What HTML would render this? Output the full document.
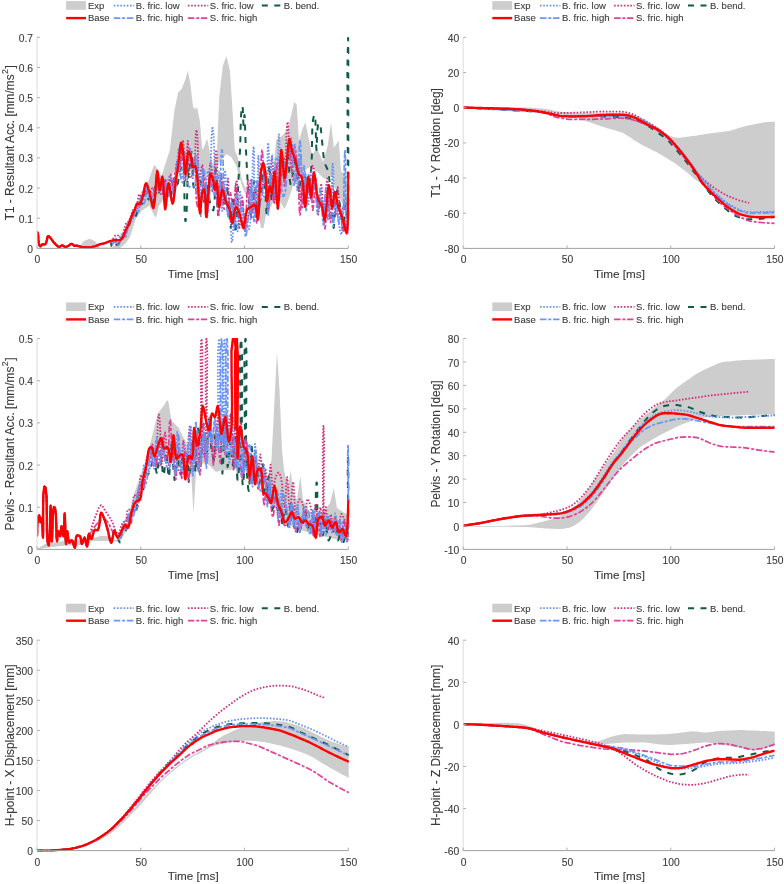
<!DOCTYPE html>
<html><head><meta charset="utf-8"><title>Figure</title>
<style>html,body{margin:0;padding:0;background:#fff;}svg{display:block;font-family:"Liberation Sans",sans-serif;filter:blur(0.35px);}text{stroke:#3a3a3a;stroke-width:0.1px;}</style>
</head><body>
<svg width="784" height="884" viewBox="0 0 784 884">
<defs><clipPath id="clipA"><rect x="37.0" y="36.8" width="312.3" height="211.9"/></clipPath>
<clipPath id="clipB"><rect x="463.2" y="36.8" width="312.3" height="211.9"/></clipPath>
<clipPath id="clipC"><rect x="37.0" y="338.1" width="312.3" height="211.9"/></clipPath>
<clipPath id="clipD"><rect x="463.2" y="338.1" width="312.3" height="211.9"/></clipPath>
<clipPath id="clipE"><rect x="37.0" y="639.7" width="312.3" height="211.9"/></clipPath>
<clipPath id="clipF"><rect x="463.2" y="639.7" width="312.3" height="211.9"/></clipPath></defs>
<rect width="784" height="884" fill="#fff"/>
<path d="M37.0,248.0 L78.0,248.0 L84.0,241.0 L89.6,238.7 L95.0,241.0 L100.0,247.5 L112.0,247.5 L120.0,242.0 L125.0,236.0 L130.0,222.0 L136.0,205.0 L142.0,192.0 L148.0,182.0 L154.1,164.7 L157.0,168.0 L161.3,176.8 L165.0,165.0 L169.8,150.3 L174.6,109.3 L178.2,92.4 L181.8,88.8 L185.4,79.2 L187.8,70.7 L190.2,82.8 L193.1,106.9 L195.1,109.3 L197.0,106.9 L199.9,121.3 L202.3,150.0 L204.7,145.4 L207.1,138.2 L209.5,150.3 L213.1,165.0 L216.7,157.5 L219.2,97.2 L222.8,65.9 L226.4,56.3 L230.0,70.7 L232.4,109.3 L234.8,150.3 L238.0,158.0 L242.0,180.0 L250.0,198.0 L258.0,204.0 L261.0,198.0 L263.5,198.0 L267.0,205.0 L272.0,185.0 L276.1,140.0 L282.0,136.0 L288.1,128.5 L294.2,102.0 L296.6,104.4 L299.0,140.5 L302.6,128.5 L305.5,122.4 L308.6,138.1 L312.2,155.0 L317.0,147.7 L323.0,162.1 L327.8,145.3 L331.0,122.4 L333.9,147.7 L338.7,140.5 L341.1,171.8 L345.9,174.2 L348.6,181.4 L348.6,205.5 L343.5,205.5 L336.3,191.0 L331.5,176.6 L324.2,179.0 L317.0,171.8 L309.8,167.0 L302.6,171.8 L297.8,176.6 L292.9,186.2 L288.1,200.7 L284.5,209.1 L280.9,203.0 L276.1,192.0 L272.0,205.0 L266.0,215.0 L263.5,228.0 L261.0,228.0 L258.0,212.0 L250.0,205.0 L242.0,186.0 L236.0,165.0 L231.2,157.0 L226.4,154.0 L219.2,162.3 L214.3,176.8 L210.0,195.0 L207.1,174.3 L199.9,172.0 L192.7,162.3 L185.4,157.5 L178.2,164.7 L173.4,172.0 L168.6,186.4 L166.1,196.0 L158.9,205.7 L156.0,218.0 L154.1,215.3 L149.3,205.7 L142.0,210.5 L136.0,218.3 L130.0,237.0 L125.3,243.8 L120.0,248.0 L37.0,248.0 Z" fill="#cdcdcd" stroke="none"/>
<g clip-path="url(#clipA)">
<path d="M37.0,231.7 L37.2,232.1 L37.5,232.5 L37.7,233.0 L37.9,233.6 L38.2,236.0 L38.4,239.4 L38.7,242.7 L39.2,245.0 L39.5,245.5 L39.8,245.9 L40.1,246.2 L40.5,246.3 L40.9,246.0 L41.4,245.5 L41.9,244.8 L42.4,244.4 L43.0,244.3 L43.7,244.4 L44.3,244.5 L44.9,244.4 L45.3,244.1 L45.6,243.7 L45.9,243.1 L46.2,242.5 L46.7,240.9 L47.1,238.9 L47.5,237.0 L48.1,236.1 L48.5,236.1 L49.0,236.5 L49.5,236.9 L50.0,237.4 L50.5,238.0 L51.0,238.6 L51.5,239.3 L52.0,240.0 L52.5,240.6 L52.9,241.3 L53.4,241.9 L53.9,242.5 L54.5,243.1 L55.1,243.8 L55.7,244.4 L56.4,245.0 L57.0,245.6 L57.7,246.2 L58.3,246.8 L59.0,247.0 L59.7,246.8 L60.5,246.2 L61.3,245.6 L62.1,245.3 L62.9,245.6 L63.7,246.1 L64.5,246.7 L65.3,247.0 L66.1,246.9 L66.9,246.6 L67.7,246.1 L68.5,245.7 L69.3,245.2 L70.1,244.5 L70.9,244.0 L71.7,243.8 L72.4,244.1 L73.0,244.7 L73.6,245.3 L74.3,245.7 L74.9,245.8 L75.5,245.8 L76.2,245.7 L76.8,245.7 L77.5,245.8 L78.1,246.0 L78.8,246.1 L79.4,246.3 L80.0,246.5 L80.6,246.7 L81.2,246.8 L81.9,247.0 L83.6,247.2 L85.6,247.3 L87.7,247.4 L89.6,247.3 L91.0,247.1 L92.2,246.9 L93.5,246.6 L94.7,246.3 L96.0,245.9 L97.3,245.4 L98.5,244.9 L99.8,244.4 L101.1,244.0 L102.3,243.8 L103.6,243.5 L104.9,243.1 L106.3,242.5 L107.7,241.7 L108.9,241.2 L110.0,241.2 L110.7,242.3 L111.2,244.1 L111.5,245.9 L112.0,246.7 L112.5,246.2 L113.1,244.9 L113.6,243.7 L114.3,243.0 L115.0,243.3 L115.7,244.0 L116.5,244.8 L117.2,245.1 L117.9,244.7 L118.5,243.9 L119.0,242.9 L119.6,241.9 L120.2,240.8 L120.8,239.7 L121.4,238.5 L122.1,237.4 L122.9,236.1 L123.8,234.9 L124.7,233.6 L125.5,232.6 L126.1,232.1 L126.6,231.7 L127.2,231.2 L127.7,230.6 L128.6,228.1 L129.4,224.6 L130.2,221.3 L131.3,219.2 L132.0,218.9 L132.8,218.9 L133.5,218.9 L134.2,218.7 L134.9,217.9 L135.5,216.8 L136.1,215.4 L136.6,214.0 L137.3,211.2 L137.9,207.7 L138.5,204.6 L139.5,202.9 L140.2,202.9 L141.0,203.3 L141.9,203.7 L142.6,203.7 L143.7,201.3 L144.4,197.1 L145.0,193.1 L145.7,191.3 L146.4,192.5 L147.1,195.3 L147.8,198.1 L148.5,199.4 L149.1,198.8 L149.7,197.4 L150.3,196.1 L150.8,195.5 L151.4,196.7 L152.0,199.4 L152.5,201.9 L153.0,203.1 L153.5,200.6 L153.9,195.0 L154.4,189.4 L155.2,186.7 L156.0,187.5 L156.9,189.6 L157.9,191.6 L158.8,192.5 L159.7,191.1 L160.5,188.2 L161.3,185.3 L162.0,184.0 L162.9,186.4 L163.8,191.5 L164.6,196.6 L165.3,198.9 L165.9,196.8 L166.4,192.2 L166.9,187.5 L167.5,185.4 L168.2,187.2 L169.1,191.0 L169.9,194.9 L170.7,196.7 L171.5,193.9 L172.2,187.9 L172.9,181.8 L173.9,178.9 L174.7,179.7 L175.6,181.7 L176.4,183.7 L177.2,184.6 L178.0,183.0 L178.5,179.4 L179.1,175.1 L179.8,171.6 L180.6,169.3 L181.4,166.9 L182.3,165.1 L183.0,164.5 L184.1,173.3 L184.4,192.4 L184.6,211.6 L185.3,221.0 L185.4,221.1 L185.5,221.1 L185.6,221.1 L185.7,221.0 L186.6,212.0 L187.2,193.7 L187.6,175.6 L188.0,167.4 L188.1,169.0 L188.3,172.4 L188.4,175.8 L188.6,177.4 L189.2,173.3 L190.0,164.2 L190.8,155.1 L191.6,151.0 L192.2,157.1 L192.6,170.5 L193.2,184.2 L194.6,190.9 L195.2,190.9 L195.8,190.4 L196.5,189.7 L197.1,188.9 L198.0,186.3 L198.7,182.7 L199.3,179.4 L199.9,178.0 L200.8,182.0 L201.6,190.7 L202.4,199.4 L203.3,203.4 L204.2,200.0 L205.0,192.4 L205.9,184.8 L206.8,181.4 L207.6,184.2 L208.4,190.9 L209.2,198.5 L210.3,204.2 L211.0,206.4 L211.9,208.4 L212.7,209.9 L213.4,210.4 L214.5,203.7 L215.1,189.5 L215.4,175.3 L215.8,168.9 L216.3,176.1 L216.9,191.8 L217.4,207.6 L218.0,214.8 L218.6,208.8 L219.3,195.6 L220.1,182.4 L220.9,176.4 L221.7,181.0 L222.6,191.2 L223.5,201.4 L224.4,206.0 L225.1,203.3 L225.8,197.3 L226.4,191.4 L227.1,188.7 L228.1,194.8 L229.0,208.3 L229.9,221.8 L230.7,227.9 L231.4,222.9 L232.0,211.9 L232.5,201.0 L233.1,196.0 L233.7,201.8 L234.4,214.7 L235.0,227.5 L235.6,233.3 L236.2,228.5 L236.8,217.0 L237.4,202.7 L238.0,190.0 L238.5,179.9 L239.0,169.9 L239.5,160.0 L240.0,150.0 L240.4,139.0 L240.6,127.4 L241.0,117.1 L241.5,110.0 L241.7,108.5 L242.0,107.2 L242.3,106.3 L242.5,106.0 L242.8,109.0 L243.1,115.5 L243.3,122.0 L243.5,125.0 L243.7,123.4 L244.0,120.0 L244.3,116.6 L244.5,115.0 L244.8,117.7 L245.0,124.2 L245.2,132.4 L245.5,140.0 L245.8,147.3 L246.2,154.8 L246.6,162.4 L247.0,170.0 L247.4,177.7 L247.9,185.5 L248.4,193.1 L249.0,200.0 L249.6,205.5 L250.2,211.1 L250.9,215.4 L251.5,217.2 L252.2,211.5 L252.9,199.0 L253.6,186.6 L254.3,180.9 L255.0,185.3 L255.8,195.1 L256.6,204.8 L257.6,209.3 L258.4,207.8 L259.3,204.0 L260.2,199.1 L261.0,194.2 L261.8,185.8 L262.3,175.5 L262.8,166.8 L263.3,163.1 L264.2,171.2 L265.1,189.0 L266.0,206.8 L266.8,214.9 L267.5,207.0 L268.1,189.6 L268.7,172.2 L269.3,164.3 L269.9,170.2 L270.4,183.0 L271.0,195.9 L271.7,201.8 L272.3,197.9 L272.9,189.4 L273.5,180.9 L274.2,177.0 L275.1,182.0 L276.0,192.9 L276.9,203.8 L277.8,208.8 L278.6,202.5 L279.2,188.7 L279.9,174.8 L281.1,168.4 L281.9,169.8 L282.9,173.1 L283.9,176.4 L284.7,177.9 L285.7,174.3 L286.5,166.4 L287.2,158.6 L287.9,155.1 L288.6,159.6 L289.1,169.6 L289.7,179.5 L290.5,184.1 L291.1,183.0 L291.8,180.4 L292.5,177.0 L293.1,173.7 L293.8,169.0 L294.5,163.4 L295.2,158.7 L295.8,156.8 L296.6,162.4 L297.4,174.6 L298.1,186.9 L299.0,192.5 L299.6,190.0 L300.2,184.3 L300.9,178.4 L302.1,175.3 L302.9,175.2 L303.7,175.6 L304.6,176.2 L305.4,177.0 L306.5,178.9 L307.4,181.6 L308.3,184.0 L309.0,185.0 L309.9,183.0 L310.5,178.2 L311.0,171.9 L311.4,165.6 L311.9,154.5 L312.0,141.2 L312.3,128.7 L313.0,120.0 L313.4,118.1 L313.8,116.4 L314.3,115.2 L314.7,114.8 L315.4,120.4 L315.8,132.5 L316.1,144.5 L316.5,150.0 L316.8,146.6 L316.9,138.9 L317.3,130.4 L318.0,125.0 L318.4,124.2 L318.8,123.5 L319.2,123.1 L319.6,123.0 L320.4,125.1 L321.0,129.8 L321.5,135.6 L322.0,141.0 L322.6,146.4 L323.1,152.2 L323.7,157.7 L324.5,162.3 L325.3,164.6 L326.2,166.5 L327.0,168.4 L327.8,170.5 L328.5,173.7 L329.1,177.3 L329.5,181.1 L330.0,185.0 L330.6,190.1 L331.1,195.5 L331.5,201.1 L332.0,206.6 L332.4,213.0 L332.8,220.0 L333.2,225.7 L333.7,228.0 L334.4,222.2 L335.1,209.5 L335.9,196.8 L336.9,191.0 L337.6,192.4 L338.4,195.9 L339.2,200.4 L339.9,204.8 L340.8,211.9 L341.7,220.4 L342.5,227.6 L343.2,230.6 L343.9,226.4 L344.5,217.3 L345.1,208.2 L345.7,204.0 L346.2,206.4 L346.6,211.6 L347.0,216.8 L347.4,219.1 L347.9,191.0 L347.6,129.2 L347.4,67.1 L348.1,38.0 L348.1,38.0 L348.2,38.0 L348.3,38.0 L348.3,38.0 L349.2,58.5 L349.3,106.3 L349.1,165.0 L349.0,218.3" fill="none" stroke="#0f5a48" stroke-width="2.0" stroke-dasharray="6 6.5" stroke-linejoin="round"/>
<path d="M37.0,231.7 L37.2,232.1 L37.5,232.5 L37.7,233.0 L37.9,233.6 L38.2,236.0 L38.4,239.4 L38.7,242.7 L39.2,245.0 L39.5,245.5 L39.8,245.9 L40.1,246.2 L40.5,246.3 L40.9,246.0 L41.4,245.5 L41.9,244.8 L42.4,244.4 L43.0,244.3 L43.7,244.4 L44.3,244.5 L44.9,244.4 L45.3,244.1 L45.6,243.7 L45.9,243.1 L46.2,242.5 L46.7,240.9 L47.1,238.9 L47.5,237.0 L48.1,236.1 L48.5,236.1 L49.0,236.5 L49.5,236.9 L50.0,237.4 L50.5,238.0 L51.0,238.6 L51.5,239.3 L52.0,240.0 L52.5,240.6 L52.9,241.3 L53.4,241.9 L53.9,242.5 L54.5,243.1 L55.1,243.8 L55.7,244.4 L56.4,245.0 L57.0,245.6 L57.7,246.2 L58.3,246.8 L59.0,247.0 L59.7,246.8 L60.5,246.2 L61.3,245.6 L62.1,245.3 L62.9,245.6 L63.7,246.1 L64.5,246.7 L65.3,247.0 L66.1,246.9 L66.9,246.6 L67.7,246.1 L68.5,245.7 L69.3,245.2 L70.1,244.5 L70.9,244.0 L71.7,243.8 L72.4,244.1 L73.0,244.7 L73.6,245.3 L74.3,245.7 L74.9,245.8 L75.5,245.8 L76.2,245.7 L76.8,245.7 L77.5,245.8 L78.1,246.0 L78.8,246.1 L79.4,246.3 L80.0,246.5 L80.6,246.7 L81.2,246.8 L81.9,247.0 L83.6,247.2 L85.6,247.3 L87.7,247.4 L89.6,247.3 L91.0,247.1 L92.2,246.9 L93.5,246.6 L94.7,246.3 L96.0,245.9 L97.3,245.4 L98.5,244.9 L99.8,244.4 L101.1,244.0 L102.3,243.8 L103.6,243.5 L104.9,243.1 L106.2,242.5 L107.6,241.8 L108.9,241.3 L110.0,241.2 L110.6,241.8 L111.1,242.7 L111.5,243.6 L112.0,244.1 L112.8,243.8 L113.6,242.9 L114.5,242.0 L115.4,241.5 L116.3,241.8 L117.3,242.5 L118.2,243.2 L119.0,243.4 L119.8,242.4 L120.5,240.5 L121.1,238.6 L121.9,237.2 L122.5,236.9 L123.3,236.8 L124.0,236.7 L124.6,236.3 L125.6,234.5 L126.3,231.7 L127.0,228.7 L127.7,225.9 L128.3,223.7 L128.9,221.4 L129.6,219.4 L130.5,217.8 L131.3,217.1 L132.2,216.7 L133.1,216.3 L133.9,215.6 L134.8,212.9 L135.4,209.1 L135.9,205.6 L136.7,204.0 L137.5,204.5 L138.3,205.8 L139.2,207.1 L139.9,207.6 L140.7,205.1 L141.2,200.0 L141.7,194.9 L142.6,192.3 L143.3,192.6 L144.2,193.6 L145.0,194.6 L145.8,195.0 L146.7,194.1 L147.5,192.3 L148.3,190.5 L149.1,189.7 L149.8,190.1 L150.5,191.1 L151.2,192.4 L151.9,193.4 L152.7,194.3 L153.5,195.2 L154.4,195.9 L155.1,196.0 L156.2,192.7 L156.7,186.1 L157.2,179.7 L157.7,176.8 L158.3,179.4 L158.9,185.3 L159.6,191.2 L160.6,194.2 L161.2,194.2 L161.8,193.8 L162.4,193.1 L163.0,192.3 L163.9,189.4 L164.5,185.1 L165.0,181.3 L165.5,179.7 L166.1,182.2 L166.7,187.7 L167.3,193.1 L167.9,195.6 L168.7,193.0 L169.5,187.2 L170.3,181.4 L171.1,178.8 L171.8,181.3 L172.4,186.7 L172.9,192.1 L173.5,194.6 L173.9,190.8 L174.2,182.4 L174.7,173.8 L175.9,169.3 L176.7,169.4 L177.6,170.0 L178.4,170.7 L179.2,170.8 L180.3,167.0 L180.9,159.8 L181.1,152.8 L181.6,149.7 L182.3,153.3 L183.1,161.2 L183.9,169.1 L184.7,172.7 L185.4,170.7 L186.2,166.2 L187.0,161.6 L187.5,159.6 L187.7,160.5 L187.8,162.5 L187.9,164.5 L188.0,165.4 L188.3,163.1 L188.7,158.0 L189.2,152.7 L189.8,150.0 L189.9,149.9 L190.0,149.9 L190.1,149.9 L190.2,150.0 L190.7,153.2 L191.1,159.6 L191.4,165.8 L192.0,168.6 L192.6,167.1 L193.3,163.6 L194.1,160.2 L194.7,158.7 L195.5,166.3 L195.7,183.1 L196.3,200.0 L197.7,208.1 L198.4,208.0 L199.3,207.3 L200.1,206.2 L200.8,204.9 L202.1,198.0 L202.9,187.5 L203.5,178.0 L204.1,173.8 L204.9,180.6 L205.7,195.6 L206.5,210.5 L207.2,217.3 L207.8,211.1 L208.4,197.5 L209.1,183.8 L209.9,177.6 L210.5,179.7 L211.1,184.5 L211.8,189.2 L212.5,191.4 L213.1,189.6 L213.8,185.7 L214.5,181.8 L215.1,180.0 L216.1,185.8 L216.9,198.5 L217.7,211.2 L218.5,216.9 L219.3,210.0 L220.0,194.8 L220.7,179.7 L221.4,172.8 L221.8,178.2 L222.0,190.2 L222.5,202.6 L224.0,209.0 L224.7,209.2 L225.6,209.0 L226.4,208.5 L227.2,207.8 L228.4,204.5 L229.3,199.5 L229.9,194.8 L230.6,192.8 L231.5,197.6 L232.1,208.0 L232.7,218.4 L233.3,223.1 L233.9,216.9 L234.5,203.2 L235.1,189.5 L235.7,183.3 L236.3,188.5 L237.0,199.9 L237.7,211.4 L238.6,216.6 L239.4,213.5 L240.3,206.8 L241.3,200.0 L242.1,197.0 L243.0,202.4 L243.8,214.2 L244.4,226.0 L245.1,231.4 L245.9,223.4 L246.5,205.8 L247.2,188.3 L247.9,180.3 L248.6,186.2 L249.3,199.1 L250.0,212.0 L250.8,217.9 L251.5,214.3 L252.3,206.3 L253.1,198.3 L253.8,194.7 L254.6,199.1 L255.3,208.9 L256.0,218.6 L256.7,223.0 L257.4,216.7 L258.1,202.9 L258.6,189.0 L259.2,182.7 L259.4,183.7 L259.6,185.9 L259.8,188.0 L260.0,189.0 L260.4,183.0 L260.9,169.8 L261.3,156.5 L261.9,150.0 L261.9,150.0 L262.0,150.0 L262.1,150.0 L262.1,150.0 L262.7,155.0 L263.2,165.3 L263.6,175.4 L264.0,180.0 L264.2,177.9 L264.4,173.4 L264.6,168.9 L264.8,166.8 L265.5,173.7 L266.5,188.7 L267.5,203.8 L268.4,210.7 L269.1,205.0 L269.8,192.5 L270.5,179.9 L271.2,174.2 L271.8,178.4 L272.3,187.5 L272.9,196.6 L273.5,200.8 L274.2,195.3 L275.0,183.2 L275.7,171.1 L276.5,165.6 L277.2,170.7 L278.0,181.9 L278.7,193.0 L279.4,198.1 L280.1,192.0 L280.7,178.6 L281.3,165.1 L282.0,159.0 L282.6,163.4 L283.3,173.2 L284.0,183.0 L284.7,187.4 L285.5,180.6 L286.4,165.7 L287.2,150.7 L288.2,143.9 L289.1,148.2 L290.0,157.5 L290.9,166.9 L291.8,171.2 L292.5,167.3 L293.2,158.6 L293.9,150.0 L294.6,146.1 L295.5,149.2 L296.4,156.8 L297.3,166.3 L298.0,175.3 L298.6,186.5 L299.0,199.4 L299.4,210.1 L299.9,215.0 L299.9,215.0 L300.0,215.0 L300.1,215.0 L300.1,215.0 L300.7,209.9 L301.2,199.6 L301.6,189.3 L302.0,184.7 L302.2,188.3 L302.2,196.1 L302.3,204.0 L302.5,207.6 L302.9,203.6 L303.5,194.6 L304.1,185.7 L304.8,181.6 L305.4,183.7 L306.0,188.4 L306.6,193.1 L307.3,195.2 L308.1,193.2 L308.9,188.7 L309.8,184.2 L310.5,182.2 L311.3,186.7 L311.8,196.4 L312.3,206.1 L312.8,210.5 L313.5,205.4 L314.3,194.2 L315.1,183.0 L315.8,177.9 L316.4,182.7 L316.9,193.2 L317.6,203.7 L318.5,208.6 L319.3,207.0 L320.1,203.4 L321.0,199.8 L321.8,198.2 L322.8,203.1 L323.6,213.6 L324.3,224.1 L325.0,228.9 L325.7,223.8 L326.3,212.6 L326.9,201.4 L327.6,196.3 L328.3,200.4 L329.1,209.3 L329.8,218.2 L330.6,222.3 L331.4,217.9 L332.2,208.2 L333.1,198.4 L333.9,194.0 L334.5,197.4 L335.0,204.8 L335.7,212.4 L336.7,215.9 L337.5,214.9 L338.5,212.5 L339.5,210.1 L340.3,209.1 L341.2,212.8 L341.7,220.5 L342.1,228.3 L342.7,231.8 L343.3,230.1 L343.9,226.4 L344.5,222.7 L345.0,221.0 L345.5,223.1 L346.0,227.8 L346.5,232.6 L346.9,235.0 L347.0,235.0 L347.0,235.0 L347.1,235.0 L347.1,235.0 L347.6,232.7 L348.1,227.8 L348.5,221.8 L349.0,216.3" fill="none" stroke="#e0409a" stroke-width="1.7" stroke-dasharray="6.5 1.8 3 1.7" stroke-linejoin="round"/>
<path d="M37.0,231.7 L37.2,232.1 L37.5,232.5 L37.7,233.0 L37.9,233.6 L38.2,236.0 L38.4,239.4 L38.7,242.7 L39.2,245.0 L39.5,245.5 L39.8,245.9 L40.1,246.2 L40.5,246.3 L40.9,246.0 L41.4,245.5 L41.9,244.8 L42.4,244.4 L43.0,244.3 L43.7,244.4 L44.3,244.5 L44.9,244.4 L45.3,244.1 L45.6,243.7 L45.9,243.1 L46.2,242.5 L46.7,240.9 L47.1,238.9 L47.5,237.0 L48.1,236.1 L48.5,236.1 L49.0,236.5 L49.5,236.9 L50.0,237.4 L50.5,238.0 L51.0,238.6 L51.5,239.3 L52.0,240.0 L52.5,240.6 L52.9,241.3 L53.4,241.9 L53.9,242.5 L54.5,243.1 L55.1,243.8 L55.7,244.4 L56.4,245.0 L57.0,245.6 L57.7,246.2 L58.3,246.8 L59.0,247.0 L59.7,246.8 L60.5,246.2 L61.3,245.6 L62.1,245.3 L62.9,245.6 L63.7,246.1 L64.5,246.7 L65.3,247.0 L66.1,246.9 L66.9,246.6 L67.7,246.1 L68.5,245.7 L69.3,245.2 L70.1,244.5 L70.9,244.0 L71.7,243.8 L72.4,244.1 L73.0,244.7 L73.6,245.3 L74.3,245.7 L74.9,245.8 L75.5,245.8 L76.2,245.7 L76.8,245.7 L77.5,245.8 L78.1,246.0 L78.8,246.1 L79.4,246.3 L80.0,246.5 L80.6,246.7 L81.2,246.8 L81.9,247.0 L83.6,247.2 L85.6,247.3 L87.7,247.4 L89.6,247.3 L91.0,247.1 L92.2,246.9 L93.5,246.6 L94.7,246.3 L96.0,245.9 L97.3,245.4 L98.5,244.9 L99.8,244.4 L101.1,244.0 L102.3,243.8 L103.6,243.5 L104.9,243.1 L106.2,242.6 L107.6,242.1 L108.9,241.6 L110.0,241.2 L110.6,241.1 L111.1,241.0 L111.5,240.9 L112.0,240.6 L112.8,239.5 L113.6,237.9 L114.5,236.4 L115.4,235.4 L116.1,235.2 L116.8,235.1 L117.5,235.3 L118.2,235.5 L119.0,236.1 L119.8,237.1 L120.6,237.9 L121.3,238.2 L122.1,237.2 L122.7,235.1 L123.3,232.5 L123.9,230.2 L124.5,228.1 L125.1,226.0 L125.8,224.0 L126.6,222.6 L127.2,222.1 L127.9,221.9 L128.6,221.7 L129.3,221.2 L130.3,219.1 L131.1,216.1 L131.8,212.9 L132.8,210.4 L133.6,209.3 L134.6,208.4 L135.5,207.6 L136.3,206.4 L137.2,203.3 L137.9,199.3 L138.6,195.8 L139.4,194.2 L140.2,195.1 L141.1,197.2 L141.9,199.2 L142.7,200.1 L143.6,197.6 L144.3,192.4 L144.9,187.2 L145.8,184.8 L146.6,185.8 L147.4,188.1 L148.3,190.4 L149.3,191.6 L150.1,191.1 L150.9,190.0 L151.7,188.8 L152.5,188.3 L153.4,189.4 L154.2,191.5 L155.0,193.6 L155.7,194.5 L156.6,191.9 L157.2,186.2 L157.8,180.6 L158.5,178.1 L159.2,180.1 L160.0,184.6 L160.8,189.1 L161.6,191.2 L162.4,189.4 L163.2,185.3 L164.0,181.3 L164.7,179.5 L165.3,181.2 L165.9,184.9 L166.5,188.5 L167.1,190.2 L167.9,187.7 L168.8,182.3 L169.7,176.9 L170.6,174.4 L171.4,177.0 L172.2,182.6 L172.9,188.3 L173.6,190.8 L174.5,186.2 L175.2,176.2 L176.0,166.2 L176.9,161.6 L177.5,163.2 L178.1,166.9 L178.8,170.6 L179.4,172.2 L180.4,167.1 L181.3,156.0 L182.2,144.9 L183.0,139.9 L183.7,146.5 L184.3,160.9 L184.8,175.3 L185.3,181.8 L185.9,175.4 L186.5,161.4 L187.2,147.4 L187.8,141.0 L188.3,146.7 L188.7,159.4 L189.4,172.1 L190.4,178.0 L191.2,177.2 L192.2,174.9 L193.2,171.8 L194.0,168.4 L194.9,159.0 L195.4,146.5 L195.7,135.3 L196.3,130.0 L196.4,129.9 L196.5,129.9 L196.6,129.9 L196.7,130.0 L197.6,139.2 L198.1,158.1 L198.5,176.8 L199.0,185.2 L199.2,184.1 L199.4,181.6 L199.7,178.4 L200.0,175.5 L200.5,172.4 L201.2,169.1 L201.8,166.3 L202.4,165.2 L202.9,169.8 L203.2,180.0 L203.6,190.4 L204.8,195.7 L205.4,195.8 L206.0,195.7 L206.6,195.2 L207.2,194.6 L208.5,188.3 L209.1,177.6 L209.6,167.6 L210.3,163.1 L211.2,165.7 L212.2,171.6 L213.2,177.4 L214.0,180.0 L214.6,175.4 L214.9,165.4 L215.2,155.1 L215.8,150.0 L215.9,149.9 L216.0,149.9 L216.1,149.9 L216.2,150.0 L216.9,155.0 L217.2,165.6 L217.5,177.6 L218.0,187.0 L218.4,191.0 L218.8,194.9 L219.2,197.8 L219.7,199.0 L220.4,196.2 L221.3,190.1 L222.1,184.0 L222.9,181.2 L223.6,184.9 L224.2,193.1 L224.8,201.3 L225.4,205.0 L226.1,200.9 L226.7,191.7 L227.4,182.6 L228.0,178.5 L228.4,185.1 L228.7,199.7 L229.2,214.5 L230.5,221.6 L231.2,221.5 L232.0,220.7 L232.8,219.6 L233.5,218.2 L234.9,209.8 L235.7,196.9 L236.2,185.1 L236.8,179.9 L237.5,187.6 L238.1,204.4 L238.6,221.3 L239.3,229.0 L239.9,224.5 L240.6,214.6 L241.3,204.7 L242.0,200.2 L242.7,204.8 L243.4,214.9 L244.1,225.0 L245.0,229.6 L245.8,228.3 L246.6,225.0 L247.5,220.7 L248.2,216.2 L249.0,206.8 L249.6,194.9 L250.0,184.7 L250.5,180.4 L251.1,185.4 L251.6,196.5 L252.2,207.6 L252.8,212.6 L253.4,208.7 L254.0,200.0 L254.7,191.3 L255.3,187.3 L255.9,191.8 L256.5,201.6 L257.1,211.4 L257.7,215.8 L258.4,208.9 L259.1,193.9 L259.9,178.8 L260.7,171.9 L261.3,174.6 L262.0,180.7 L262.7,186.7 L263.3,189.5 L263.9,186.6 L264.5,180.2 L265.1,173.9 L265.7,171.0 L266.4,174.4 L267.1,181.9 L267.8,189.3 L268.5,192.7 L269.4,187.1 L270.3,174.7 L271.1,162.4 L271.9,156.8 L272.6,164.2 L273.1,180.4 L273.7,196.6 L274.3,204.0 L275.0,197.4 L275.7,183.0 L276.6,168.5 L277.7,161.9 L278.5,164.2 L279.5,169.2 L280.5,174.3 L281.3,176.6 L282.1,173.5 L282.8,166.8 L283.5,160.1 L284.0,157.1 L284.3,158.4 L284.5,161.4 L284.8,164.4 L285.0,165.7 L285.6,159.0 L286.1,144.2 L286.7,129.2 L287.4,122.0 L287.4,122.0 L287.5,122.0 L287.6,122.0 L287.6,122.0 L288.3,127.5 L288.9,138.8 L289.5,150.0 L290.0,155.1 L290.2,153.7 L290.3,150.6 L290.4,147.4 L290.6,146.0 L290.9,150.9 L291.3,162.0 L292.0,173.6 L293.4,180.3 L294.0,180.8 L294.6,181.1 L295.2,181.2 L295.8,181.0 L296.9,177.2 L297.5,170.2 L297.9,163.3 L298.3,160.3 L298.9,166.6 L299.4,180.3 L299.9,194.1 L300.6,200.4 L301.3,196.3 L302.1,187.3 L302.9,178.3 L303.8,174.2 L304.6,177.0 L305.5,183.3 L306.4,189.6 L307.3,192.4 L308.0,190.7 L308.7,186.5 L309.3,181.4 L310.0,177.0 L310.6,173.5 L311.2,169.9 L311.8,167.0 L312.5,165.8 L313.3,167.1 L314.1,170.3 L314.9,174.5 L315.6,178.9 L316.4,188.5 L317.0,200.7 L317.5,211.2 L318.1,215.7 L318.8,210.7 L319.6,199.6 L320.4,188.5 L321.2,183.5 L321.8,188.0 L322.4,197.9 L323.0,207.9 L323.7,212.4 L324.5,207.1 L325.5,195.4 L326.4,183.8 L327.2,178.5 L327.9,184.4 L328.5,197.5 L329.1,210.5 L329.7,216.4 L330.3,211.2 L331.0,199.7 L331.6,188.1 L332.3,182.9 L332.9,186.9 L333.5,195.8 L334.2,204.7 L334.9,208.8 L335.6,205.4 L336.3,197.9 L337.1,190.5 L337.8,187.1 L338.5,192.1 L339.2,203.0 L339.9,214.0 L340.8,219.0 L341.4,217.0 L342.0,212.4 L342.8,207.6 L344.0,204.6 L344.8,204.1 L345.8,204.0 L346.7,204.0 L347.4,204.4 L348.0,205.7 L348.3,207.7 L348.3,210.1 L348.5,212.3" fill="none" stroke="#d0307a" stroke-width="1.8" stroke-dasharray="1.6 1.65" stroke-linejoin="round"/>
<path d="M37.0,231.7 L37.2,232.1 L37.5,232.5 L37.7,233.0 L37.9,233.6 L38.2,236.0 L38.4,239.4 L38.7,242.7 L39.2,245.0 L39.5,245.5 L39.8,245.9 L40.1,246.2 L40.5,246.3 L40.9,246.0 L41.4,245.5 L41.9,244.8 L42.4,244.4 L43.0,244.3 L43.7,244.4 L44.3,244.5 L44.9,244.4 L45.3,244.1 L45.6,243.7 L45.9,243.1 L46.2,242.5 L46.7,240.9 L47.1,238.9 L47.5,237.0 L48.1,236.1 L48.5,236.1 L49.0,236.5 L49.5,236.9 L50.0,237.4 L50.5,238.0 L51.0,238.6 L51.5,239.3 L52.0,240.0 L52.5,240.6 L52.9,241.3 L53.4,241.9 L53.9,242.5 L54.5,243.1 L55.1,243.8 L55.7,244.4 L56.4,245.0 L57.0,245.6 L57.7,246.2 L58.3,246.8 L59.0,247.0 L59.7,246.8 L60.5,246.2 L61.3,245.6 L62.1,245.3 L62.9,245.6 L63.7,246.1 L64.5,246.7 L65.3,247.0 L66.1,246.9 L66.9,246.6 L67.7,246.1 L68.5,245.7 L69.3,245.2 L70.1,244.5 L70.9,244.0 L71.7,243.8 L72.4,244.1 L73.0,244.7 L73.6,245.3 L74.3,245.7 L74.9,245.8 L75.5,245.8 L76.2,245.7 L76.8,245.7 L77.5,245.8 L78.1,246.0 L78.8,246.1 L79.4,246.3 L80.0,246.5 L80.6,246.7 L81.2,246.8 L81.9,247.0 L83.6,247.2 L85.6,247.3 L87.7,247.4 L89.6,247.3 L91.0,247.1 L92.2,246.9 L93.5,246.6 L94.7,246.3 L96.0,245.9 L97.3,245.4 L98.5,244.9 L99.8,244.4 L101.1,244.0 L102.3,243.8 L103.6,243.5 L104.9,243.1 L106.3,242.5 L107.6,241.8 L108.9,241.2 L110.0,241.2 L110.6,241.8 L111.1,242.9 L111.5,243.9 L112.0,244.4 L112.6,244.0 L113.2,243.0 L113.9,242.0 L114.6,241.5 L115.5,242.1 L116.4,243.5 L117.2,244.9 L118.1,245.5 L119.0,244.5 L119.8,242.5 L120.6,240.3 L121.6,238.9 L122.3,238.7 L123.1,238.7 L123.9,238.7 L124.6,238.5 L125.3,237.6 L125.9,236.3 L126.3,234.7 L126.8,233.0 L127.5,230.0 L128.0,226.4 L128.7,223.0 L129.7,220.5 L130.5,219.7 L131.4,219.3 L132.2,218.8 L133.0,218.1 L133.8,216.0 L134.2,213.2 L134.7,210.7 L135.4,209.5 L136.1,209.9 L136.8,210.8 L137.5,211.8 L138.2,212.1 L139.2,209.5 L140.0,204.1 L140.6,198.9 L141.4,196.5 L142.1,197.6 L142.7,200.0 L143.4,202.4 L144.1,203.5 L145.0,201.0 L145.9,195.5 L146.8,190.1 L147.6,187.6 L148.3,189.6 L148.9,194.2 L149.6,198.7 L150.4,200.8 L151.2,199.9 L152.2,197.7 L153.1,194.9 L154.0,192.3 L154.8,189.7 L155.5,186.8 L156.1,184.5 L156.8,183.5 L157.5,184.9 L158.2,188.1 L158.9,191.3 L159.5,192.7 L160.1,190.7 L160.7,186.2 L161.3,181.8 L161.8,179.8 L162.4,182.3 L162.9,187.7 L163.5,193.1 L164.1,195.6 L164.7,193.9 L165.2,190.0 L165.8,186.1 L166.4,184.4 L167.0,186.3 L167.5,190.5 L168.0,194.7 L168.6,196.6 L169.2,194.5 L169.7,190.0 L170.3,185.4 L171.0,183.3 L171.7,185.1 L172.5,189.0 L173.2,192.9 L173.9,194.7 L174.8,189.6 L175.6,178.5 L176.4,167.4 L177.3,162.3 L178.0,163.8 L178.6,167.4 L179.4,171.7 L180.1,175.3 L180.7,177.6 L181.4,180.0 L182.0,181.9 L182.6,182.6 L183.5,179.3 L184.2,172.1 L185.0,164.9 L185.7,161.6 L186.3,165.3 L186.8,173.5 L187.5,182.0 L188.8,186.7 L189.4,186.9 L190.1,186.8 L190.9,186.6 L191.6,186.4 L192.4,186.4 L193.2,186.5 L193.9,186.5 L194.6,186.1 L195.9,180.8 L196.6,171.6 L196.9,162.9 L197.3,159.0 L198.2,168.0 L199.2,187.7 L200.0,207.4 L200.8,216.4 L201.3,209.0 L201.6,192.7 L202.1,176.4 L203.0,168.9 L203.5,169.4 L204.1,170.9 L204.7,172.9 L205.2,175.2 L206.1,183.2 L206.9,194.2 L207.5,204.1 L208.2,208.3 L208.8,203.5 L209.4,192.8 L210.1,182.2 L210.9,177.3 L211.7,180.0 L212.6,186.0 L213.5,192.1 L214.3,194.8 L215.0,191.9 L215.5,185.7 L216.2,179.3 L217.1,176.3 L217.7,176.6 L218.4,177.4 L219.1,178.7 L219.6,180.0 L220.1,183.6 L220.1,188.5 L220.0,192.9 L220.0,194.7 L220.2,187.9 L220.5,172.8 L221.0,157.5 L221.8,150.0 L221.9,149.9 L222.0,149.9 L222.1,149.9 L222.2,150.0 L223.0,157.8 L223.4,173.7 L223.6,189.3 L224.0,196.4 L224.2,195.1 L224.4,192.3 L224.6,189.5 L224.9,188.2 L225.5,192.3 L226.3,201.3 L227.2,210.4 L228.2,214.5 L229.0,212.4 L230.0,207.8 L230.9,203.3 L231.7,201.2 L232.6,205.5 L233.2,214.7 L233.7,224.0 L234.3,228.2 L234.9,223.0 L235.4,211.6 L236.0,200.2 L236.6,195.0 L237.1,198.2 L237.6,205.2 L238.2,212.2 L239.0,215.5 L239.7,214.1 L240.5,211.0 L241.4,208.0 L242.1,206.6 L243.2,211.4 L244.0,221.9 L244.8,232.3 L245.6,237.0 L246.2,235.3 L246.8,231.0 L247.4,225.5 L248.0,220.1 L248.8,211.0 L249.5,200.0 L250.2,190.7 L250.9,186.8 L251.7,192.4 L252.6,204.9 L253.4,217.3 L254.2,222.9 L254.9,216.2 L255.4,201.4 L256.0,186.6 L256.6,179.9 L257.2,184.3 L257.8,193.9 L258.4,203.5 L259.2,207.9 L259.8,206.7 L260.5,203.6 L261.2,199.6 L261.9,195.8 L262.7,190.5 L263.5,184.2 L264.2,179.0 L264.9,176.8 L265.8,182.8 L266.7,195.9 L267.5,209.0 L268.2,214.9 L268.8,208.9 L269.3,195.6 L269.8,182.3 L270.6,176.2 L271.3,178.5 L272.1,183.7 L273.0,189.0 L273.7,191.3 L274.3,186.2 L274.6,175.1 L275.1,163.8 L276.3,158.4 L277.1,158.6 L277.9,159.5 L278.8,160.9 L279.6,162.6 L280.9,170.3 L281.6,181.6 L282.1,191.9 L283.1,196.5 L283.7,196.2 L284.3,195.2 L284.9,193.7 L285.4,191.9 L286.3,181.7 L286.6,166.4 L287.2,151.8 L288.8,143.8 L289.5,143.3 L290.2,143.0 L290.9,143.0 L291.6,143.3 L293.1,151.0 L293.6,165.5 L293.8,179.7 L294.2,186.0 L294.9,182.0 L295.7,173.1 L296.5,164.2 L297.1,160.2 L297.4,162.7 L297.6,168.3 L297.8,173.8 L298.0,176.3 L298.4,170.7 L298.8,158.5 L299.3,146.0 L299.9,140.0 L299.9,140.0 L300.0,140.0 L300.1,140.0 L300.1,140.0 L300.7,147.5 L301.1,163.2 L301.5,178.7 L302.0,185.7 L302.5,182.6 L303.0,175.7 L303.5,168.7 L304.0,165.6 L304.6,172.9 L305.1,188.8 L305.6,204.8 L306.2,212.0 L306.7,206.2 L307.3,193.4 L307.9,180.5 L308.5,174.7 L309.1,178.6 L309.7,187.3 L310.4,195.9 L311.1,199.9 L311.8,197.0 L312.6,190.7 L313.4,184.5 L314.2,181.6 L315.1,186.7 L316.0,197.9 L316.8,209.0 L317.6,214.1 L318.3,210.1 L319.0,201.3 L319.6,192.5 L320.3,188.5 L321.1,194.2 L321.8,206.8 L322.6,219.4 L323.3,225.1 L324.0,219.3 L324.6,206.6 L325.2,194.0 L325.8,188.2 L326.3,193.1 L326.8,203.9 L327.4,214.7 L328.0,219.6 L328.7,215.8 L329.5,207.3 L330.3,198.8 L331.0,195.0 L331.7,199.9 L332.2,210.7 L332.7,221.4 L333.3,226.3 L333.9,221.4 L334.4,210.7 L335.0,200.0 L335.7,195.1 L336.5,199.5 L337.3,209.2 L338.1,219.0 L339.0,223.4 L339.6,221.4 L340.2,217.0 L340.8,212.5 L341.3,210.5 L341.8,212.1 L342.2,215.7 L342.6,219.2 L343.0,220.8 L343.6,209.9 L344.0,185.8 L344.3,161.6 L344.9,150.0 L344.9,150.0 L345.0,150.0 L345.1,150.0 L345.1,150.0 L345.5,161.1 L345.5,184.4 L345.8,207.7 L347.0,218.7 L347.4,218.6 L347.7,218.2 L348.1,217.7 L348.5,217.3" fill="none" stroke="#6a96f5" stroke-width="1.7" stroke-dasharray="6.5 1.8 3 1.7" stroke-linejoin="round"/>
<path d="M37.0,231.7 L37.2,232.1 L37.5,232.5 L37.7,233.0 L37.9,233.6 L38.2,236.0 L38.4,239.4 L38.7,242.7 L39.2,245.0 L39.5,245.5 L39.8,245.9 L40.1,246.2 L40.5,246.3 L40.9,246.0 L41.4,245.5 L41.9,244.8 L42.4,244.4 L43.0,244.3 L43.7,244.4 L44.3,244.5 L44.9,244.4 L45.3,244.1 L45.6,243.7 L45.9,243.1 L46.2,242.5 L46.7,240.9 L47.1,238.9 L47.5,237.0 L48.1,236.1 L48.5,236.1 L49.0,236.5 L49.5,236.9 L50.0,237.4 L50.5,238.0 L51.0,238.6 L51.5,239.3 L52.0,240.0 L52.5,240.6 L52.9,241.3 L53.4,241.9 L53.9,242.5 L54.5,243.1 L55.1,243.8 L55.7,244.4 L56.4,245.0 L57.0,245.6 L57.7,246.2 L58.3,246.8 L59.0,247.0 L59.7,246.8 L60.5,246.2 L61.3,245.6 L62.1,245.3 L62.9,245.6 L63.7,246.1 L64.5,246.7 L65.3,247.0 L66.1,246.9 L66.9,246.6 L67.7,246.1 L68.5,245.7 L69.3,245.2 L70.1,244.5 L70.9,244.0 L71.7,243.8 L72.4,244.1 L73.0,244.7 L73.6,245.3 L74.3,245.7 L74.9,245.8 L75.5,245.8 L76.2,245.7 L76.8,245.7 L77.5,245.8 L78.1,246.0 L78.8,246.1 L79.4,246.3 L80.0,246.5 L80.6,246.7 L81.2,246.8 L81.9,247.0 L83.6,247.2 L85.6,247.3 L87.7,247.4 L89.6,247.3 L91.0,247.1 L92.2,246.9 L93.5,246.6 L94.7,246.3 L96.0,245.9 L97.3,245.4 L98.5,244.9 L99.8,244.4 L101.1,244.0 L102.3,243.8 L103.6,243.5 L104.9,243.1 L106.2,242.6 L107.6,242.0 L108.9,241.5 L110.0,241.2 L110.6,241.2 L111.1,241.4 L111.5,241.5 L112.0,241.5 L112.7,240.8 L113.4,239.7 L114.1,238.6 L114.8,238.1 L115.5,238.4 L116.2,239.2 L117.0,240.0 L117.7,240.3 L118.6,239.3 L119.5,237.3 L120.4,235.3 L121.2,234.4 L121.8,234.8 L122.4,235.8 L123.0,236.8 L123.6,237.2 L124.3,236.6 L124.9,235.3 L125.5,233.6 L126.0,231.9 L126.6,229.4 L127.0,226.5 L127.5,223.9 L128.4,222.1 L129.2,221.7 L130.0,221.7 L130.9,221.7 L131.7,221.3 L132.6,219.0 L133.0,215.4 L133.4,211.8 L134.3,209.6 L135.0,209.3 L135.9,209.4 L136.8,209.4 L137.5,209.1 L138.5,206.6 L139.0,202.6 L139.5,198.8 L140.4,196.9 L141.1,197.2 L142.0,198.1 L142.8,199.0 L143.6,199.3 L144.8,196.5 L145.7,191.0 L146.4,185.6 L147.1,183.2 L147.7,185.7 L148.3,191.1 L148.9,196.6 L149.6,199.1 L150.2,198.1 L150.9,195.7 L151.6,193.3 L152.4,192.1 L153.0,192.5 L153.6,193.4 L154.2,194.3 L154.7,194.6 L155.7,191.5 L156.6,185.1 L157.3,178.9 L158.1,176.0 L158.9,178.1 L159.6,182.7 L160.4,187.4 L161.2,189.5 L161.9,187.9 L162.7,184.4 L163.4,180.9 L164.0,179.3 L164.7,182.2 L165.2,188.5 L165.6,194.8 L166.2,197.7 L166.8,194.4 L167.4,187.2 L168.2,179.8 L169.4,176.2 L170.1,176.3 L170.8,176.9 L171.5,177.9 L172.2,178.9 L173.2,181.5 L174.0,185.0 L174.7,188.0 L175.4,189.3 L176.4,183.0 L177.2,169.2 L177.8,155.4 L178.5,149.2 L179.3,153.8 L180.1,163.9 L181.0,174.1 L181.8,178.7 L182.6,174.5 L183.3,165.4 L184.1,156.2 L184.8,152.0 L185.4,154.6 L185.9,160.3 L186.5,166.0 L187.1,168.6 L187.8,165.3 L188.6,158.0 L189.3,150.7 L190.0,147.4 L190.7,152.5 L191.3,163.7 L192.0,174.8 L192.7,179.9 L193.5,175.9 L194.4,167.0 L195.3,158.2 L196.1,154.2 L197.1,162.5 L197.9,180.6 L198.7,198.8 L199.5,207.0 L200.1,201.1 L200.7,188.0 L201.3,174.9 L202.0,169.0 L202.7,174.2 L203.3,185.8 L204.1,197.3 L204.8,202.6 L205.5,197.6 L206.3,186.7 L207.1,175.8 L207.9,170.8 L208.4,172.6 L209.0,176.6 L209.5,180.6 L210.0,182.4 L210.7,174.1 L211.1,155.7 L211.5,137.1 L212.3,128.0 L212.4,127.9 L212.5,127.9 L212.6,127.9 L212.7,128.0 L213.6,135.5 L214.2,151.6 L214.6,169.6 L215.0,183.2 L215.1,187.8 L215.2,192.2 L215.3,195.4 L215.5,196.7 L216.2,192.9 L217.2,184.5 L218.2,176.0 L219.1,172.2 L220.0,178.3 L220.8,191.6 L221.5,204.9 L222.2,210.9 L223.0,204.5 L223.7,190.5 L224.5,176.6 L225.2,170.2 L225.8,177.4 L226.4,193.3 L227.0,209.2 L227.8,216.4 L228.3,214.5 L228.9,210.4 L229.5,206.2 L230.0,204.3 L230.5,210.1 L230.8,222.7 L231.1,235.6 L231.8,242.0 L231.9,242.1 L232.0,242.1 L232.1,242.1 L232.2,242.0 L232.8,236.0 L233.2,223.8 L233.4,211.8 L234.0,206.4 L234.8,210.3 L235.8,218.8 L236.8,227.4 L237.6,231.3 L238.3,224.9 L238.9,210.9 L239.3,197.0 L240.0,190.6 L240.6,195.5 L241.1,206.5 L242.0,217.8 L243.5,223.8 L244.1,223.9 L244.7,223.6 L245.4,223.2 L246.0,223.2 L246.9,224.4 L247.7,226.6 L248.4,228.6 L249.1,229.4 L250.4,221.4 L251.0,204.3 L251.3,187.3 L251.6,179.6 L251.8,182.9 L251.9,190.1 L252.1,197.2 L252.2,200.5 L252.4,192.3 L252.5,174.0 L252.8,155.5 L253.5,146.6 L253.6,146.5 L253.6,146.5 L253.7,146.5 L253.8,146.6 L254.2,155.3 L254.1,173.3 L254.1,191.3 L255.2,200.0 L255.6,200.0 L256.0,199.9 L256.4,199.5 L256.8,198.9 L257.8,190.6 L258.0,176.2 L257.9,162.4 L258.2,155.8 L258.2,155.8 L258.3,155.8 L258.4,155.8 L258.4,155.8 L258.9,161.1 L259.2,172.1 L259.5,183.0 L259.8,187.9 L260.0,186.2 L260.2,182.6 L260.4,178.9 L260.7,177.2 L261.3,180.4 L262.1,187.5 L263.0,194.7 L263.9,197.9 L264.6,196.5 L265.4,193.0 L266.1,188.4 L266.7,183.6 L267.3,173.1 L267.5,159.8 L267.7,148.1 L268.1,142.8 L268.1,142.8 L268.2,142.8 L268.3,142.8 L268.3,142.8 L268.8,149.8 L269.1,164.2 L269.3,178.5 L269.7,185.0 L270.2,180.4 L270.8,170.2 L271.5,159.9 L272.1,155.3 L272.8,161.8 L273.4,176.0 L274.1,190.2 L274.9,196.7 L275.5,195.3 L276.2,191.7 L276.8,186.9 L277.4,181.9 L278.0,169.8 L278.1,154.3 L278.3,140.6 L278.8,134.4 L278.8,134.4 L278.9,134.4 L279.0,134.4 L279.0,134.4 L279.5,140.8 L279.7,154.0 L279.9,167.1 L280.4,173.1 L280.9,170.7 L281.6,165.4 L282.3,160.1 L283.0,157.7 L283.8,159.9 L284.6,164.8 L285.5,169.8 L286.3,172.0 L287.0,170.5 L287.7,167.0 L288.4,162.5 L289.0,158.2 L289.6,152.6 L290.0,146.1 L290.4,140.6 L290.9,138.0 L290.9,138.0 L291.0,138.0 L291.1,138.0 L291.1,138.0 L291.6,142.0 L292.1,150.0 L292.5,157.9 L293.0,161.5 L293.4,158.7 L293.8,152.4 L294.2,146.2 L294.6,143.4 L295.2,150.8 L295.8,167.1 L296.5,183.4 L297.2,190.8 L298.0,185.3 L298.8,173.2 L299.7,161.0 L300.5,155.5 L301.2,161.1 L301.8,173.4 L302.4,185.8 L303.1,191.4 L303.7,188.4 L304.2,181.9 L304.8,175.3 L305.4,172.3 L306.1,177.3 L306.9,188.3 L307.6,199.2 L308.4,204.2 L309.2,199.1 L310.0,188.0 L310.8,176.8 L311.9,171.6 L312.5,172.3 L313.2,174.1 L313.9,176.6 L314.5,179.2 L315.4,185.3 L316.2,193.2 L316.9,200.1 L317.9,203.2 L318.4,202.6 L319.0,201.2 L319.5,199.8 L320.0,199.2 L320.6,200.9 L321.1,204.5 L321.5,208.2 L321.9,210.0 L321.9,210.0 L322.0,210.0 L322.0,210.0 L322.1,210.0 L322.5,209.2 L322.9,207.6 L323.4,206.1 L324.0,205.4 L324.7,206.3 L325.5,208.2 L326.2,210.2 L326.9,211.0 L327.8,208.0 L328.6,201.7 L329.2,195.4 L329.8,192.6 L330.2,194.0 L330.6,197.2 L330.9,200.4 L331.2,201.8 L331.6,196.0 L331.9,183.2 L332.1,170.2 L332.6,163.9 L332.6,163.9 L332.7,163.9 L332.8,163.9 L332.8,163.9 L333.3,170.4 L333.5,184.0 L333.8,197.3 L334.2,203.4 L334.5,201.8 L334.9,198.1 L335.3,194.5 L335.7,192.8 L336.2,195.5 L336.7,202.0 L337.2,209.9 L337.9,216.8 L338.7,222.3 L339.6,228.2 L340.6,232.8 L341.4,234.7 L342.3,229.2 L342.9,217.1 L343.5,205.0 L344.2,199.5 L345.0,204.1 L345.8,214.1 L346.5,224.2 L347.2,228.8 L347.6,227.2 L347.9,223.4 L348.2,218.6 L348.5,214.3" fill="none" stroke="#6690f2" stroke-width="1.8" stroke-dasharray="1.6 1.65" stroke-linejoin="round"/>
<path d="M37.0,231.7 L37.2,232.1 L37.5,232.5 L37.7,233.0 L37.9,233.6 L38.2,236.0 L38.4,239.4 L38.7,242.7 L39.2,245.0 L39.5,245.5 L39.8,245.9 L40.1,246.2 L40.5,246.3 L40.9,246.0 L41.4,245.5 L41.9,244.8 L42.4,244.4 L43.0,244.3 L43.7,244.4 L44.3,244.5 L44.9,244.4 L45.3,244.1 L45.6,243.7 L45.9,243.1 L46.2,242.5 L46.7,240.9 L47.1,238.9 L47.5,237.0 L48.1,236.1 L48.5,236.1 L49.0,236.5 L49.5,236.9 L50.0,237.4 L50.5,238.0 L51.0,238.6 L51.5,239.3 L52.0,240.0 L52.5,240.6 L52.9,241.3 L53.4,241.9 L53.9,242.5 L54.5,243.1 L55.1,243.8 L55.7,244.4 L56.4,245.0 L57.0,245.6 L57.7,246.2 L58.3,246.8 L59.0,247.0 L59.7,246.8 L60.5,246.2 L61.3,245.6 L62.1,245.3 L62.9,245.6 L63.7,246.1 L64.5,246.7 L65.3,247.0 L66.1,246.9 L66.9,246.6 L67.7,246.1 L68.5,245.7 L69.3,245.2 L70.1,244.5 L70.9,244.0 L71.7,243.8 L72.4,244.1 L73.0,244.7 L73.6,245.3 L74.3,245.7 L74.9,245.8 L75.5,245.8 L76.2,245.7 L76.8,245.7 L77.5,245.8 L78.1,246.0 L78.8,246.1 L79.4,246.3 L80.0,246.5 L80.6,246.7 L81.2,246.8 L81.9,247.0 L83.6,247.2 L85.6,247.3 L87.7,247.4 L89.6,247.3 L91.0,247.1 L92.2,246.9 L93.5,246.6 L94.7,246.3 L96.0,245.9 L97.3,245.4 L98.5,244.9 L99.8,244.4 L101.1,244.0 L102.3,243.8 L103.6,243.5 L104.9,243.1 L106.2,242.6 L107.4,242.1 L108.7,241.6 L110.0,241.2 L111.3,240.8 L112.5,240.5 L113.8,240.2 L115.1,240.0 L116.4,240.0 L117.8,240.1 L119.1,240.2 L120.2,240.0 L121.0,239.6 L121.6,239.0 L122.1,238.2 L122.7,237.4 L123.4,236.0 L124.0,234.4 L124.6,232.7 L125.3,231.0 L126.2,229.1 L127.3,227.1 L128.3,225.1 L129.1,223.4 L129.4,222.5 L129.7,221.7 L129.9,220.9 L130.2,220.0 L130.8,218.4 L131.5,216.6 L132.2,214.8 L132.9,213.2 L133.4,212.3 L133.8,211.6 L134.3,210.9 L134.7,210.0 L135.2,208.4 L135.7,206.5 L136.3,204.8 L137.0,203.7 L137.6,203.6 L138.4,203.7 L139.1,203.9 L139.8,203.7 L140.7,202.7 L141.4,201.0 L142.0,199.0 L142.6,196.9 L143.5,193.2 L144.3,188.7 L145.1,184.9 L146.0,183.3 L146.8,184.2 L147.7,186.5 L148.6,189.5 L149.4,192.4 L150.5,196.8 L151.5,202.0 L152.5,206.4 L153.4,208.2 L154.6,202.3 L155.6,189.5 L156.4,176.7 L157.3,170.9 L157.9,173.9 L158.4,180.5 L159.0,187.1 L159.6,190.1 L160.3,188.0 L161.0,183.3 L161.7,178.7 L162.4,176.6 L163.2,181.8 L163.8,193.0 L164.5,204.3 L165.2,209.4 L166.0,205.3 L166.8,196.4 L167.6,187.4 L168.6,183.3 L169.6,186.5 L170.6,193.5 L171.6,200.5 L172.6,203.7 L173.5,201.0 L174.4,194.5 L175.2,186.6 L176.0,180.0 L176.6,176.1 L177.2,172.6 L177.7,169.0 L178.3,165.2 L179.0,158.8 L179.7,151.4 L180.4,145.2 L181.1,142.6 L181.6,143.7 L182.2,146.6 L182.8,150.3 L183.3,153.9 L183.9,159.5 L184.5,166.3 L185.0,171.9 L185.6,174.3 L186.2,170.8 L186.8,163.1 L187.5,155.3 L188.4,151.7 L189.1,152.4 L189.9,154.1 L190.7,156.4 L191.3,158.5 L191.6,160.9 L191.8,163.7 L192.0,166.1 L192.5,167.3 L193.1,167.2 L193.7,166.6 L194.4,166.1 L195.0,166.0 L195.9,167.7 L196.6,171.0 L197.0,175.3 L197.5,179.7 L198.2,188.6 L198.8,199.8 L199.4,209.3 L200.0,213.3 L200.5,210.5 L200.9,204.0 L201.5,196.9 L202.4,192.1 L202.9,191.1 L203.4,190.3 L203.9,189.8 L204.3,189.7 L205.2,194.2 L205.6,203.5 L205.8,212.8 L206.2,217.0 L206.8,213.7 L207.4,205.7 L208.1,196.2 L208.7,188.4 L209.1,183.7 L209.5,178.8 L209.9,175.1 L210.5,173.5 L211.1,174.1 L211.7,175.7 L212.4,177.7 L213.0,179.7 L213.6,182.5 L214.0,185.8 L214.4,188.5 L214.9,189.7 L215.3,188.5 L215.8,185.9 L216.3,183.4 L216.7,182.2 L217.4,186.1 L217.9,194.7 L218.5,203.2 L219.2,207.1 L219.9,204.4 L220.6,198.4 L221.4,192.5 L222.3,189.7 L223.2,191.1 L224.1,194.5 L225.1,198.6 L226.1,202.1 L227.0,204.1 L228.0,205.8 L229.0,207.6 L229.8,209.6 L230.6,213.3 L231.2,217.8 L231.7,221.6 L232.3,223.2 L233.1,220.7 L234.0,215.2 L234.9,209.7 L236.0,207.1 L236.9,207.8 L237.9,209.7 L238.9,212.1 L239.8,214.5 L240.8,218.3 L241.8,222.8 L242.6,226.6 L243.5,228.2 L244.3,225.7 L245.1,220.1 L245.9,213.8 L247.2,209.6 L248.0,208.7 L249.0,208.1 L249.9,207.6 L250.9,207.1 L251.9,206.3 L252.9,205.4 L253.9,204.7 L254.7,204.6 L255.8,207.3 L256.6,212.4 L257.2,217.3 L257.8,219.5 L258.7,213.4 L259.3,199.3 L259.9,183.5 L260.9,172.2 L261.5,169.1 L262.1,166.3 L262.8,164.3 L263.4,163.5 L264.1,165.2 L264.8,169.4 L265.4,174.7 L265.9,179.7 L266.3,185.9 L266.4,193.1 L266.6,199.0 L267.0,201.5 L267.6,199.2 L268.3,194.0 L269.0,188.9 L269.8,186.5 L270.3,187.6 L270.8,189.9 L271.3,192.3 L271.8,193.3 L272.5,189.9 L273.2,182.4 L273.9,175.0 L274.5,171.6 L275.4,177.3 L276.2,190.0 L277.1,202.6 L277.9,208.3 L278.8,199.2 L279.6,179.1 L280.4,159.0 L281.3,149.9 L282.1,154.3 L283.0,164.1 L283.9,173.9 L284.7,178.4 L285.4,175.8 L286.1,169.5 L286.8,161.9 L287.4,155.3 L287.9,150.3 L288.3,145.0 L288.8,140.7 L289.4,139.0 L290.0,140.4 L290.7,143.7 L291.4,147.7 L292.2,151.2 L293.0,153.6 L293.8,155.9 L294.7,158.2 L295.5,160.7 L296.3,164.2 L297.1,168.0 L297.9,171.6 L298.9,174.3 L299.6,175.1 L300.3,175.6 L301.0,176.1 L301.7,177.0 L303.0,183.6 L303.8,193.6 L304.4,202.9 L305.1,206.9 L305.9,202.2 L306.8,192.0 L307.6,181.7 L308.4,177.0 L309.1,180.2 L309.8,187.2 L310.5,194.2 L311.2,197.4 L311.9,193.6 L312.5,185.2 L313.1,176.8 L313.9,173.0 L314.8,176.2 L315.7,183.6 L316.7,192.2 L318.0,198.8 L319.0,201.1 L320.0,203.0 L321.1,204.8 L322.0,206.9 L322.9,210.7 L323.5,215.2 L324.1,218.9 L324.7,220.5 L325.7,215.0 L326.8,202.8 L327.8,190.7 L328.8,185.2 L329.7,188.8 L330.5,196.7 L331.4,204.7 L332.2,208.3 L332.9,205.8 L333.5,200.2 L334.2,194.6 L334.9,192.0 L335.7,193.7 L336.5,197.7 L337.3,202.7 L338.3,206.9 L339.3,209.7 L340.3,212.4 L341.4,215.0 L342.4,217.8 L343.5,222.1 L344.6,227.0 L345.6,231.1 L346.5,232.7 L347.6,225.9 L348.0,209.7 L348.2,189.7 L348.5,171.6" fill="none" stroke="#ff0000" stroke-width="2.4" stroke-linejoin="round"/>
</g>
<line x1="37.0" y1="37.3" x2="37.0" y2="248.4" stroke="#dcdcdc" stroke-width="1"/>
<line x1="37.0" y1="248.4" x2="348.3" y2="248.4" stroke="#a0a0a0" stroke-width="1"/>
<line x1="37.0" y1="248.4" x2="40.0" y2="248.4" stroke="#b0b0b0" stroke-width="1"/>
<text x="33.0" y="252.9" font-size="10.3" fill="#3a3a3a" text-anchor="end">0</text>
<line x1="37.0" y1="218.2" x2="40.0" y2="218.2" stroke="#b0b0b0" stroke-width="1"/>
<text x="33.0" y="222.7" font-size="10.3" fill="#3a3a3a" text-anchor="end">0.1</text>
<line x1="37.0" y1="188.1" x2="40.0" y2="188.1" stroke="#b0b0b0" stroke-width="1"/>
<text x="33.0" y="192.6" font-size="10.3" fill="#3a3a3a" text-anchor="end">0.2</text>
<line x1="37.0" y1="157.9" x2="40.0" y2="157.9" stroke="#b0b0b0" stroke-width="1"/>
<text x="33.0" y="162.4" font-size="10.3" fill="#3a3a3a" text-anchor="end">0.3</text>
<line x1="37.0" y1="127.8" x2="40.0" y2="127.8" stroke="#b0b0b0" stroke-width="1"/>
<text x="33.0" y="132.3" font-size="10.3" fill="#3a3a3a" text-anchor="end">0.4</text>
<line x1="37.0" y1="97.6" x2="40.0" y2="97.6" stroke="#b0b0b0" stroke-width="1"/>
<text x="33.0" y="102.1" font-size="10.3" fill="#3a3a3a" text-anchor="end">0.5</text>
<line x1="37.0" y1="67.5" x2="40.0" y2="67.5" stroke="#b0b0b0" stroke-width="1"/>
<text x="33.0" y="72.0" font-size="10.3" fill="#3a3a3a" text-anchor="end">0.6</text>
<line x1="37.0" y1="37.3" x2="40.0" y2="37.3" stroke="#b0b0b0" stroke-width="1"/>
<text x="33.0" y="41.8" font-size="10.3" fill="#3a3a3a" text-anchor="end">0.7</text>
<line x1="37.0" y1="248.4" x2="37.0" y2="245.4" stroke="#b0b0b0" stroke-width="1"/>
<text x="37.4" y="263.3" font-size="10.3" fill="#3a3a3a" text-anchor="middle">0</text>
<line x1="140.8" y1="248.4" x2="140.8" y2="245.4" stroke="#b0b0b0" stroke-width="1"/>
<text x="141.2" y="263.3" font-size="10.3" fill="#3a3a3a" text-anchor="middle">50</text>
<line x1="244.5" y1="248.4" x2="244.5" y2="245.4" stroke="#b0b0b0" stroke-width="1"/>
<text x="244.9" y="263.3" font-size="10.3" fill="#3a3a3a" text-anchor="middle">100</text>
<line x1="348.3" y1="248.4" x2="348.3" y2="245.4" stroke="#b0b0b0" stroke-width="1"/>
<text x="348.7" y="263.3" font-size="10.3" fill="#3a3a3a" text-anchor="middle">150</text>
<text x="193.2" y="278.0" font-size="11.7" fill="#3a3a3a" text-anchor="middle">Time [ms]</text>
<text transform="translate(13.8,142.8) rotate(-90)" font-size="11.9" fill="#3a3a3a" text-anchor="middle">T1 - Resultant Acc. [mm/ms<tspan dx="0.3" dy="-6" font-size="8.8">2</tspan><tspan dx="0.6" dy="6">]</tspan></text>
<rect x="66.1" y="1.1" width="19.8" height="8.7" fill="#cdcdcd"/>
<text x="87.9" y="8.9" font-size="9.5" fill="#3a3a3a">Exp</text>
<line x1="66.1" y1="18.1" x2="86.0" y2="18.1" stroke="#ff0000" stroke-width="2.4"/>
<text x="87.9" y="21.4" font-size="9.5" fill="#3a3a3a">Base</text>
<line x1="113.8" y1="5.6" x2="134.1" y2="5.6" stroke="#6690f2" stroke-width="1.8" stroke-dasharray="1.6 1.65"/>
<text x="135.8" y="8.9" font-size="9.5" fill="#3a3a3a">B. fric. low</text>
<line x1="113.8" y1="18.1" x2="133.3" y2="18.1" stroke="#6a96f5" stroke-width="1.7" stroke-dasharray="6.5 1.8 3 1.7"/>
<text x="135.8" y="21.4" font-size="9.5" fill="#3a3a3a">B. fric. high</text>
<line x1="187.9" y1="5.6" x2="208.3" y2="5.6" stroke="#d0307a" stroke-width="1.8" stroke-dasharray="1.6 1.65"/>
<text x="209.8" y="8.9" font-size="9.5" fill="#3a3a3a">S. fric. low</text>
<line x1="187.9" y1="18.1" x2="207.2" y2="18.1" stroke="#e0409a" stroke-width="1.7" stroke-dasharray="6.5 1.8 3 1.7"/>
<text x="209.8" y="21.4" font-size="9.5" fill="#3a3a3a">S. fric. high</text>
<line x1="261.8" y1="5.6" x2="281.2" y2="5.6" stroke="#0f5a48" stroke-width="2.0" stroke-dasharray="6 6.5"/>
<text x="283.8" y="8.9" font-size="9.5" fill="#3a3a3a">B. bend.</text>
<path d="M463.2,107.3 L465.2,107.3 L467.2,107.3 L469.2,107.3 L471.2,107.3 L473.2,107.3 L475.2,107.3 L477.2,107.3 L479.2,107.3 L481.2,107.3 L483.2,107.2 L485.2,107.2 L487.2,107.2 L489.2,107.2 L491.2,107.2 L493.2,107.2 L495.2,107.2 L497.2,107.2 L499.2,107.2 L501.2,107.2 L503.2,107.2 L505.2,107.3 L507.2,107.3 L509.2,107.3 L511.2,107.3 L513.2,107.4 L515.2,107.4 L517.2,107.4 L519.2,107.5 L521.2,107.5 L523.2,107.5 L525.2,107.5 L527.2,107.6 L529.2,107.6 L531.2,107.7 L533.2,107.9 L535.2,108.0 L537.2,108.2 L539.2,108.3 L541.2,108.5 L543.2,108.7 L545.2,108.9 L547.2,109.3 L549.2,109.6 L551.2,110.0 L553.2,110.4 L555.2,110.8 L557.2,111.2 L559.2,111.5 L561.2,111.8 L563.2,112.0 L565.2,112.1 L567.2,112.2 L569.2,112.4 L571.2,112.5 L573.2,112.6 L575.2,112.7 L577.2,112.8 L579.2,112.9 L581.2,113.0 L583.2,113.0 L585.2,113.0 L587.2,113.0 L589.2,113.0 L591.2,113.0 L593.2,113.0 L595.2,113.0 L597.2,113.0 L599.2,113.0 L601.2,113.0 L603.2,113.0 L605.2,113.0 L607.2,113.0 L609.2,113.0 L611.2,113.0 L613.2,113.0 L615.2,113.0 L617.2,113.0 L619.2,113.1 L621.2,113.2 L623.2,113.3 L625.2,113.5 L627.2,113.8 L629.2,114.0 L631.2,114.5 L633.2,115.0 L635.2,115.6 L637.2,116.2 L639.2,117.0 L641.2,117.9 L643.2,119.0 L645.2,120.1 L647.2,121.3 L649.2,122.5 L651.2,123.7 L653.2,125.0 L655.2,126.3 L657.2,127.7 L659.2,129.2 L661.2,130.6 L663.2,132.1 L665.2,133.5 L667.2,134.7 L669.2,135.6 L671.2,136.3 L673.2,136.9 L675.2,137.5 L677.2,137.8 L679.2,137.8 L681.2,137.6 L683.2,137.4 L685.2,137.1 L687.2,136.8 L689.2,136.5 L691.2,136.3 L693.2,136.0 L695.2,135.7 L697.2,135.4 L699.2,135.1 L701.2,134.8 L703.2,134.4 L705.2,134.1 L707.2,133.8 L709.2,133.5 L711.2,133.2 L713.2,133.0 L715.2,132.7 L717.2,132.5 L719.2,132.2 L721.2,132.0 L723.2,131.8 L725.2,131.5 L727.2,131.2 L729.2,130.9 L731.2,130.4 L733.2,129.8 L735.2,129.2 L737.2,128.5 L739.2,127.9 L741.2,127.3 L743.2,126.7 L745.2,126.2 L747.2,125.8 L749.2,125.3 L751.2,124.9 L753.2,124.5 L755.2,124.1 L757.2,123.7 L759.2,123.3 L761.2,122.9 L763.2,122.5 L765.2,122.2 L767.2,122.0 L769.2,121.9 L771.2,121.8 L773.2,121.7 L774.8,121.6 L774.8,217.4 L773.2,217.4 L771.2,217.4 L769.2,217.4 L767.2,217.4 L765.2,217.4 L763.2,217.4 L761.2,217.3 L759.2,217.3 L757.2,217.2 L755.2,217.1 L753.2,216.9 L751.2,216.8 L749.2,216.5 L747.2,216.1 L745.2,215.6 L743.2,215.1 L741.2,214.6 L739.2,213.9 L737.2,213.0 L735.2,211.9 L733.2,210.7 L731.2,209.4 L729.2,208.1 L727.2,206.7 L725.2,205.1 L723.2,203.4 L721.2,201.7 L719.2,199.9 L717.2,198.1 L715.2,196.2 L713.2,194.3 L711.2,192.4 L709.2,190.4 L707.2,188.4 L705.2,186.5 L703.2,184.7 L701.2,183.3 L699.2,182.1 L697.2,181.0 L695.2,179.6 L693.2,177.9 L691.2,176.1 L689.2,174.3 L687.2,172.6 L685.2,171.0 L683.2,169.5 L681.2,167.9 L679.2,166.4 L677.2,164.9 L675.2,163.4 L673.2,162.1 L671.2,160.9 L669.2,159.7 L667.2,158.5 L665.2,157.3 L663.2,156.0 L661.2,154.8 L659.2,153.7 L657.2,152.6 L655.2,151.5 L653.2,150.5 L651.2,149.5 L649.2,148.5 L647.2,147.5 L645.2,146.5 L643.2,145.5 L641.2,144.4 L639.2,143.3 L637.2,142.0 L635.2,140.7 L633.2,139.4 L631.2,138.1 L629.2,136.8 L627.2,135.5 L625.2,134.2 L623.2,133.1 L621.2,132.3 L619.2,131.6 L617.2,131.0 L615.2,130.4 L613.2,129.9 L611.2,129.3 L609.2,128.8 L607.2,128.2 L605.2,127.6 L603.2,126.9 L601.2,126.2 L599.2,125.6 L597.2,124.9 L595.2,124.2 L593.2,123.5 L591.2,122.8 L589.2,122.1 L587.2,121.4 L585.2,120.8 L583.2,120.1 L581.2,119.5 L579.2,118.8 L577.2,118.2 L575.2,117.6 L573.2,117.1 L571.2,116.6 L569.2,116.1 L567.2,115.7 L565.2,115.2 L563.2,114.8 L561.2,114.3 L559.2,113.9 L557.2,113.4 L555.2,113.0 L553.2,112.6 L551.2,112.2 L549.2,111.8 L547.2,111.4 L545.2,111.0 L543.2,110.7 L541.2,110.3 L539.2,110.1 L537.2,109.9 L535.2,109.8 L533.2,109.7 L531.2,109.6 L529.2,109.5 L527.2,109.5 L525.2,109.4 L523.2,109.3 L521.2,109.2 L519.2,109.1 L517.2,109.0 L515.2,108.9 L513.2,108.9 L511.2,108.8 L509.2,108.7 L507.2,108.6 L505.2,108.5 L503.2,108.4 L501.2,108.4 L499.2,108.3 L497.2,108.3 L495.2,108.2 L493.2,108.2 L491.2,108.2 L489.2,108.2 L487.2,108.1 L485.2,108.1 L483.2,108.1 L481.2,108.0 L479.2,108.0 L477.2,108.0 L475.2,108.0 L473.2,107.9 L471.2,107.9 L469.2,107.9 L467.2,107.9 L465.2,107.8 L463.2,107.8 Z" fill="#cdcdcd" stroke="none"/>
<g clip-path="url(#clipB)">
<path d="M463.2,107.5 L465.2,107.6 L467.2,107.7 L469.2,107.8 L471.2,107.9 L473.2,108.1 L475.2,108.2 L477.2,108.3 L479.2,108.4 L481.2,108.5 L483.2,108.6 L485.2,108.7 L487.2,108.8 L489.2,109.0 L491.2,109.1 L493.2,109.2 L495.2,109.3 L497.2,109.4 L499.2,109.5 L501.2,109.6 L503.2,109.7 L505.2,109.9 L507.2,110.0 L509.2,110.1 L511.2,110.2 L513.2,110.3 L515.2,110.4 L517.2,110.5 L519.2,110.6 L521.2,110.7 L523.2,110.9 L525.2,111.0 L527.2,111.1 L529.2,111.2 L531.2,111.3 L533.2,111.4 L535.2,111.5 L537.2,111.7 L539.2,111.9 L541.2,112.1 L543.2,112.5 L545.2,112.9 L547.2,113.3 L549.2,113.7 L551.2,114.2 L553.2,114.6 L555.2,115.0 L557.2,115.4 L559.2,115.7 L561.2,115.9 L563.2,116.0 L565.2,116.0 L567.2,116.0 L569.2,116.0 L571.2,116.0 L573.2,116.0 L575.2,116.0 L577.2,116.0 L579.2,116.0 L581.2,116.0 L583.2,116.0 L585.2,116.0 L587.2,116.0 L589.2,116.1 L591.2,116.1 L593.2,116.2 L595.2,116.2 L597.2,116.3 L599.2,116.3 L601.2,116.4 L603.2,116.5 L605.2,116.5 L607.2,116.6 L609.2,116.6 L611.2,116.7 L613.2,116.8 L615.2,116.8 L617.2,116.9 L619.2,117.0 L621.2,117.2 L623.2,117.4 L625.2,117.7 L627.2,118.0 L629.2,118.2 L631.2,118.5 L633.2,118.9 L635.2,119.5 L637.2,120.3 L639.2,121.3 L641.2,122.3 L643.2,123.4 L645.2,124.4 L647.2,125.5 L649.2,126.7 L651.2,128.0 L653.2,129.3 L655.2,130.8 L657.2,132.2 L659.2,133.6 L661.2,135.1 L663.2,136.5 L665.2,138.1 L667.2,139.7 L669.2,141.6 L671.2,143.8 L673.2,146.1 L675.2,148.5 L677.2,150.8 L679.2,153.2 L681.2,155.5 L683.2,157.9 L685.2,160.4 L687.2,162.9 L689.2,165.5 L691.2,168.1 L693.2,170.8 L695.2,173.4 L697.2,176.1 L699.2,178.9 L701.2,181.7 L703.2,184.5 L705.2,187.3 L707.2,189.9 L709.2,192.3 L711.2,194.8 L713.2,197.0 L715.2,199.2 L717.2,201.2 L719.2,203.1 L721.2,204.9 L723.2,206.7 L725.2,208.4 L727.2,210.1 L729.2,211.7 L731.2,213.3 L733.2,214.6 L735.2,215.7 L737.2,216.5 L739.2,217.3 L741.2,218.0 L743.2,218.6 L745.2,219.0 L747.2,219.2 L749.2,219.2 L751.2,219.2 L753.2,219.2 L755.2,219.1 L757.2,219.0 L759.2,218.9 L761.2,218.7 L763.2,218.5 L765.2,218.3 L767.2,218.0 L769.2,217.8 L771.2,217.5 L773.2,217.3 L774.5,217.0" fill="none" stroke="#0f5a48" stroke-width="2.0" stroke-dasharray="6 6.5" stroke-linejoin="round"/>
<path d="M463.2,107.5 L465.2,107.6 L467.2,107.6 L469.2,107.7 L471.2,107.7 L473.2,107.8 L475.2,107.8 L477.2,107.9 L479.2,107.9 L481.2,108.0 L483.2,108.0 L485.2,108.1 L487.2,108.1 L489.2,108.2 L491.2,108.2 L493.2,108.3 L495.2,108.3 L497.2,108.4 L499.2,108.5 L501.2,108.5 L503.2,108.6 L505.2,108.6 L507.2,108.7 L509.2,108.7 L511.2,108.8 L513.2,108.8 L515.2,108.9 L517.2,108.9 L519.2,109.1 L521.2,109.2 L523.2,109.5 L525.2,109.7 L527.2,110.0 L529.2,110.3 L531.2,110.6 L533.2,110.8 L535.2,111.1 L537.2,111.4 L539.2,111.7 L541.2,112.0 L543.2,112.4 L545.2,112.9 L547.2,113.6 L549.2,114.4 L551.2,115.3 L553.2,116.2 L555.2,116.9 L557.2,117.5 L559.2,117.9 L561.2,118.2 L563.2,118.5 L565.2,118.8 L567.2,119.1 L569.2,119.3 L571.2,119.4 L573.2,119.4 L575.2,119.4 L577.2,119.4 L579.2,119.4 L581.2,119.4 L583.2,119.4 L585.2,119.3 L587.2,119.3 L589.2,119.3 L591.2,119.3 L593.2,119.3 L595.2,119.2 L597.2,119.2 L599.2,119.2 L601.2,119.1 L603.2,119.0 L605.2,118.9 L607.2,118.8 L609.2,118.6 L611.2,118.5 L613.2,118.4 L615.2,118.3 L617.2,118.2 L619.2,118.2 L621.2,118.2 L623.2,118.3 L625.2,118.5 L627.2,118.7 L629.2,119.0 L631.2,119.4 L633.2,119.9 L635.2,120.5 L637.2,121.0 L639.2,121.7 L641.2,122.4 L643.2,123.3 L645.2,124.2 L647.2,125.1 L649.2,126.0 L651.2,127.0 L653.2,128.0 L655.2,129.1 L657.2,130.3 L659.2,131.7 L661.2,133.1 L663.2,134.6 L665.2,136.1 L667.2,137.7 L669.2,139.6 L671.2,141.8 L673.2,144.1 L675.2,146.4 L677.2,148.8 L679.2,151.1 L681.2,153.6 L683.2,156.1 L685.2,158.7 L687.2,161.3 L689.2,163.8 L691.2,166.4 L693.2,169.1 L695.2,171.8 L697.2,174.6 L699.2,177.4 L701.2,180.3 L703.2,183.1 L705.2,185.9 L707.2,188.6 L709.2,191.1 L711.2,193.4 L713.2,195.6 L715.2,197.7 L717.2,199.8 L719.2,201.9 L721.2,203.9 L723.2,205.6 L725.2,207.2 L727.2,208.6 L729.2,210.0 L731.2,211.4 L733.2,212.7 L735.2,214.0 L737.2,215.2 L739.2,216.3 L741.2,217.5 L743.2,218.5 L745.2,219.6 L747.2,220.3 L749.2,220.9 L751.2,221.3 L753.2,221.6 L755.2,221.8 L757.2,222.1 L759.2,222.3 L761.2,222.5 L763.2,222.7 L765.2,222.8 L767.2,222.9 L769.2,223.1 L771.2,223.2 L773.2,223.3 L774.5,223.4" fill="none" stroke="#e0409a" stroke-width="1.7" stroke-dasharray="6.5 1.8 3 1.7" stroke-linejoin="round"/>
<path d="M463.2,107.5 L465.2,107.6 L467.2,107.6 L469.2,107.7 L471.2,107.7 L473.2,107.8 L475.2,107.8 L477.2,107.9 L479.2,107.9 L481.2,108.0 L483.2,108.0 L485.2,108.1 L487.2,108.1 L489.2,108.2 L491.2,108.2 L493.2,108.3 L495.2,108.3 L497.2,108.4 L499.2,108.5 L501.2,108.5 L503.2,108.6 L505.2,108.6 L507.2,108.7 L509.2,108.7 L511.2,108.8 L513.2,108.8 L515.2,108.9 L517.2,108.9 L519.2,109.0 L521.2,109.2 L523.2,109.3 L525.2,109.5 L527.2,109.7 L529.2,109.9 L531.2,110.1 L533.2,110.3 L535.2,110.5 L537.2,110.7 L539.2,110.9 L541.2,111.1 L543.2,111.3 L545.2,111.6 L547.2,111.9 L549.2,112.2 L551.2,112.5 L553.2,112.8 L555.2,113.0 L557.2,113.1 L559.2,113.1 L561.2,113.0 L563.2,113.0 L565.2,112.9 L567.2,112.9 L569.2,112.8 L571.2,112.8 L573.2,112.7 L575.2,112.7 L577.2,112.6 L579.2,112.5 L581.2,112.4 L583.2,112.4 L585.2,112.3 L587.2,112.2 L589.2,112.1 L591.2,112.0 L593.2,111.9 L595.2,111.8 L597.2,111.7 L599.2,111.6 L601.2,111.6 L603.2,111.5 L605.2,111.6 L607.2,111.6 L609.2,111.6 L611.2,111.6 L613.2,111.7 L615.2,111.7 L617.2,111.7 L619.2,111.7 L621.2,111.8 L623.2,111.9 L625.2,112.2 L627.2,112.6 L629.2,113.1 L631.2,113.7 L633.2,114.4 L635.2,115.3 L637.2,116.4 L639.2,117.5 L641.2,118.7 L643.2,119.8 L645.2,120.9 L647.2,122.1 L649.2,123.2 L651.2,124.3 L653.2,125.5 L655.2,126.7 L657.2,128.0 L659.2,129.4 L661.2,130.9 L663.2,132.4 L665.2,134.0 L667.2,135.7 L669.2,137.6 L671.2,139.8 L673.2,142.1 L675.2,144.4 L677.2,146.8 L679.2,149.2 L681.2,151.7 L683.2,154.4 L685.2,157.1 L687.2,159.8 L689.2,162.5 L691.2,165.2 L693.2,167.8 L695.2,170.3 L697.2,172.7 L699.2,175.0 L701.2,177.2 L703.2,179.2 L705.2,180.9 L707.2,182.6 L709.2,184.2 L711.2,185.7 L713.2,187.2 L715.2,188.6 L717.2,189.9 L719.2,191.1 L721.2,192.3 L723.2,193.5 L725.2,194.6 L727.2,195.6 L729.2,196.5 L731.2,197.3 L733.2,198.1 L735.2,198.9 L737.2,199.6 L739.2,200.3 L741.2,200.9 L743.2,201.4 L745.2,201.9 L747.2,202.4 L749.0,203.0" fill="none" stroke="#d0307a" stroke-width="1.8" stroke-dasharray="1.6 1.65" stroke-linejoin="round"/>
<path d="M463.2,107.5 L465.2,107.6 L467.2,107.7 L469.2,107.8 L471.2,107.9 L473.2,108.1 L475.2,108.2 L477.2,108.3 L479.2,108.4 L481.2,108.5 L483.2,108.6 L485.2,108.7 L487.2,108.8 L489.2,109.0 L491.2,109.1 L493.2,109.2 L495.2,109.3 L497.2,109.4 L499.2,109.5 L501.2,109.6 L503.2,109.7 L505.2,109.9 L507.2,110.0 L509.2,110.1 L511.2,110.2 L513.2,110.3 L515.2,110.4 L517.2,110.5 L519.2,110.6 L521.2,110.7 L523.2,110.9 L525.2,111.0 L527.2,111.1 L529.2,111.2 L531.2,111.3 L533.2,111.4 L535.2,111.5 L537.2,111.7 L539.2,111.9 L541.2,112.1 L543.2,112.5 L545.2,112.9 L547.2,113.3 L549.2,113.7 L551.2,114.2 L553.2,114.6 L555.2,115.0 L557.2,115.4 L559.2,115.7 L561.2,115.9 L563.2,116.0 L565.2,116.0 L567.2,116.0 L569.2,116.0 L571.2,116.0 L573.2,116.0 L575.2,116.0 L577.2,116.0 L579.2,116.0 L581.2,116.0 L583.2,116.0 L585.2,116.0 L587.2,116.0 L589.2,116.0 L591.2,116.0 L593.2,116.0 L595.2,116.0 L597.2,116.0 L599.2,116.0 L601.2,116.0 L603.2,115.9 L605.2,115.9 L607.2,115.9 L609.2,115.8 L611.2,115.8 L613.2,115.7 L615.2,115.7 L617.2,115.7 L619.2,115.6 L621.2,115.6 L623.2,115.6 L625.2,115.8 L627.2,116.1 L629.2,116.5 L631.2,116.9 L633.2,117.4 L635.2,117.9 L637.2,118.4 L639.2,119.1 L641.2,119.9 L643.2,121.0 L645.2,122.1 L647.2,123.3 L649.2,124.5 L651.2,125.7 L653.2,126.9 L655.2,128.1 L657.2,129.4 L659.2,130.7 L661.2,132.3 L663.2,134.1 L665.2,135.9 L667.2,137.8 L669.2,139.7 L671.2,141.6 L673.2,143.5 L675.2,145.5 L677.2,147.4 L679.2,149.5 L681.2,151.8 L683.2,154.4 L685.2,157.0 L687.2,159.7 L689.2,162.4 L691.2,165.1 L693.2,167.8 L695.2,170.5 L697.2,173.2 L699.2,175.8 L701.2,178.2 L703.2,180.6 L705.2,182.9 L707.2,185.1 L709.2,187.4 L711.2,189.6 L713.2,191.7 L715.2,193.8 L717.2,195.7 L719.2,197.5 L721.2,199.3 L723.2,201.0 L725.2,202.7 L727.2,204.1 L729.2,205.3 L731.2,206.5 L733.2,207.6 L735.2,208.6 L737.2,209.6 L739.2,210.5 L741.2,211.2 L743.2,211.8 L745.2,212.4 L747.2,212.8 L749.2,213.0 L751.2,213.1 L753.2,213.1 L755.2,213.0 L757.2,213.0 L759.2,213.0 L761.2,212.9 L763.2,212.9 L765.2,212.8 L767.2,212.8 L769.2,212.7 L771.2,212.7 L773.2,212.6 L774.5,212.6" fill="none" stroke="#6a96f5" stroke-width="1.7" stroke-dasharray="6.5 1.8 3 1.7" stroke-linejoin="round"/>
<path d="M463.2,107.5 L465.2,107.6 L467.2,107.7 L469.2,107.8 L471.2,107.9 L473.2,108.1 L475.2,108.2 L477.2,108.3 L479.2,108.4 L481.2,108.5 L483.2,108.6 L485.2,108.7 L487.2,108.8 L489.2,109.0 L491.2,109.1 L493.2,109.2 L495.2,109.3 L497.2,109.4 L499.2,109.5 L501.2,109.6 L503.2,109.7 L505.2,109.9 L507.2,110.0 L509.2,110.1 L511.2,110.2 L513.2,110.3 L515.2,110.4 L517.2,110.5 L519.2,110.6 L521.2,110.7 L523.2,110.9 L525.2,111.0 L527.2,111.1 L529.2,111.2 L531.2,111.3 L533.2,111.4 L535.2,111.5 L537.2,111.7 L539.2,111.9 L541.2,112.1 L543.2,112.5 L545.2,112.9 L547.2,113.3 L549.2,113.7 L551.2,114.2 L553.2,114.6 L555.2,115.0 L557.2,115.4 L559.2,115.7 L561.2,115.9 L563.2,115.9 L565.2,115.9 L567.2,115.9 L569.2,115.9 L571.2,115.9 L573.2,115.8 L575.2,115.8 L577.2,115.8 L579.2,115.8 L581.2,115.7 L583.2,115.7 L585.2,115.7 L587.2,115.7 L589.2,115.6 L591.2,115.6 L593.2,115.6 L595.2,115.6 L597.2,115.5 L599.2,115.5 L601.2,115.5 L603.2,115.4 L605.2,115.4 L607.2,115.4 L609.2,115.3 L611.2,115.3 L613.2,115.2 L615.2,115.2 L617.2,115.2 L619.2,115.1 L621.2,115.1 L623.2,115.1 L625.2,115.3 L627.2,115.6 L629.2,116.0 L631.2,116.4 L633.2,116.9 L635.2,117.4 L637.2,117.9 L639.2,118.5 L641.2,119.4 L643.2,120.4 L645.2,121.5 L647.2,122.6 L649.2,123.8 L651.2,124.9 L653.2,126.1 L655.2,127.2 L657.2,128.5 L659.2,129.8 L661.2,131.3 L663.2,133.1 L665.2,134.9 L667.2,136.8 L669.2,138.7 L671.2,140.6 L673.2,142.5 L675.2,144.5 L677.2,146.4 L679.2,148.5 L681.2,150.8 L683.2,153.4 L685.2,156.0 L687.2,158.7 L689.2,161.4 L691.2,164.1 L693.2,166.8 L695.2,169.5 L697.2,172.2 L699.2,174.8 L701.2,177.3 L703.2,179.6 L705.2,181.9 L707.2,184.2 L709.2,186.5 L711.2,188.8 L713.2,190.9 L715.2,192.9 L717.2,194.8 L719.2,196.5 L721.2,198.3 L723.2,200.0 L725.2,201.6 L727.2,203.1 L729.2,204.3 L731.2,205.5 L733.2,206.7 L735.2,207.8 L737.2,208.8 L739.2,209.7 L741.2,210.4 L743.2,210.9 L745.2,211.5 L747.2,211.8 L749.2,212.1 L751.2,212.1 L753.2,212.1 L755.2,212.1 L757.2,212.1 L759.2,212.0 L761.2,212.0 L763.2,212.0 L765.2,211.9 L767.2,211.8 L769.2,211.8 L771.2,211.7 L773.2,211.7 L774.5,211.6" fill="none" stroke="#6690f2" stroke-width="1.8" stroke-dasharray="1.6 1.65" stroke-linejoin="round"/>
<path d="M463.2,107.5 L465.2,107.6 L467.2,107.6 L469.2,107.7 L471.2,107.7 L473.2,107.8 L475.2,107.9 L477.2,107.9 L479.2,108.0 L481.2,108.0 L483.2,108.1 L485.2,108.2 L487.2,108.2 L489.2,108.3 L491.2,108.3 L493.2,108.4 L495.2,108.5 L497.2,108.5 L499.2,108.6 L501.2,108.6 L503.2,108.7 L505.2,108.7 L507.2,108.8 L509.2,108.9 L511.2,108.9 L513.2,109.0 L515.2,109.1 L517.2,109.3 L519.2,109.4 L521.2,109.6 L523.2,109.7 L525.2,109.9 L527.2,110.1 L529.2,110.3 L531.2,110.5 L533.2,110.8 L535.2,111.0 L537.2,111.3 L539.2,111.6 L541.2,111.9 L543.2,112.3 L545.2,112.7 L547.2,113.1 L549.2,113.5 L551.2,114.0 L553.2,114.4 L555.2,114.9 L557.2,115.3 L559.2,115.7 L561.2,116.0 L563.2,116.2 L565.2,116.3 L567.2,116.4 L569.2,116.5 L571.2,116.5 L573.2,116.5 L575.2,116.5 L577.2,116.4 L579.2,116.4 L581.2,116.3 L583.2,116.3 L585.2,116.2 L587.2,116.1 L589.2,115.9 L591.2,115.8 L593.2,115.6 L595.2,115.5 L597.2,115.3 L599.2,115.2 L601.2,115.0 L603.2,115.0 L605.2,114.9 L607.2,114.8 L609.2,114.8 L611.2,114.7 L613.2,114.7 L615.2,114.7 L617.2,114.7 L619.2,114.7 L621.2,114.7 L623.2,114.8 L625.2,115.0 L627.2,115.2 L629.2,115.7 L631.2,116.3 L633.2,117.0 L635.2,117.8 L637.2,118.9 L639.2,120.0 L641.2,121.1 L643.2,122.3 L645.2,123.4 L647.2,124.5 L649.2,125.5 L651.2,126.4 L653.2,127.4 L655.2,128.3 L657.2,129.4 L659.2,130.6 L661.2,132.0 L663.2,133.5 L665.2,135.0 L667.2,136.6 L669.2,138.5 L671.2,140.5 L673.2,142.7 L675.2,144.9 L677.2,147.3 L679.2,149.7 L681.2,152.2 L683.2,154.8 L685.2,157.3 L687.2,160.0 L689.2,162.6 L691.2,165.3 L693.2,168.2 L695.2,171.4 L697.2,174.7 L699.2,178.1 L701.2,181.3 L703.2,184.0 L705.2,186.3 L707.2,188.4 L709.2,190.4 L711.2,192.4 L713.2,194.3 L715.2,196.2 L717.2,198.1 L719.2,199.9 L721.2,201.7 L723.2,203.4 L725.2,205.1 L727.2,206.7 L729.2,208.1 L731.2,209.4 L733.2,210.7 L735.2,211.9 L737.2,213.0 L739.2,213.9 L741.2,214.6 L743.2,215.1 L745.2,215.6 L747.2,216.1 L749.2,216.5 L751.2,216.8 L753.2,216.9 L755.2,217.1 L757.2,217.2 L759.2,217.2 L761.2,217.3 L763.2,217.3 L765.2,217.2 L767.2,217.1 L769.2,217.1 L771.2,217.0 L773.2,216.9 L774.5,216.8" fill="none" stroke="#ff0000" stroke-width="2.4" stroke-linejoin="round"/>
</g>
<line x1="463.2" y1="37.3" x2="463.2" y2="248.4" stroke="#dcdcdc" stroke-width="1"/>
<line x1="463.2" y1="248.4" x2="774.5" y2="248.4" stroke="#a0a0a0" stroke-width="1"/>
<line x1="463.2" y1="248.4" x2="466.2" y2="248.4" stroke="#b0b0b0" stroke-width="1"/>
<text x="459.2" y="252.9" font-size="10.3" fill="#3a3a3a" text-anchor="end">-80</text>
<line x1="463.2" y1="213.2" x2="466.2" y2="213.2" stroke="#b0b0b0" stroke-width="1"/>
<text x="459.2" y="217.7" font-size="10.3" fill="#3a3a3a" text-anchor="end">-60</text>
<line x1="463.2" y1="178.0" x2="466.2" y2="178.0" stroke="#b0b0b0" stroke-width="1"/>
<text x="459.2" y="182.5" font-size="10.3" fill="#3a3a3a" text-anchor="end">-40</text>
<line x1="463.2" y1="142.9" x2="466.2" y2="142.9" stroke="#b0b0b0" stroke-width="1"/>
<text x="459.2" y="147.4" font-size="10.3" fill="#3a3a3a" text-anchor="end">-20</text>
<line x1="463.2" y1="107.7" x2="466.2" y2="107.7" stroke="#b0b0b0" stroke-width="1"/>
<text x="459.2" y="112.2" font-size="10.3" fill="#3a3a3a" text-anchor="end">0</text>
<line x1="463.2" y1="72.5" x2="466.2" y2="72.5" stroke="#b0b0b0" stroke-width="1"/>
<text x="459.2" y="77.0" font-size="10.3" fill="#3a3a3a" text-anchor="end">20</text>
<line x1="463.2" y1="37.3" x2="466.2" y2="37.3" stroke="#b0b0b0" stroke-width="1"/>
<text x="459.2" y="41.8" font-size="10.3" fill="#3a3a3a" text-anchor="end">40</text>
<line x1="463.2" y1="248.4" x2="463.2" y2="245.4" stroke="#b0b0b0" stroke-width="1"/>
<text x="463.6" y="263.3" font-size="10.3" fill="#3a3a3a" text-anchor="middle">0</text>
<line x1="567.0" y1="248.4" x2="567.0" y2="245.4" stroke="#b0b0b0" stroke-width="1"/>
<text x="567.4" y="263.3" font-size="10.3" fill="#3a3a3a" text-anchor="middle">50</text>
<line x1="670.7" y1="248.4" x2="670.7" y2="245.4" stroke="#b0b0b0" stroke-width="1"/>
<text x="671.1" y="263.3" font-size="10.3" fill="#3a3a3a" text-anchor="middle">100</text>
<line x1="774.5" y1="248.4" x2="774.5" y2="245.4" stroke="#b0b0b0" stroke-width="1"/>
<text x="774.9" y="263.3" font-size="10.3" fill="#3a3a3a" text-anchor="middle">150</text>
<text x="619.5" y="278.0" font-size="11.7" fill="#3a3a3a" text-anchor="middle">Time [ms]</text>
<text transform="translate(440.0,142.8) rotate(-90)" font-size="11.9" fill="#3a3a3a" text-anchor="middle">T1 - Y Rotation [deg]</text>
<rect x="492.3" y="1.1" width="19.8" height="8.7" fill="#cdcdcd"/>
<text x="514.1" y="8.9" font-size="9.5" fill="#3a3a3a">Exp</text>
<line x1="492.3" y1="18.1" x2="512.2" y2="18.1" stroke="#ff0000" stroke-width="2.4"/>
<text x="514.1" y="21.4" font-size="9.5" fill="#3a3a3a">Base</text>
<line x1="540.0" y1="5.6" x2="560.3" y2="5.6" stroke="#6690f2" stroke-width="1.8" stroke-dasharray="1.6 1.65"/>
<text x="562.0" y="8.9" font-size="9.5" fill="#3a3a3a">B. fric. low</text>
<line x1="540.0" y1="18.1" x2="559.5" y2="18.1" stroke="#6a96f5" stroke-width="1.7" stroke-dasharray="6.5 1.8 3 1.7"/>
<text x="562.0" y="21.4" font-size="9.5" fill="#3a3a3a">B. fric. high</text>
<line x1="614.1" y1="5.6" x2="634.5" y2="5.6" stroke="#d0307a" stroke-width="1.8" stroke-dasharray="1.6 1.65"/>
<text x="636.0" y="8.9" font-size="9.5" fill="#3a3a3a">S. fric. low</text>
<line x1="614.1" y1="18.1" x2="633.4" y2="18.1" stroke="#e0409a" stroke-width="1.7" stroke-dasharray="6.5 1.8 3 1.7"/>
<text x="636.0" y="21.4" font-size="9.5" fill="#3a3a3a">S. fric. high</text>
<line x1="688.0" y1="5.6" x2="707.4" y2="5.6" stroke="#0f5a48" stroke-width="2.0" stroke-dasharray="6 6.5"/>
<text x="710.0" y="8.9" font-size="9.5" fill="#3a3a3a">B. bend.</text>
<path d="M37.0,549.0 L45.0,544.0 L60.0,541.5 L80.0,540.0 L93.0,538.0 L100.0,536.0 L108.0,536.0 L115.0,540.0 L120.0,540.0 L124.0,530.0 L127.8,519.4 L134.7,491.8 L143.9,466.6 L150.8,441.3 L157.7,413.8 L164.6,404.6 L166.9,400.0 L168.5,402.0 L171.5,420.7 L178.4,427.6 L183.0,436.8 L188.0,445.0 L192.0,452.0 L196.0,440.0 L200.0,436.0 L210.0,435.0 L216.0,437.0 L222.0,430.0 L230.0,435.0 L240.0,445.0 L248.0,450.0 L255.0,458.0 L262.0,468.0 L268.0,478.0 L271.5,460.0 L274.5,400.0 L277.0,352.0 L279.5,390.0 L282.0,450.0 L284.0,470.0 L288.0,488.0 L290.8,470.0 L293.0,492.0 L297.0,500.0 L300.3,476.0 L303.0,500.0 L310.0,512.0 L318.0,514.0 L325.0,510.0 L330.0,503.0 L333.8,488.0 L337.0,508.0 L343.0,512.0 L348.6,515.0 L348.6,540.0 L340.0,540.0 L330.0,538.0 L315.0,534.0 L300.0,530.0 L290.0,526.0 L280.0,516.0 L270.0,500.0 L260.0,485.0 L250.0,472.0 L240.0,468.0 L238.0,484.0 L236.0,468.0 L230.0,470.0 L222.0,470.0 L216.0,472.0 L210.0,466.0 L205.0,462.0 L200.0,466.0 L196.0,472.0 L193.5,514.0 L191.0,470.0 L188.0,462.0 L180.0,458.0 L170.0,455.0 L160.0,448.0 L153.1,447.0 L148.5,458.0 L143.9,476.0 L137.0,501.0 L127.8,528.6 L120.0,542.0 L110.0,541.0 L100.0,541.0 L93.0,541.0 L80.0,545.0 L60.0,546.0 L45.0,548.0 L37.0,549.5 Z" fill="#cdcdcd" stroke="none"/>
<g clip-path="url(#clipC)">
<path d="M37.0,536.3 L37.2,531.5 L37.3,526.5 L37.5,521.9 L37.9,518.5 L38.2,517.3 L38.5,516.3 L38.9,515.6 L39.2,515.3 L39.6,516.4 L39.9,518.8 L40.2,521.2 L40.5,522.3 L40.8,521.7 L41.1,520.4 L41.4,519.1 L41.7,518.5 L42.2,521.5 L42.5,528.1 L42.7,534.6 L43.0,537.6 L43.2,529.7 L43.1,512.4 L43.3,494.9 L44.3,486.6 L44.6,486.6 L44.9,486.9 L45.3,487.3 L45.6,487.9 L46.6,497.2 L46.8,513.6 L46.9,530.5 L47.5,541.4 L47.8,542.9 L48.1,544.2 L48.5,545.0 L48.8,545.3 L49.5,539.0 L50.0,525.4 L50.3,511.9 L50.7,505.7 L51.0,511.3 L51.3,523.5 L51.6,535.8 L51.9,541.4 L52.2,536.1 L52.5,524.4 L53.0,512.6 L53.9,507.0 L54.2,507.0 L54.5,507.3 L54.8,507.7 L55.1,508.3 L55.9,515.0 L56.3,526.2 L56.6,536.7 L57.0,541.4 L57.3,539.8 L57.5,536.3 L57.9,532.8 L58.3,531.2 L58.7,532.0 L59.2,533.8 L59.8,535.5 L60.2,536.3 L60.6,534.7 L60.9,531.2 L61.2,527.7 L61.5,526.1 L62.0,527.7 L62.5,531.2 L63.0,534.7 L63.4,536.3 L63.9,532.7 L64.2,524.8 L64.4,517.0 L64.7,513.4 L65.0,518.2 L65.3,528.7 L65.6,539.2 L66.0,544.0 L66.3,542.0 L66.6,537.6 L66.9,533.2 L67.3,531.2 L67.6,532.9 L68.0,536.8 L68.5,540.7 L69.2,542.7 L69.8,542.4 L70.4,541.5 L71.1,540.6 L71.7,540.2 L72.6,541.5 L73.4,544.1 L74.2,546.7 L74.9,547.8 L75.4,546.0 L75.6,542.1 L76.0,538.0 L76.8,535.7 L77.5,535.4 L78.4,535.5 L79.3,535.8 L80.0,536.3 L80.7,538.0 L81.1,540.6 L81.4,542.9 L81.9,544.0 L82.5,543.0 L83.2,540.8 L83.9,538.6 L84.5,537.6 L85.2,539.0 L85.8,542.1 L86.4,545.1 L87.0,546.5 L87.5,544.5 L87.9,540.2 L88.3,535.8 L88.9,533.8 L89.5,534.6 L90.1,536.3 L90.8,538.1 L91.5,538.9 L92.2,537.6 L92.9,534.8 L93.7,531.8 L94.7,530.0 L95.5,529.8 L96.3,530.0 L97.2,530.2 L97.9,530.0 L99.1,526.6 L99.8,520.8 L100.3,515.3 L101.1,512.7 L101.7,513.1 L102.3,514.2 L103.0,515.7 L103.6,517.2 L104.6,519.7 L105.5,522.5 L106.5,525.6 L107.4,528.7 L108.4,532.8 L109.4,537.4 L110.4,541.1 L111.3,542.7 L112.1,540.8 L112.8,536.7 L113.6,532.5 L114.4,530.6 L115.2,531.4 L116.0,533.3 L116.8,535.6 L117.6,537.6 L118.2,539.1 L118.9,540.7 L119.4,541.9 L120.0,542.4 L120.7,540.5 L121.2,536.3 L121.8,532.1 L122.6,530.1 L123.2,530.6 L123.8,531.7 L124.4,532.8 L125.0,533.3 L125.8,531.0 L126.5,526.1 L127.1,521.3 L127.9,519.0 L128.5,519.6 L129.1,521.0 L129.7,522.4 L130.3,523.0 L131.0,520.8 L131.4,516.1 L131.8,511.3 L132.7,508.9 L133.4,509.2 L134.3,510.3 L135.2,511.3 L135.9,511.6 L136.8,508.4 L137.2,501.8 L137.7,495.2 L138.8,491.5 L139.6,491.5 L140.6,492.0 L141.6,492.5 L142.4,492.5 L143.6,488.1 L143.9,480.1 L144.0,472.3 L144.6,468.7 L145.2,469.6 L145.9,471.7 L146.6,473.8 L147.4,474.8 L148.2,474.3 L149.0,472.9 L149.9,471.1 L150.6,469.1 L151.6,463.9 L152.3,457.1 L152.8,451.2 L153.5,448.6 L154.3,452.6 L155.2,461.4 L156.1,470.2 L156.9,474.2 L157.7,470.2 L158.5,461.4 L159.2,452.6 L160.0,448.6 L160.9,452.8 L161.8,462.2 L162.6,471.5 L163.5,475.7 L164.3,471.9 L165.0,463.7 L165.7,455.4 L166.4,451.7 L167.0,455.7 L167.6,464.6 L168.2,473.5 L168.8,477.5 L169.5,472.3 L170.1,461.0 L170.8,449.7 L171.5,444.5 L172.3,450.0 L173.0,462.2 L173.8,474.4 L174.6,480.0 L175.3,475.8 L175.9,466.7 L176.6,457.5 L177.4,453.3 L178.2,456.6 L179.0,463.8 L179.8,471.1 L180.6,474.4 L181.2,471.3 L181.6,464.5 L182.2,457.4 L183.4,453.5 L184.1,453.3 L184.9,453.3 L185.7,453.7 L186.4,454.3 L187.7,459.8 L188.2,469.2 L188.4,478.0 L188.8,481.9 L189.6,475.1 L190.5,460.2 L191.3,445.3 L192.2,438.5 L193.0,443.8 L193.9,455.5 L194.7,467.2 L195.5,472.5 L196.2,465.6 L196.7,450.6 L197.3,435.5 L198.0,428.6 L198.7,433.3 L199.5,443.7 L200.4,454.2 L201.1,458.9 L201.8,453.4 L202.3,441.3 L202.9,429.2 L203.5,423.7 L204.2,428.8 L205.0,440.0 L205.8,451.2 L206.5,456.3 L207.1,450.4 L207.6,437.4 L208.1,424.4 L208.7,418.5 L209.3,422.4 L210.0,431.7 L210.7,442.3 L211.6,450.5 L212.2,453.7 L212.8,456.8 L213.4,459.1 L213.9,460.0 L214.4,455.6 L214.6,446.0 L215.0,436.2 L216.2,431.3 L216.9,431.2 L217.6,431.6 L218.4,432.3 L219.1,433.2 L220.7,441.5 L221.5,455.2 L221.9,468.0 L222.4,473.6 L223.1,465.3 L223.8,446.9 L224.4,428.6 L225.0,420.3 L225.6,427.6 L226.2,443.6 L226.8,459.7 L227.6,467.0 L228.3,463.1 L229.0,454.4 L229.7,445.7 L230.4,441.8 L231.0,445.4 L231.6,453.5 L232.2,461.5 L232.8,465.1 L233.5,459.1 L234.1,445.8 L234.7,432.5 L235.2,426.5 L235.7,434.8 L236.2,453.0 L236.7,471.3 L237.4,479.6 L238.1,477.2 L238.8,470.9 L239.6,462.4 L240.2,453.3 L240.6,425.3 L240.2,387.7 L240.0,354.3 L240.8,339.0 L240.9,338.9 L241.0,338.9 L241.1,338.9 L241.2,339.0 L242.1,354.4 L242.1,388.2 L241.8,426.5 L241.8,455.4 L242.0,465.8 L242.2,475.6 L242.5,482.8 L242.8,485.7 L243.2,483.3 L243.8,477.0 L244.3,468.5 L244.7,459.3 L244.9,430.0 L244.5,390.4 L244.4,355.1 L245.3,339.0 L245.4,338.9 L245.5,338.9 L245.6,338.9 L245.7,339.0 L246.6,355.3 L246.4,390.9 L246.0,431.2 L246.3,461.4 L246.8,471.6 L247.5,481.2 L248.1,488.2 L248.8,491.0 L249.5,484.1 L250.3,468.8 L251.0,453.6 L251.7,446.7 L252.2,452.2 L252.7,464.2 L253.3,476.3 L254.1,481.8 L254.7,479.9 L255.4,475.7 L256.1,471.5 L256.8,469.6 L257.4,472.0 L258.0,477.1 L258.5,482.3 L259.1,484.6 L259.9,481.1 L260.7,473.3 L261.6,465.6 L262.4,462.1 L263.3,467.5 L264.2,479.4 L265.1,491.3 L266.0,496.7 L266.7,493.5 L267.4,486.5 L268.0,479.5 L268.7,476.3 L269.5,481.6 L270.3,493.4 L271.1,505.1 L272.1,510.5 L272.9,508.4 L273.8,503.9 L274.7,499.3 L275.5,497.2 L276.1,499.3 L276.7,503.8 L277.2,508.3 L277.8,510.4 L278.4,509.3 L279.0,507.0 L279.6,504.6 L280.1,503.6 L280.8,507.0 L281.4,514.3 L281.9,521.6 L282.5,524.9 L283.1,522.3 L283.7,516.5 L284.4,510.6 L285.1,508.0 L285.9,511.1 L286.8,517.9 L287.7,524.6 L288.5,527.7 L289.2,523.9 L289.7,515.7 L290.2,507.5 L290.8,503.7 L291.6,506.6 L292.4,513.4 L293.3,521.2 L294.3,527.1 L294.9,529.4 L295.5,531.5 L296.1,533.1 L296.7,533.7 L297.5,531.4 L298.3,526.4 L299.0,521.5 L299.8,519.2 L300.4,520.4 L301.1,523.0 L301.7,525.6 L302.3,526.8 L303.1,524.3 L303.8,518.8 L304.5,513.3 L305.2,510.8 L306.1,514.0 L306.9,521.2 L307.8,528.3 L308.6,531.5 L309.1,529.4 L309.6,524.7 L310.1,519.9 L311.1,517.3 L311.8,517.2 L312.6,517.6 L313.4,518.1 L314.0,518.8 L314.6,520.5 L314.8,522.9 L314.9,525.1 L315.1,526.0 L315.5,519.4 L315.7,504.7 L315.9,489.8 L316.5,482.6 L316.6,482.5 L316.7,482.5 L316.7,482.5 L316.8,482.6 L317.3,489.9 L317.3,504.9 L317.4,519.7 L318.1,526.6 L318.5,526.1 L318.9,524.9 L319.4,523.7 L319.8,523.2 L320.6,525.2 L321.3,529.4 L322.0,533.6 L322.7,535.5 L323.4,533.0 L324.1,527.5 L324.8,522.1 L325.5,519.6 L326.2,522.8 L326.8,530.0 L327.6,537.2 L328.5,540.5 L329.3,539.7 L330.1,537.7 L331.0,535.1 L331.8,532.7 L332.6,529.9 L333.4,526.7 L334.2,524.2 L334.9,523.1 L335.8,525.8 L336.6,531.8 L337.3,537.7 L338.1,540.4 L338.8,538.5 L339.5,534.5 L340.1,530.4 L340.8,528.5 L341.5,530.6 L342.2,535.3 L342.9,539.9 L343.6,542.0 L344.3,540.1 L345.0,535.8 L345.7,531.6 L346.4,529.6 L346.7,530.1 L347.0,531.3 L347.3,532.4 L347.6,532.9 L348.2,520.8 L348.0,494.3 L347.7,467.7 L348.1,455.0 L348.1,455.0 L348.2,455.0 L348.3,455.0 L348.3,455.0 L348.9,464.1 L349.0,484.7 L348.8,510.0 L348.8,533.0" fill="none" stroke="#0f5a48" stroke-width="2.0" stroke-dasharray="6 6.5" stroke-linejoin="round"/>
<path d="M37.0,536.3 L37.2,531.5 L37.3,526.5 L37.5,521.9 L37.9,518.5 L38.2,517.3 L38.5,516.3 L38.9,515.6 L39.2,515.3 L39.6,516.4 L39.9,518.8 L40.2,521.2 L40.5,522.3 L40.8,521.7 L41.1,520.4 L41.4,519.1 L41.7,518.5 L42.2,521.5 L42.5,528.1 L42.7,534.6 L43.0,537.6 L43.2,529.7 L43.1,512.4 L43.3,494.9 L44.3,486.6 L44.6,486.6 L44.9,486.9 L45.3,487.3 L45.6,487.9 L46.6,497.2 L46.8,513.6 L46.9,530.5 L47.5,541.4 L47.8,542.9 L48.1,544.2 L48.5,545.0 L48.8,545.3 L49.5,539.0 L50.0,525.4 L50.3,511.9 L50.7,505.7 L51.0,511.3 L51.3,523.5 L51.6,535.8 L51.9,541.4 L52.2,536.1 L52.5,524.4 L53.0,512.6 L53.9,507.0 L54.2,507.0 L54.5,507.3 L54.8,507.7 L55.1,508.3 L55.9,515.0 L56.3,526.2 L56.6,536.7 L57.0,541.4 L57.3,539.8 L57.5,536.3 L57.9,532.8 L58.3,531.2 L58.7,532.0 L59.2,533.8 L59.8,535.5 L60.2,536.3 L60.6,534.7 L60.9,531.2 L61.2,527.7 L61.5,526.1 L62.0,527.7 L62.5,531.2 L63.0,534.7 L63.4,536.3 L63.9,532.7 L64.2,524.8 L64.4,517.0 L64.7,513.4 L65.0,518.2 L65.3,528.7 L65.6,539.2 L66.0,544.0 L66.3,542.0 L66.6,537.6 L66.9,533.2 L67.3,531.2 L67.6,532.9 L68.0,536.8 L68.5,540.7 L69.2,542.7 L69.8,542.4 L70.4,541.5 L71.1,540.6 L71.7,540.2 L72.6,541.5 L73.4,544.1 L74.2,546.7 L74.9,547.8 L75.4,546.0 L75.6,542.1 L76.0,538.0 L76.8,535.7 L77.5,535.4 L78.4,535.5 L79.3,535.8 L80.0,536.3 L80.7,538.0 L81.1,540.6 L81.4,542.9 L81.9,544.0 L82.5,543.0 L83.2,540.8 L83.9,538.6 L84.5,537.6 L85.1,539.0 L85.7,542.1 L86.3,545.1 L87.0,546.5 L87.9,544.9 L88.8,541.2 L89.8,536.7 L91.0,533.0 L92.1,530.8 L93.4,528.7 L94.7,526.8 L96.0,525.0 L97.2,523.5 L98.4,522.0 L99.7,520.8 L101.0,520.0 L102.2,519.6 L103.5,519.4 L104.8,519.5 L106.0,520.0 L107.9,522.1 L109.6,525.4 L111.3,529.1 L113.0,532.0 L114.3,533.5 L115.6,534.9 L116.9,536.1 L118.0,537.0 L118.6,537.5 L119.1,537.9 L119.5,538.2 L120.0,538.2 L120.8,535.9 L121.4,531.6 L122.0,527.3 L122.8,525.2 L123.4,525.8 L124.2,527.2 L124.9,528.5 L125.5,529.1 L126.3,526.8 L126.8,522.1 L127.3,517.4 L128.0,515.2 L128.7,516.4 L129.5,519.2 L130.3,522.0 L131.0,523.2 L131.6,521.4 L131.9,517.3 L132.4,512.9 L133.4,510.1 L134.2,509.8 L135.2,509.9 L136.2,510.0 L137.0,509.6 L138.3,504.5 L138.8,496.0 L139.2,487.8 L140.2,483.9 L140.9,484.4 L141.7,485.7 L142.6,487.1 L143.3,487.6 L144.4,485.1 L145.1,479.6 L145.8,472.9 L146.5,466.9 L147.4,461.2 L148.3,454.9 L149.3,449.9 L150.1,447.8 L150.6,449.8 L151.0,454.4 L151.4,459.7 L152.3,463.5 L153.1,464.9 L153.9,466.1 L154.8,467.0 L155.6,467.2 L156.7,463.2 L157.4,455.0 L157.9,446.9 L158.4,443.3 L159.0,446.7 L159.6,454.2 L160.2,461.7 L160.7,465.1 L161.3,460.8 L161.8,451.3 L162.4,441.7 L163.0,437.4 L163.5,440.7 L163.9,447.9 L164.5,455.2 L165.3,458.6 L165.9,458.2 L166.7,457.0 L167.4,455.3 L168.0,453.4 L168.8,445.7 L169.1,434.8 L169.3,424.8 L169.8,420.0 L169.9,419.9 L170.0,419.9 L170.1,419.9 L170.2,420.0 L170.9,426.0 L171.3,438.1 L171.6,449.9 L172.0,455.3 L172.3,454.2 L172.5,451.7 L172.8,449.1 L173.1,448.0 L173.7,452.9 L174.4,463.7 L175.1,474.4 L175.8,479.3 L176.4,474.6 L177.1,464.2 L177.7,453.7 L178.4,449.0 L179.2,453.6 L180.0,463.7 L180.9,473.8 L181.8,478.4 L182.6,474.2 L183.5,464.8 L184.4,455.4 L185.2,451.2 L186.1,455.8 L187.0,466.0 L187.9,476.2 L188.7,480.8 L189.5,475.1 L190.3,462.5 L191.1,449.9 L191.9,444.2 L192.5,446.9 L193.1,452.9 L193.8,458.9 L194.4,461.6 L195.2,457.1 L196.0,447.3 L196.7,437.5 L197.4,433.0 L198.1,439.6 L198.7,454.0 L199.3,468.4 L200.0,474.9 L200.9,466.9 L201.8,449.1 L202.7,431.4 L203.5,423.4 L204.1,429.8 L204.6,443.9 L205.1,458.1 L205.7,464.5 L206.2,461.9 L206.8,455.5 L207.4,447.7 L208.0,440.7 L208.4,434.6 L208.8,428.0 L209.2,422.6 L209.8,420.0 L209.9,419.9 L210.0,419.9 L210.1,419.9 L210.2,420.0 L210.8,422.4 L211.2,427.5 L211.6,433.8 L212.0,439.7 L212.4,447.0 L212.7,455.4 L213.0,462.2 L213.4,465.1 L214.1,459.1 L215.0,445.9 L215.9,432.6 L216.8,426.6 L217.7,432.3 L218.6,444.8 L219.4,457.2 L220.2,462.9 L220.8,456.2 L221.3,441.5 L221.8,426.9 L222.4,420.2 L223.0,425.6 L223.7,437.4 L224.4,449.3 L225.2,454.7 L225.9,449.8 L226.5,438.8 L227.3,427.7 L228.6,422.4 L229.2,422.5 L229.9,423.1 L230.6,424.1 L231.2,425.4 L232.5,434.6 L233.1,449.1 L233.5,462.5 L234.1,468.4 L234.9,463.4 L235.8,452.4 L236.7,441.3 L237.5,436.3 L238.1,438.8 L238.6,445.0 L239.1,452.4 L239.7,459.0 L240.3,464.7 L240.9,470.9 L241.6,475.8 L242.2,477.8 L243.0,471.7 L243.8,458.4 L244.6,445.1 L245.5,439.0 L246.2,440.9 L247.0,445.6 L247.7,451.5 L248.5,457.1 L249.3,464.3 L250.2,472.6 L251.0,479.5 L251.8,482.4 L252.7,478.5 L253.5,469.8 L254.4,461.2 L255.2,457.3 L256.0,462.5 L256.7,473.8 L257.5,485.2 L258.3,490.4 L259.1,486.9 L260.0,479.1 L260.9,471.4 L261.7,467.9 L262.4,473.8 L262.9,486.8 L263.4,499.8 L264.1,505.7 L264.7,502.3 L265.4,494.9 L266.2,487.4 L267.0,484.0 L267.7,485.6 L268.5,489.5 L269.3,494.4 L270.1,499.0 L270.8,504.3 L271.5,510.4 L272.2,515.3 L272.9,517.4 L273.7,513.8 L274.4,506.0 L275.2,498.2 L275.9,494.7 L276.7,499.5 L277.4,510.1 L278.2,520.7 L278.9,525.5 L279.5,522.2 L280.2,515.1 L280.8,507.9 L281.5,504.6 L282.1,507.7 L282.6,514.7 L283.3,521.9 L284.5,525.6 L285.1,525.6 L285.8,525.1 L286.6,524.4 L287.3,523.9 L288.1,523.6 L289.0,523.4 L289.9,523.0 L290.6,522.4 L291.6,518.9 L292.2,513.4 L292.5,508.5 L292.9,506.3 L293.6,510.3 L294.2,518.9 L294.8,527.6 L295.6,531.6 L296.2,530.0 L296.8,526.4 L297.4,522.8 L298.0,521.2 L298.5,522.8 L299.0,526.4 L299.5,530.1 L299.9,532.0 L300.0,532.0 L300.0,532.0 L300.0,532.0 L300.1,532.0 L300.5,530.8 L301.0,528.3 L301.5,525.3 L302.0,522.4 L302.7,518.8 L303.4,514.8 L304.2,511.5 L304.9,510.1 L305.5,512.7 L306.1,518.2 L306.7,523.9 L307.5,526.5 L308.2,525.6 L308.9,523.6 L309.7,521.5 L310.4,520.6 L311.4,523.3 L312.3,529.0 L313.1,534.6 L313.9,537.2 L314.8,533.5 L315.7,525.3 L316.5,517.1 L317.3,513.4 L318.0,517.0 L318.7,524.8 L319.3,532.7 L320.0,536.3 L320.6,534.2 L321.1,529.5 L321.7,524.8 L322.5,522.6 L323.1,523.2 L323.7,524.8 L324.4,526.3 L325.0,527.1 L325.5,526.8 L326.1,526.1 L326.6,525.4 L326.9,525.0 L327.0,525.0 L327.0,525.0 L327.0,525.0 L327.1,525.0 L327.5,525.5 L328.0,526.6 L328.5,527.5 L329.0,527.9 L329.7,526.5 L330.3,523.6 L330.9,520.8 L331.5,519.5 L332.3,521.5 L333.0,525.9 L333.8,530.4 L334.6,532.4 L335.4,530.8 L336.3,527.2 L337.2,523.7 L338.0,522.1 L339.0,525.2 L339.9,531.9 L340.7,538.6 L341.5,541.6 L342.1,538.2 L342.7,530.7 L343.2,523.3 L343.8,519.9 L344.6,523.3 L345.5,530.7 L346.4,538.1 L347.2,541.5 L347.6,540.5 L347.9,537.9 L348.2,534.8 L348.5,532.0" fill="none" stroke="#e0409a" stroke-width="1.7" stroke-dasharray="6.5 1.8 3 1.7" stroke-linejoin="round"/>
<path d="M37.0,536.3 L37.2,531.5 L37.3,526.5 L37.5,521.9 L37.9,518.5 L38.2,517.3 L38.5,516.3 L38.9,515.6 L39.2,515.3 L39.6,516.4 L39.9,518.8 L40.2,521.2 L40.5,522.3 L40.8,521.7 L41.1,520.4 L41.4,519.1 L41.7,518.5 L42.2,521.5 L42.5,528.1 L42.7,534.6 L43.0,537.6 L43.2,529.7 L43.1,512.4 L43.3,494.9 L44.3,486.6 L44.6,486.6 L44.9,486.9 L45.3,487.3 L45.6,487.9 L46.6,497.2 L46.8,513.6 L46.9,530.5 L47.5,541.4 L47.8,542.9 L48.1,544.2 L48.5,545.0 L48.8,545.3 L49.5,539.0 L50.0,525.4 L50.3,511.9 L50.7,505.7 L51.0,511.3 L51.3,523.5 L51.6,535.8 L51.9,541.4 L52.2,536.1 L52.5,524.4 L53.0,512.6 L53.9,507.0 L54.2,507.0 L54.5,507.3 L54.8,507.7 L55.1,508.3 L55.9,515.0 L56.3,526.2 L56.6,536.7 L57.0,541.4 L57.3,539.8 L57.5,536.3 L57.9,532.8 L58.3,531.2 L58.7,532.0 L59.2,533.8 L59.8,535.5 L60.2,536.3 L60.6,534.7 L60.9,531.2 L61.2,527.7 L61.5,526.1 L62.0,527.7 L62.5,531.2 L63.0,534.7 L63.4,536.3 L63.9,532.7 L64.2,524.8 L64.4,517.0 L64.7,513.4 L65.0,518.2 L65.3,528.7 L65.6,539.2 L66.0,544.0 L66.3,542.0 L66.6,537.6 L66.9,533.2 L67.3,531.2 L67.6,532.9 L68.0,536.8 L68.5,540.7 L69.2,542.7 L69.8,542.4 L70.4,541.5 L71.1,540.6 L71.7,540.2 L72.6,541.5 L73.4,544.1 L74.2,546.7 L74.9,547.8 L75.4,546.0 L75.6,542.1 L76.0,538.0 L76.8,535.7 L77.5,535.4 L78.4,535.5 L79.3,535.8 L80.0,536.3 L80.7,538.0 L81.1,540.6 L81.4,542.9 L81.9,544.0 L82.5,543.0 L83.2,540.8 L83.9,538.6 L84.5,537.6 L85.2,539.0 L85.8,542.1 L86.4,545.1 L87.0,546.5 L87.9,544.7 L88.9,540.2 L89.9,534.8 L91.0,530.0 L92.1,526.1 L93.4,522.2 L94.6,518.5 L96.0,515.0 L97.2,511.9 L98.5,508.7 L99.8,506.2 L101.1,505.1 L102.3,505.8 L103.5,507.6 L104.7,509.8 L106.0,512.0 L107.7,514.4 L109.4,517.1 L111.1,519.7 L112.5,522.3 L113.3,524.3 L113.9,526.4 L114.4,528.3 L115.1,530.0 L115.8,531.3 L116.5,532.6 L117.3,533.6 L118.0,534.0 L118.5,533.6 L119.0,532.7 L119.5,531.6 L120.0,530.4 L120.7,528.2 L121.5,525.5 L122.3,523.1 L123.2,521.8 L123.8,521.8 L124.4,522.1 L125.0,522.3 L125.5,522.3 L126.3,520.0 L126.7,515.8 L127.2,511.6 L128.1,509.3 L128.9,509.4 L129.8,510.1 L130.7,510.7 L131.5,510.8 L132.5,508.0 L133.1,502.7 L133.5,497.6 L134.4,495.1 L135.2,495.8 L136.2,497.5 L137.2,499.1 L138.0,499.8 L139.1,495.7 L139.6,487.2 L140.0,478.7 L140.8,474.8 L141.6,476.0 L142.4,478.7 L143.3,481.5 L144.1,482.7 L145.0,478.7 L145.5,470.1 L146.1,461.4 L147.1,457.2 L147.7,457.6 L148.4,458.6 L149.1,459.6 L149.7,460.0 L150.6,457.4 L151.4,452.2 L152.0,447.0 L152.6,444.7 L153.5,447.9 L154.3,454.9 L155.2,461.8 L155.8,465.0 L156.2,463.4 L156.4,459.3 L156.6,454.0 L156.8,448.8 L157.2,439.7 L157.6,428.6 L158.0,419.1 L158.7,414.7 L158.8,414.6 L158.9,414.6 L158.9,414.6 L159.0,414.7 L159.6,418.9 L160.1,427.8 L160.5,438.3 L160.8,447.0 L161.0,452.4 L161.2,457.9 L161.4,462.2 L161.7,463.9 L162.4,459.0 L163.2,448.2 L164.2,437.4 L165.1,432.5 L165.8,437.5 L166.4,448.5 L167.2,459.6 L168.5,465.0 L169.2,464.8 L170.1,463.9 L170.9,462.6 L171.7,461.1 L172.8,456.6 L173.7,450.3 L174.4,444.7 L175.1,442.3 L175.7,445.5 L176.2,452.8 L176.7,461.2 L177.6,467.3 L178.2,469.3 L178.9,471.2 L179.7,472.5 L180.3,473.0 L181.4,467.7 L182.1,456.5 L182.7,445.3 L183.4,440.2 L184.1,444.9 L184.8,455.2 L185.5,465.4 L186.2,470.1 L187.1,463.3 L188.0,448.3 L188.8,433.4 L189.6,426.6 L190.3,433.5 L190.9,448.8 L191.4,464.1 L192.1,471.0 L192.7,465.9 L193.4,454.7 L194.1,443.5 L194.8,438.4 L195.6,443.2 L196.5,453.9 L197.4,464.6 L198.2,469.4 L198.9,466.6 L199.6,459.5 L200.3,450.0 L200.8,440.0 L201.1,414.6 L200.7,381.4 L200.5,352.3 L201.3,339.0 L201.4,338.9 L201.5,338.9 L201.6,338.9 L201.7,339.0 L202.4,352.7 L202.2,382.2 L201.9,415.2 L202.2,438.8 L202.7,445.1 L203.2,450.8 L203.8,455.0 L204.3,456.6 L204.8,454.7 L205.2,449.7 L205.5,442.9 L205.8,435.6 L205.9,412.1 L205.6,380.4 L205.5,352.0 L206.3,339.0 L206.4,338.9 L206.5,338.9 L206.6,338.9 L206.7,339.0 L207.4,354.7 L207.0,387.4 L206.7,419.7 L207.2,434.4 L207.8,432.4 L208.5,427.8 L209.2,423.3 L209.8,421.2 L210.4,425.8 L210.8,436.2 L211.4,447.5 L212.4,455.0 L212.9,456.3 L213.5,457.4 L214.2,458.1 L214.7,458.3 L215.9,451.8 L216.5,437.9 L216.9,424.2 L217.6,418.0 L218.4,421.9 L219.2,430.4 L220.1,438.9 L220.9,442.8 L221.7,438.2 L222.5,428.2 L223.3,418.2 L224.0,413.6 L224.8,418.9 L225.5,430.6 L226.2,442.4 L227.0,447.7 L227.9,442.4 L228.8,430.7 L229.8,419.0 L230.6,413.7 L231.5,422.4 L232.2,441.6 L232.8,460.8 L233.4,469.5 L234.0,461.8 L234.5,445.0 L235.0,428.2 L235.6,420.5 L236.3,426.8 L237.0,440.6 L237.8,454.4 L238.5,460.7 L239.2,454.7 L239.8,441.4 L240.5,428.2 L241.1,422.2 L241.7,430.1 L242.2,447.6 L242.8,465.0 L243.5,473.0 L244.3,468.4 L245.1,458.2 L246.0,447.9 L246.8,443.3 L247.5,449.3 L248.0,462.6 L248.6,475.9 L249.4,482.0 L250.1,480.6 L250.8,477.2 L251.6,473.1 L252.4,469.3 L253.1,465.7 L253.8,461.8 L254.5,458.6 L255.1,457.3 L255.8,460.1 L256.5,466.2 L257.1,472.2 L257.7,475.0 L258.4,471.8 L259.0,464.6 L259.7,457.5 L260.3,454.3 L261.1,459.1 L261.8,469.7 L262.5,480.3 L263.3,485.1 L263.9,482.5 L264.5,476.8 L265.1,471.1 L265.6,468.5 L266.2,472.9 L266.8,482.4 L267.3,492.0 L267.9,496.3 L268.5,491.3 L269.2,480.5 L269.8,469.6 L270.5,464.6 L271.1,469.0 L271.7,478.6 L272.3,488.2 L273.0,492.6 L273.5,490.7 L274.0,486.3 L274.6,481.3 L275.5,477.4 L276.2,475.7 L277.0,474.2 L277.8,473.0 L278.5,472.6 L279.2,473.1 L279.9,474.4 L280.5,476.1 L281.1,478.1 L282.2,485.2 L283.1,495.2 L283.9,504.1 L284.6,507.9 L285.3,503.1 L285.9,492.5 L286.5,481.9 L287.1,477.1 L287.8,482.4 L288.4,494.1 L289.1,505.8 L289.9,511.1 L290.7,506.5 L291.6,496.4 L292.4,486.3 L293.2,481.7 L293.8,487.0 L294.4,498.5 L295.0,510.1 L295.8,515.4 L296.5,513.0 L297.3,507.6 L298.3,502.1 L299.4,499.4 L300.2,499.7 L301.0,500.7 L301.9,502.2 L302.6,503.7 L303.5,507.5 L304.1,512.5 L304.6,516.8 L305.1,518.7 L305.7,515.6 L306.1,508.9 L306.7,502.1 L307.5,498.9 L308.2,499.5 L309.0,501.3 L309.8,503.6 L310.5,506.0 L311.4,511.1 L312.1,517.5 L312.7,523.1 L313.3,525.4 L313.9,522.0 L314.5,514.5 L315.1,507.1 L315.7,503.7 L316.3,506.4 L316.8,512.3 L317.4,518.3 L318.0,521.0 L318.6,518.9 L319.2,514.2 L319.8,509.4 L320.4,507.3 L321.0,509.8 L321.7,515.2 L322.2,520.6 L322.6,523.1 L322.7,522.8 L322.8,522.0 L322.8,520.7 L322.9,519.2 L323.0,500.3 L322.8,469.1 L322.8,439.5 L323.4,425.8 L323.4,425.8 L323.5,425.8 L323.6,425.8 L323.6,425.8 L324.1,441.0 L323.9,473.2 L323.7,505.1 L324.1,519.6 L324.5,517.7 L324.9,513.4 L325.3,509.1 L325.8,507.2 L326.4,510.7 L327.0,518.3 L327.6,525.9 L328.3,529.4 L328.9,527.0 L329.6,521.8 L330.3,516.6 L330.9,514.2 L331.5,517.2 L332.1,523.8 L332.6,530.3 L333.2,533.3 L333.7,530.7 L334.2,525.0 L334.8,519.3 L335.4,516.7 L336.2,519.0 L337.1,524.1 L338.0,529.3 L338.8,531.6 L339.4,528.8 L339.9,522.8 L340.5,516.8 L341.3,513.9 L342.1,514.6 L343.1,516.4 L344.1,518.8 L344.9,521.2 L345.7,525.5 L346.3,530.7 L346.8,535.2 L347.2,537.1 L347.6,535.8 L347.9,532.6 L348.2,528.6 L348.5,525.0" fill="none" stroke="#d0307a" stroke-width="1.8" stroke-dasharray="1.6 1.65" stroke-linejoin="round"/>
<path d="M37.0,536.3 L37.2,531.5 L37.3,526.5 L37.5,521.9 L37.9,518.5 L38.2,517.3 L38.5,516.3 L38.9,515.6 L39.2,515.3 L39.6,516.4 L39.9,518.8 L40.2,521.2 L40.5,522.3 L40.8,521.7 L41.1,520.4 L41.4,519.1 L41.7,518.5 L42.2,521.5 L42.5,528.1 L42.7,534.6 L43.0,537.6 L43.2,529.7 L43.1,512.4 L43.3,494.9 L44.3,486.6 L44.6,486.6 L44.9,486.9 L45.3,487.3 L45.6,487.9 L46.6,497.2 L46.8,513.6 L46.9,530.5 L47.5,541.4 L47.8,542.9 L48.1,544.2 L48.5,545.0 L48.8,545.3 L49.5,539.0 L50.0,525.4 L50.3,511.9 L50.7,505.7 L51.0,511.3 L51.3,523.5 L51.6,535.8 L51.9,541.4 L52.2,536.1 L52.5,524.4 L53.0,512.6 L53.9,507.0 L54.2,507.0 L54.5,507.3 L54.8,507.7 L55.1,508.3 L55.9,515.0 L56.3,526.2 L56.6,536.7 L57.0,541.4 L57.3,539.8 L57.5,536.3 L57.9,532.8 L58.3,531.2 L58.7,532.0 L59.2,533.8 L59.8,535.5 L60.2,536.3 L60.6,534.7 L60.9,531.2 L61.2,527.7 L61.5,526.1 L62.0,527.7 L62.5,531.2 L63.0,534.7 L63.4,536.3 L63.9,532.7 L64.2,524.8 L64.4,517.0 L64.7,513.4 L65.0,518.2 L65.3,528.7 L65.6,539.2 L66.0,544.0 L66.3,542.0 L66.6,537.6 L66.9,533.2 L67.3,531.2 L67.6,532.9 L68.0,536.8 L68.5,540.7 L69.2,542.7 L69.8,542.4 L70.4,541.5 L71.1,540.6 L71.7,540.2 L72.6,541.5 L73.4,544.1 L74.2,546.7 L74.9,547.8 L75.4,546.0 L75.6,542.1 L76.0,538.0 L76.8,535.7 L77.5,535.4 L78.4,535.5 L79.3,535.8 L80.0,536.3 L80.7,538.0 L81.1,540.6 L81.4,542.9 L81.9,544.0 L82.5,543.0 L83.2,540.8 L83.9,538.6 L84.5,537.6 L85.2,539.0 L85.8,542.1 L86.4,545.1 L87.0,546.5 L87.5,544.5 L87.9,540.2 L88.3,535.8 L88.9,533.8 L89.5,534.6 L90.1,536.3 L90.8,538.1 L91.5,538.9 L92.2,537.6 L92.9,534.8 L93.7,531.8 L94.7,530.0 L95.5,529.8 L96.3,530.0 L97.2,530.2 L97.9,530.0 L99.1,526.6 L99.8,520.8 L100.3,515.3 L101.1,512.7 L101.7,513.1 L102.3,514.2 L103.0,515.7 L103.6,517.2 L104.6,519.7 L105.5,522.5 L106.5,525.6 L107.4,528.7 L108.4,532.8 L109.4,537.4 L110.4,541.1 L111.3,542.7 L112.1,540.8 L112.8,536.7 L113.6,532.5 L114.4,530.6 L115.1,531.4 L115.9,533.5 L116.7,535.8 L117.6,537.6 L118.2,538.4 L118.8,539.2 L119.4,539.7 L120.0,539.8 L121.0,537.3 L121.8,532.4 L122.6,527.4 L123.6,525.0 L124.4,525.6 L125.2,527.0 L126.1,528.4 L126.8,529.0 L127.6,526.4 L128.1,521.1 L128.5,515.9 L129.2,513.4 L129.8,514.2 L130.5,516.1 L131.2,518.0 L131.9,518.9 L132.7,518.1 L133.5,516.1 L134.2,513.5 L134.9,510.8 L135.7,506.4 L136.4,501.2 L137.1,495.9 L137.9,491.3 L138.7,488.1 L139.5,484.9 L140.4,482.4 L141.3,481.4 L142.1,482.4 L142.9,484.5 L143.7,486.7 L144.4,487.6 L145.4,486.1 L146.3,482.7 L147.1,478.3 L147.9,473.9 L148.7,466.8 L149.2,458.1 L149.7,450.9 L150.4,447.8 L151.2,450.6 L152.1,456.8 L153.0,463.0 L153.8,465.8 L154.6,461.4 L155.3,451.7 L155.9,442.1 L156.7,437.7 L157.5,441.2 L158.3,448.8 L159.2,456.5 L160.1,460.0 L160.9,457.6 L161.7,452.1 L162.5,446.7 L163.2,444.3 L163.9,446.8 L164.4,452.7 L165.1,459.3 L166.0,464.3 L166.6,466.1 L167.4,467.7 L168.1,468.9 L168.8,469.3 L169.7,467.5 L170.6,463.6 L171.4,459.7 L172.2,458.0 L173.1,460.4 L174.1,465.6 L174.9,470.9 L175.7,473.2 L176.7,467.2 L177.4,454.2 L178.0,441.2 L178.7,435.3 L179.4,441.1 L180.0,453.8 L180.6,466.6 L181.4,472.4 L181.9,470.7 L182.5,466.8 L183.1,462.9 L183.7,461.1 L184.3,462.3 L185.0,465.0 L185.7,467.6 L186.3,468.8 L187.3,463.1 L188.1,450.7 L188.7,438.4 L189.4,432.8 L190.3,439.7 L191.1,454.8 L192.0,469.8 L192.8,476.7 L193.6,468.0 L194.4,448.8 L195.2,429.6 L195.9,420.9 L196.5,428.8 L197.0,446.2 L197.6,463.7 L198.4,471.6 L199.0,469.6 L199.7,464.7 L200.4,458.5 L201.1,452.9 L201.9,446.8 L202.7,440.0 L203.4,434.5 L204.1,432.2 L204.8,437.8 L205.4,450.2 L205.9,462.5 L206.4,468.1 L207.0,460.7 L207.4,444.4 L208.0,428.1 L208.8,420.7 L209.6,424.3 L210.4,432.3 L211.3,440.4 L212.1,444.0 L212.8,439.9 L213.5,431.0 L214.1,422.1 L214.7,418.1 L215.3,422.9 L215.9,433.4 L216.5,443.9 L217.2,448.7 L217.9,444.5 L218.8,435.3 L219.5,426.1 L220.1,421.9 L220.4,424.8 L220.6,431.3 L220.7,437.7 L220.8,440.6 L220.8,425.0 L220.5,390.5 L220.4,355.7 L221.3,339.0 L221.4,338.9 L221.5,338.9 L221.6,338.9 L221.7,339.0 L222.5,355.8 L222.5,390.8 L222.1,425.4 L222.2,441.1 L222.4,438.6 L222.6,433.0 L222.9,427.4 L223.2,424.9 L223.8,429.5 L224.5,439.7 L225.2,449.9 L225.7,454.5 L225.9,453.5 L226.1,450.8 L226.2,447.0 L226.3,442.7 L226.3,419.4 L226.0,385.1 L225.9,353.6 L226.8,339.0 L226.9,338.9 L227.0,338.9 L227.1,338.9 L227.2,339.0 L228.0,356.2 L227.8,391.9 L227.5,427.4 L227.7,443.4 L228.0,441.1 L228.4,436.1 L228.8,431.1 L229.2,428.8 L229.8,432.8 L230.4,441.5 L231.1,450.3 L231.9,454.3 L232.6,452.0 L233.4,447.0 L234.1,442.1 L234.8,439.8 L235.6,444.6 L236.2,455.0 L236.8,465.5 L237.4,470.2 L238.1,463.6 L238.9,449.1 L239.6,434.7 L240.3,428.1 L241.0,435.2 L241.8,450.9 L242.6,466.6 L243.5,473.8 L244.2,471.2 L245.0,465.2 L245.9,458.1 L246.8,452.4 L247.5,449.6 L248.2,446.8 L249.0,444.7 L249.6,443.9 L250.5,450.1 L251.1,463.4 L251.5,476.7 L252.1,482.8 L252.9,477.6 L253.8,466.1 L254.7,454.5 L255.6,449.3 L256.3,454.0 L257.0,465.0 L257.7,477.2 L258.7,485.7 L259.2,487.7 L259.8,489.5 L260.4,490.7 L261.0,491.2 L261.9,488.9 L262.8,483.9 L263.7,479.0 L264.5,476.8 L265.4,481.2 L266.1,490.8 L266.7,500.4 L267.3,504.8 L267.9,500.8 L268.5,492.0 L269.0,483.2 L269.6,479.2 L270.0,482.2 L270.4,488.9 L270.9,495.8 L271.9,499.1 L272.6,498.8 L273.5,497.9 L274.3,496.7 L275.1,495.5 L275.8,494.1 L276.4,492.5 L276.9,491.1 L277.4,490.6 L278.3,494.7 L278.9,503.5 L279.5,512.2 L280.1,516.2 L280.7,512.8 L281.3,505.2 L282.0,497.5 L282.8,494.0 L283.4,494.6 L284.0,496.1 L284.7,498.2 L285.3,500.4 L286.3,506.9 L287.2,515.7 L287.9,523.4 L288.7,526.7 L289.4,522.9 L290.0,514.6 L290.7,506.3 L291.3,502.5 L291.9,506.1 L292.5,514.0 L293.2,522.0 L293.9,525.6 L294.7,522.3 L295.7,515.0 L296.6,507.8 L297.4,504.5 L298.1,508.8 L298.6,518.3 L299.1,527.8 L299.8,532.1 L300.6,529.1 L301.5,522.5 L302.4,515.9 L303.3,512.9 L303.9,514.9 L304.5,519.2 L305.0,523.6 L305.6,525.6 L306.3,523.2 L307.1,518.0 L307.8,512.8 L308.5,510.4 L309.2,514.1 L309.7,522.1 L310.2,530.1 L310.8,533.7 L311.4,529.9 L312.1,521.6 L312.8,513.2 L313.4,509.4 L313.9,512.6 L314.4,519.6 L314.9,526.6 L315.6,529.8 L316.4,526.9 L317.4,520.6 L318.4,514.3 L319.2,511.4 L319.9,515.2 L320.5,523.6 L321.0,532.0 L321.7,535.8 L322.3,534.1 L322.9,530.2 L323.6,525.5 L324.4,521.8 L325.0,519.9 L325.7,518.0 L326.4,516.6 L327.0,516.1 L327.8,518.2 L328.6,522.7 L329.4,527.3 L330.3,529.4 L331.1,528.5 L331.9,526.6 L332.7,524.6 L333.5,523.7 L334.4,525.7 L335.2,529.9 L336.0,534.0 L336.7,535.9 L337.5,533.2 L338.3,527.2 L339.0,521.2 L339.7,518.5 L340.3,522.2 L340.8,530.2 L341.2,538.3 L341.9,542.0 L342.6,539.6 L343.4,534.4 L344.2,529.0 L345.2,526.5 L345.7,527.0 L346.3,528.2 L346.9,529.4 L347.4,529.9 L348.5,516.5 L348.2,487.6 L347.7,458.7 L347.9,445.0 L347.9,445.0 L348.0,445.0 L348.1,445.0 L348.1,445.0 L348.7,454.8 L348.8,477.4 L348.6,504.9 L348.6,530.0" fill="none" stroke="#6a96f5" stroke-width="1.7" stroke-dasharray="6.5 1.8 3 1.7" stroke-linejoin="round"/>
<path d="M37.0,536.3 L37.2,531.5 L37.3,526.5 L37.5,521.9 L37.9,518.5 L38.2,517.3 L38.5,516.3 L38.9,515.6 L39.2,515.3 L39.6,516.4 L39.9,518.8 L40.2,521.2 L40.5,522.3 L40.8,521.7 L41.1,520.4 L41.4,519.1 L41.7,518.5 L42.2,521.5 L42.5,528.1 L42.7,534.6 L43.0,537.6 L43.2,529.7 L43.1,512.4 L43.3,494.9 L44.3,486.6 L44.6,486.6 L44.9,486.9 L45.3,487.3 L45.6,487.9 L46.6,497.2 L46.8,513.6 L46.9,530.5 L47.5,541.4 L47.8,542.9 L48.1,544.2 L48.5,545.0 L48.8,545.3 L49.5,539.0 L50.0,525.4 L50.3,511.9 L50.7,505.7 L51.0,511.3 L51.3,523.5 L51.6,535.8 L51.9,541.4 L52.2,536.1 L52.5,524.4 L53.0,512.6 L53.9,507.0 L54.2,507.0 L54.5,507.3 L54.8,507.7 L55.1,508.3 L55.9,515.0 L56.3,526.2 L56.6,536.7 L57.0,541.4 L57.3,539.8 L57.5,536.3 L57.9,532.8 L58.3,531.2 L58.7,532.0 L59.2,533.8 L59.8,535.5 L60.2,536.3 L60.6,534.7 L60.9,531.2 L61.2,527.7 L61.5,526.1 L62.0,527.7 L62.5,531.2 L63.0,534.7 L63.4,536.3 L63.9,532.7 L64.2,524.8 L64.4,517.0 L64.7,513.4 L65.0,518.2 L65.3,528.7 L65.6,539.2 L66.0,544.0 L66.3,542.0 L66.6,537.6 L66.9,533.2 L67.3,531.2 L67.6,532.9 L68.0,536.8 L68.5,540.7 L69.2,542.7 L69.8,542.4 L70.4,541.5 L71.1,540.6 L71.7,540.2 L72.6,541.5 L73.4,544.1 L74.2,546.7 L74.9,547.8 L75.4,546.0 L75.6,542.1 L76.0,538.0 L76.8,535.7 L77.5,535.4 L78.4,535.5 L79.3,535.8 L80.0,536.3 L80.7,538.0 L81.1,540.6 L81.4,542.9 L81.9,544.0 L82.5,543.0 L83.2,540.8 L83.9,538.6 L84.5,537.6 L85.2,539.0 L85.8,542.1 L86.4,545.1 L87.0,546.5 L87.5,544.5 L87.9,540.2 L88.3,535.8 L88.9,533.8 L89.5,534.6 L90.1,536.3 L90.8,538.1 L91.5,538.9 L92.2,537.6 L92.9,534.8 L93.7,531.8 L94.7,530.0 L95.5,529.8 L96.3,530.0 L97.2,530.2 L97.9,530.0 L99.1,526.6 L99.8,520.8 L100.3,515.3 L101.1,512.7 L101.7,513.1 L102.3,514.2 L103.0,515.7 L103.6,517.2 L104.6,519.7 L105.5,522.5 L106.5,525.6 L107.4,528.7 L108.4,532.8 L109.4,537.4 L110.4,541.1 L111.3,542.7 L112.1,540.8 L112.8,536.7 L113.6,532.5 L114.4,530.6 L115.1,531.6 L115.9,533.9 L116.7,536.3 L117.6,537.6 L118.2,537.7 L118.8,537.5 L119.4,537.2 L120.0,536.7 L120.9,535.5 L121.8,533.8 L122.5,531.9 L123.3,529.9 L124.1,527.0 L124.7,523.6 L125.4,520.6 L126.4,519.0 L127.1,519.1 L127.9,519.6 L128.8,520.1 L129.5,520.1 L130.7,516.8 L131.5,510.6 L132.1,504.6 L132.9,501.9 L133.7,503.4 L134.5,506.9 L135.3,510.3 L136.0,511.8 L136.5,508.7 L136.8,502.0 L137.2,494.9 L138.3,491.0 L139.1,490.9 L139.9,491.3 L140.8,491.7 L141.6,491.6 L142.8,486.7 L143.1,477.8 L143.3,469.2 L143.8,465.3 L144.4,466.5 L145.0,469.4 L145.8,472.3 L146.6,473.7 L147.3,473.5 L148.0,472.9 L148.8,471.9 L149.4,470.7 L150.5,464.8 L151.0,455.9 L151.4,447.9 L151.8,444.4 L152.4,448.2 L153.0,456.6 L153.5,465.0 L154.1,468.8 L154.7,464.5 L155.2,455.1 L155.8,445.6 L156.5,441.3 L157.3,445.1 L158.1,453.5 L159.0,462.0 L159.8,465.8 L160.4,462.1 L161.0,454.0 L161.6,445.9 L162.2,442.2 L162.7,444.7 L163.2,450.6 L163.9,457.1 L165.0,461.5 L165.8,462.6 L166.7,463.5 L167.6,464.0 L168.4,464.0 L169.7,460.4 L170.5,453.3 L171.2,446.4 L171.8,443.3 L172.6,448.3 L173.4,459.1 L174.1,470.0 L174.7,474.9 L175.4,468.2 L175.9,453.5 L176.5,438.7 L177.2,432.0 L178.0,437.2 L178.8,448.7 L179.7,460.2 L180.7,465.5 L181.5,462.1 L182.4,454.5 L183.3,446.9 L184.2,443.5 L185.1,446.5 L186.1,453.2 L187.0,459.9 L187.8,462.9 L188.7,457.2 L189.5,444.7 L190.2,432.3 L190.9,426.6 L191.6,433.3 L192.2,448.1 L192.7,462.9 L193.3,469.6 L193.6,465.0 L193.8,454.4 L194.3,442.7 L195.5,434.8 L196.3,433.1 L197.2,431.7 L198.1,430.8 L198.9,430.6 L200.1,435.9 L200.5,446.8 L200.8,457.5 L201.2,462.4 L201.9,457.7 L202.6,447.2 L203.3,436.8 L204.1,432.0 L204.9,436.8 L205.7,447.3 L206.5,457.8 L207.2,462.6 L207.9,455.3 L208.4,439.3 L208.9,423.3 L209.5,416.0 L210.0,420.3 L210.5,429.8 L211.0,439.4 L211.7,443.7 L212.5,440.2 L213.4,432.5 L214.3,424.8 L215.1,421.3 L216.0,425.9 L216.9,435.9 L217.6,445.9 L218.1,450.5 L218.2,449.5 L218.3,446.8 L218.3,443.1 L218.3,438.8 L218.2,416.3 L217.9,383.3 L217.9,353.0 L218.8,339.0 L218.9,338.9 L219.0,338.9 L219.1,338.9 L219.2,339.0 L220.0,355.5 L220.0,389.8 L219.7,423.8 L219.7,439.2 L219.8,437.8 L219.9,434.8 L220.1,431.7 L220.3,430.3 L221.0,433.4 L221.9,440.2 L222.8,446.9 L223.4,450.0 L223.6,449.2 L223.7,447.1 L223.7,444.1 L223.8,440.6 L223.8,418.3 L223.4,384.6 L223.4,353.5 L224.3,339.0 L224.4,338.9 L224.5,338.9 L224.6,338.9 L224.7,339.0 L225.5,355.8 L225.5,390.8 L225.2,425.4 L225.2,441.1 L225.5,436.7 L225.8,426.9 L226.1,417.1 L226.5,412.7 L227.1,420.7 L227.8,438.2 L228.6,455.8 L229.4,463.8 L230.2,456.6 L231.2,440.7 L232.1,424.9 L232.9,417.7 L233.6,425.6 L234.2,442.8 L234.8,460.1 L235.5,468.0 L236.2,462.5 L237.0,450.4 L237.8,438.2 L238.6,432.7 L239.3,439.6 L240.0,454.8 L240.7,469.9 L241.4,476.8 L242.0,471.2 L242.7,458.8 L243.3,446.4 L244.0,440.8 L244.6,445.5 L245.3,455.8 L246.0,466.1 L246.7,470.8 L247.3,468.4 L247.8,463.0 L248.4,457.6 L249.0,455.1 L249.9,460.0 L250.9,470.9 L251.8,481.8 L252.6,486.7 L253.3,480.0 L253.8,465.3 L254.4,450.7 L255.0,444.0 L255.6,448.5 L256.2,458.6 L257.0,468.7 L258.0,473.4 L258.5,472.9 L259.0,471.8 L259.5,470.6 L259.9,470.0 L260.0,470.0 L260.0,470.0 L260.1,470.0 L260.1,470.0 L260.5,471.6 L261.0,474.8 L261.5,477.9 L262.0,479.3 L262.5,477.0 L263.0,472.0 L263.5,467.1 L264.0,464.8 L264.8,471.4 L265.7,485.8 L266.5,500.2 L267.3,506.7 L267.9,503.3 L268.5,495.7 L269.1,488.1 L269.7,484.7 L270.4,488.0 L271.0,495.2 L271.8,502.5 L272.6,505.8 L273.4,503.9 L274.2,499.6 L275.1,495.4 L275.8,493.5 L276.6,497.6 L277.1,506.5 L277.6,515.4 L278.2,519.4 L279.0,514.9 L279.8,505.0 L280.6,495.2 L281.3,490.7 L281.8,495.0 L282.3,504.4 L282.8,513.8 L283.5,518.1 L284.2,516.4 L285.0,512.7 L285.8,509.0 L286.5,507.3 L287.4,510.7 L288.1,518.0 L288.8,525.3 L289.5,528.6 L290.2,524.8 L290.8,516.4 L291.4,508.0 L292.1,504.2 L292.9,508.2 L293.8,517.1 L294.8,526.0 L295.6,530.0 L296.2,527.1 L296.8,520.6 L297.3,514.1 L298.0,511.1 L298.7,513.2 L299.5,517.9 L300.3,522.7 L301.1,524.8 L301.9,521.8 L302.6,515.2 L303.3,508.6 L304.0,505.6 L304.8,508.6 L305.5,515.6 L306.4,523.5 L307.5,529.2 L308.2,530.9 L309.0,532.4 L309.7,533.5 L310.4,533.8 L311.3,529.9 L311.8,521.8 L312.2,513.8 L312.7,510.1 L313.5,514.2 L314.3,523.1 L315.2,532.0 L316.0,536.1 L316.7,532.5 L317.4,524.4 L318.1,516.4 L318.7,512.8 L319.3,516.0 L319.8,523.1 L320.3,530.2 L320.9,533.4 L321.4,530.9 L322.0,525.3 L322.6,519.7 L323.2,517.1 L323.9,520.0 L324.6,526.3 L325.3,532.6 L326.0,535.5 L326.7,532.5 L327.3,526.1 L328.0,519.6 L328.7,516.6 L329.5,519.1 L330.3,524.5 L331.2,529.9 L332.0,532.4 L332.8,529.4 L333.7,522.9 L334.5,516.4 L335.2,513.4 L335.8,516.1 L336.3,522.0 L336.8,527.9 L337.6,530.7 L338.4,529.3 L339.4,526.1 L340.3,522.8 L341.2,521.4 L342.1,523.1 L342.9,527.1 L343.7,531.7 L344.5,535.5 L345.1,537.5 L345.7,539.5 L346.3,541.0 L346.8,541.6 L347.3,540.2 L347.8,536.8 L348.1,532.7 L348.5,529.0" fill="none" stroke="#6690f2" stroke-width="1.8" stroke-dasharray="1.6 1.65" stroke-linejoin="round"/>
<path d="M37.0,536.3 L37.2,531.5 L37.3,526.5 L37.5,521.9 L37.9,518.5 L38.2,517.3 L38.5,516.3 L38.9,515.6 L39.2,515.3 L39.6,516.4 L39.9,518.8 L40.2,521.2 L40.5,522.3 L40.8,521.7 L41.1,520.4 L41.4,519.1 L41.7,518.5 L42.2,521.5 L42.5,528.1 L42.7,534.6 L43.0,537.6 L43.2,529.7 L43.1,512.4 L43.3,494.9 L44.3,486.6 L44.6,486.6 L44.9,486.9 L45.3,487.3 L45.6,487.9 L46.6,497.2 L46.8,513.6 L46.9,530.5 L47.5,541.4 L47.8,542.9 L48.1,544.2 L48.5,545.0 L48.8,545.3 L49.5,539.0 L50.0,525.4 L50.3,511.9 L50.7,505.7 L51.0,511.3 L51.3,523.5 L51.6,535.8 L51.9,541.4 L52.2,536.1 L52.5,524.4 L53.0,512.6 L53.9,507.0 L54.2,507.0 L54.5,507.3 L54.8,507.7 L55.1,508.3 L55.9,515.0 L56.3,526.2 L56.6,536.7 L57.0,541.4 L57.3,539.8 L57.5,536.3 L57.9,532.8 L58.3,531.2 L58.7,532.0 L59.2,533.8 L59.8,535.5 L60.2,536.3 L60.6,534.7 L60.9,531.2 L61.2,527.7 L61.5,526.1 L62.0,527.7 L62.5,531.2 L63.0,534.7 L63.4,536.3 L63.9,532.7 L64.2,524.8 L64.4,517.0 L64.7,513.4 L65.0,518.2 L65.3,528.7 L65.6,539.2 L66.0,544.0 L66.3,542.0 L66.6,537.6 L66.9,533.2 L67.3,531.2 L67.6,532.9 L68.0,536.8 L68.5,540.7 L69.2,542.7 L69.8,542.4 L70.4,541.5 L71.1,540.6 L71.7,540.2 L72.6,541.5 L73.4,544.1 L74.2,546.7 L74.9,547.8 L75.4,546.0 L75.6,542.1 L76.0,538.0 L76.8,535.7 L77.5,535.4 L78.4,535.5 L79.3,535.8 L80.0,536.3 L80.7,538.0 L81.1,540.6 L81.4,542.9 L81.9,544.0 L82.5,543.0 L83.2,540.8 L83.9,538.6 L84.5,537.6 L85.2,539.0 L85.8,542.1 L86.4,545.1 L87.0,546.5 L87.5,544.5 L87.9,540.2 L88.3,535.8 L88.9,533.8 L89.5,534.6 L90.1,536.3 L90.8,538.1 L91.5,538.9 L92.2,537.6 L92.9,534.8 L93.7,531.8 L94.7,530.0 L95.5,529.8 L96.3,530.0 L97.2,530.2 L97.9,530.0 L99.1,526.6 L99.8,520.8 L100.3,515.3 L101.1,512.7 L101.7,513.1 L102.3,514.2 L103.0,515.7 L103.6,517.2 L104.6,519.7 L105.5,522.5 L106.5,525.6 L107.4,528.7 L108.4,532.8 L109.4,537.4 L110.4,541.1 L111.3,542.7 L112.1,540.8 L112.8,536.7 L113.6,532.5 L114.4,530.6 L115.1,531.6 L115.9,534.0 L116.7,536.5 L117.6,537.6 L118.5,536.9 L119.5,535.2 L120.5,533.1 L121.5,531.2 L122.5,529.3 L123.4,527.2 L124.4,525.5 L125.3,524.8 L126.0,525.3 L126.6,526.4 L127.3,527.5 L127.9,527.9 L128.9,525.9 L129.8,521.5 L130.6,516.2 L131.6,511.8 L132.6,508.8 L133.6,505.9 L134.7,503.3 L136.0,501.5 L136.9,501.0 L137.9,500.8 L138.9,500.6 L139.7,500.0 L140.9,496.7 L141.5,491.6 L141.9,486.0 L142.6,480.9 L143.5,477.1 L144.4,473.5 L145.4,469.9 L146.3,466.2 L147.0,461.4 L147.6,456.2 L148.3,451.5 L149.3,448.5 L149.8,447.8 L150.4,447.4 L151.0,447.1 L151.5,447.1 L152.3,448.7 L153.0,451.7 L153.7,454.6 L154.4,455.9 L155.3,454.7 L156.2,451.9 L157.2,448.5 L158.1,445.6 L158.8,443.3 L159.6,440.9 L160.3,439.0 L161.0,438.2 L161.7,439.7 L162.3,443.1 L163.0,446.6 L164.0,448.5 L164.8,448.4 L165.8,447.8 L166.8,447.2 L167.6,447.1 L168.7,449.8 L169.5,454.9 L170.0,459.7 L170.6,461.8 L171.4,457.6 L172.1,448.5 L172.8,439.4 L173.5,435.3 L174.1,438.9 L174.6,446.8 L175.3,454.8 L176.5,458.8 L177.1,458.6 L177.9,457.7 L178.6,456.7 L179.4,455.9 L180.1,455.3 L180.9,454.7 L181.7,454.4 L182.4,454.4 L183.7,458.8 L184.3,467.4 L184.7,475.7 L185.3,479.4 L186.1,475.8 L186.8,467.9 L187.7,459.9 L189.0,455.9 L189.7,456.3 L190.5,457.4 L191.2,458.4 L191.9,458.8 L193.0,453.6 L193.4,443.1 L193.6,432.6 L194.1,427.9 L194.8,430.6 L195.5,436.7 L196.3,442.8 L197.1,445.6 L197.8,444.4 L198.6,441.5 L199.3,437.7 L200.0,433.8 L200.8,426.4 L201.4,417.1 L202.0,409.3 L202.8,405.9 L203.6,407.9 L204.5,412.6 L205.5,418.2 L206.5,422.7 L207.2,425.2 L207.9,427.6 L208.6,429.5 L209.3,430.2 L210.0,427.6 L210.6,421.9 L211.2,416.2 L212.1,413.4 L212.8,413.9 L213.5,415.2 L214.2,416.6 L214.9,417.1 L215.7,415.2 L216.4,411.4 L217.1,407.6 L217.7,405.9 L218.7,410.3 L219.6,419.9 L220.5,429.5 L221.5,433.9 L222.4,431.3 L223.3,425.5 L224.3,419.7 L225.2,417.1 L226.2,420.9 L227.1,429.3 L228.0,437.6 L228.9,441.4 L229.6,439.9 L230.4,435.9 L231.1,430.5 L231.7,424.6 L232.1,404.1 L231.6,376.0 L231.5,350.5 L233.0,338.0 L233.4,337.7 L233.8,337.6 L234.2,337.7 L234.6,338.0 L236.2,353.6 L236.3,384.5 L235.7,414.7 L235.5,428.3 L235.4,414.5 L235.1,384.0 L235.2,353.1 L236.2,338.0 L236.3,337.9 L236.5,337.9 L236.7,337.9 L236.8,338.0 L237.9,357.9 L237.7,399.1 L237.3,439.8 L237.5,458.2 L238.0,453.3 L238.6,442.4 L239.3,431.5 L240.1,426.5 L240.9,429.1 L241.7,435.2 L242.7,442.1 L243.9,447.0 L244.6,448.1 L245.3,448.8 L246.1,449.6 L246.7,450.7 L247.8,456.8 L248.4,465.5 L248.9,473.5 L249.5,476.9 L250.2,473.7 L250.9,466.6 L251.6,459.5 L252.3,456.3 L253.0,460.7 L253.7,470.3 L254.3,479.9 L255.1,484.3 L255.6,482.2 L256.1,477.4 L256.8,472.4 L257.9,469.4 L258.6,469.0 L259.3,468.9 L260.0,469.0 L260.7,469.4 L261.9,473.9 L262.3,482.0 L262.7,489.8 L263.5,493.7 L263.8,493.7 L264.2,493.3 L264.6,493.0 L265.0,492.9 L265.8,493.6 L266.7,494.9 L267.6,496.6 L268.4,498.1 L269.1,499.6 L269.8,501.4 L270.4,502.8 L271.0,503.3 L272.0,500.5 L272.8,494.6 L273.7,488.8 L274.5,486.1 L275.3,488.1 L276.1,492.9 L276.9,498.6 L277.9,503.3 L278.7,505.7 L279.6,507.8 L280.5,509.8 L281.4,511.9 L282.2,514.8 L283.0,518.1 L283.8,520.9 L284.8,522.2 L285.6,522.0 L286.5,521.1 L287.4,520.0 L288.2,518.8 L289.1,517.0 L290.0,514.7 L290.9,512.7 L291.7,511.9 L292.5,512.9 L293.3,515.2 L294.1,517.5 L295.1,518.8 L295.9,518.6 L296.8,517.9 L297.8,517.2 L298.6,517.0 L299.5,517.9 L300.3,519.6 L301.1,521.3 L302.0,522.2 L302.8,522.0 L303.7,521.4 L304.6,520.7 L305.4,520.5 L306.3,521.0 L307.2,521.9 L308.0,523.0 L308.9,523.9 L309.8,524.3 L310.6,524.6 L311.5,525.0 L312.3,525.6 L313.4,528.4 L314.3,532.5 L315.1,536.1 L315.8,537.7 L316.4,535.1 L316.8,529.3 L317.3,523.0 L318.4,518.8 L319.2,517.9 L320.1,517.3 L321.0,516.9 L321.8,517.0 L322.8,518.6 L323.6,521.5 L324.3,524.3 L325.2,525.6 L326.0,524.8 L326.9,523.1 L327.8,521.3 L328.7,520.5 L329.6,521.6 L330.4,524.0 L331.2,526.3 L332.1,527.4 L333.0,526.6 L333.9,524.8 L334.8,523.0 L335.6,522.2 L336.5,523.8 L337.2,527.3 L338.0,530.8 L339.0,532.5 L339.8,532.0 L340.7,530.8 L341.7,529.6 L342.5,529.1 L343.5,530.3 L344.4,532.7 L345.2,535.0 L345.9,536.0 L347.0,531.9 L347.6,522.3 L348.0,510.5 L348.5,499.8" fill="none" stroke="#ff0000" stroke-width="2.4" stroke-linejoin="round"/>
</g>
<line x1="37.0" y1="338.6" x2="37.0" y2="549.4" stroke="#dcdcdc" stroke-width="1"/>
<line x1="37.0" y1="549.4" x2="348.3" y2="549.4" stroke="#a0a0a0" stroke-width="1"/>
<line x1="37.0" y1="549.4" x2="40.0" y2="549.4" stroke="#b0b0b0" stroke-width="1"/>
<text x="33.0" y="553.9" font-size="10.3" fill="#3a3a3a" text-anchor="end">0</text>
<line x1="37.0" y1="507.2" x2="40.0" y2="507.2" stroke="#b0b0b0" stroke-width="1"/>
<text x="33.0" y="511.7" font-size="10.3" fill="#3a3a3a" text-anchor="end">0.1</text>
<line x1="37.0" y1="465.1" x2="40.0" y2="465.1" stroke="#b0b0b0" stroke-width="1"/>
<text x="33.0" y="469.6" font-size="10.3" fill="#3a3a3a" text-anchor="end">0.2</text>
<line x1="37.0" y1="422.9" x2="40.0" y2="422.9" stroke="#b0b0b0" stroke-width="1"/>
<text x="33.0" y="427.4" font-size="10.3" fill="#3a3a3a" text-anchor="end">0.3</text>
<line x1="37.0" y1="380.8" x2="40.0" y2="380.8" stroke="#b0b0b0" stroke-width="1"/>
<text x="33.0" y="385.3" font-size="10.3" fill="#3a3a3a" text-anchor="end">0.4</text>
<line x1="37.0" y1="338.6" x2="40.0" y2="338.6" stroke="#b0b0b0" stroke-width="1"/>
<text x="33.0" y="343.1" font-size="10.3" fill="#3a3a3a" text-anchor="end">0.5</text>
<line x1="37.0" y1="549.4" x2="37.0" y2="546.4" stroke="#b0b0b0" stroke-width="1"/>
<text x="37.4" y="564.3" font-size="10.3" fill="#3a3a3a" text-anchor="middle">0</text>
<line x1="140.8" y1="549.4" x2="140.8" y2="546.4" stroke="#b0b0b0" stroke-width="1"/>
<text x="141.2" y="564.3" font-size="10.3" fill="#3a3a3a" text-anchor="middle">50</text>
<line x1="244.5" y1="549.4" x2="244.5" y2="546.4" stroke="#b0b0b0" stroke-width="1"/>
<text x="244.9" y="564.3" font-size="10.3" fill="#3a3a3a" text-anchor="middle">100</text>
<line x1="348.3" y1="549.4" x2="348.3" y2="546.4" stroke="#b0b0b0" stroke-width="1"/>
<text x="348.7" y="564.3" font-size="10.3" fill="#3a3a3a" text-anchor="middle">150</text>
<text x="193.2" y="579.0" font-size="11.7" fill="#3a3a3a" text-anchor="middle">Time [ms]</text>
<text transform="translate(13.8,444.0) rotate(-90)" font-size="11.9" fill="#3a3a3a" text-anchor="middle">Pelvis - Resultant Acc. [mm/ms<tspan dx="0.3" dy="-6" font-size="8.8">2</tspan><tspan dx="0.6" dy="6">]</tspan></text>
<rect x="66.1" y="302.4" width="19.8" height="8.7" fill="#cdcdcd"/>
<text x="87.9" y="310.2" font-size="9.5" fill="#3a3a3a">Exp</text>
<line x1="66.1" y1="319.4" x2="86.0" y2="319.4" stroke="#ff0000" stroke-width="2.4"/>
<text x="87.9" y="322.7" font-size="9.5" fill="#3a3a3a">Base</text>
<line x1="113.8" y1="306.9" x2="134.1" y2="306.9" stroke="#6690f2" stroke-width="1.8" stroke-dasharray="1.6 1.65"/>
<text x="135.8" y="310.2" font-size="9.5" fill="#3a3a3a">B. fric. low</text>
<line x1="113.8" y1="319.4" x2="133.3" y2="319.4" stroke="#6a96f5" stroke-width="1.7" stroke-dasharray="6.5 1.8 3 1.7"/>
<text x="135.8" y="322.7" font-size="9.5" fill="#3a3a3a">B. fric. high</text>
<line x1="187.9" y1="306.9" x2="208.3" y2="306.9" stroke="#d0307a" stroke-width="1.8" stroke-dasharray="1.6 1.65"/>
<text x="209.8" y="310.2" font-size="9.5" fill="#3a3a3a">S. fric. low</text>
<line x1="187.9" y1="319.4" x2="207.2" y2="319.4" stroke="#e0409a" stroke-width="1.7" stroke-dasharray="6.5 1.8 3 1.7"/>
<text x="209.8" y="322.7" font-size="9.5" fill="#3a3a3a">S. fric. high</text>
<line x1="261.8" y1="306.9" x2="281.2" y2="306.9" stroke="#0f5a48" stroke-width="2.0" stroke-dasharray="6 6.5"/>
<text x="283.8" y="310.2" font-size="9.5" fill="#3a3a3a">B. bend.</text>
<path d="M463.2,525.9 L465.2,525.9 L467.2,525.9 L469.2,525.9 L471.2,525.9 L473.2,525.9 L475.2,525.9 L477.2,525.9 L479.2,525.9 L481.2,525.9 L483.2,526.0 L485.2,526.0 L487.2,526.0 L489.2,526.0 L491.2,526.0 L493.2,526.0 L495.2,526.0 L497.2,526.0 L499.2,526.0 L501.2,525.9 L503.2,525.9 L505.2,525.8 L507.2,525.8 L509.2,525.7 L511.2,525.6 L513.2,525.6 L515.2,525.5 L517.2,525.4 L519.2,525.4 L521.2,525.3 L523.2,525.2 L525.2,525.2 L527.2,525.1 L529.2,524.9 L531.2,524.6 L533.2,524.1 L535.2,523.6 L537.2,523.1 L539.2,522.5 L541.2,522.0 L543.2,521.5 L545.2,521.0 L547.2,520.5 L549.2,520.0 L551.2,519.5 L553.2,518.8 L555.2,518.1 L557.2,517.2 L559.2,516.4 L561.2,515.6 L563.2,514.7 L565.2,513.6 L567.2,512.4 L569.2,511.0 L571.2,509.6 L573.2,508.1 L575.2,506.2 L577.2,504.1 L579.2,501.6 L581.2,499.0 L583.2,496.4 L585.2,493.6 L587.2,490.8 L589.2,487.9 L591.2,485.0 L593.2,482.1 L595.2,479.0 L597.2,475.9 L599.2,472.8 L601.2,469.8 L603.2,466.9 L605.2,464.1 L607.2,461.5 L609.2,458.9 L611.2,456.1 L613.2,453.2 L615.2,450.2 L617.2,447.1 L619.2,444.0 L621.2,440.9 L623.2,438.0 L625.2,435.3 L627.2,432.9 L629.2,430.8 L631.2,428.8 L633.2,426.8 L635.2,424.7 L637.2,422.7 L639.2,420.7 L641.2,418.8 L643.2,416.9 L645.2,415.1 L647.2,413.5 L649.2,411.9 L651.2,410.3 L653.2,408.7 L655.2,407.1 L657.2,405.6 L659.2,404.1 L661.2,402.5 L663.2,400.8 L665.2,399.0 L667.2,397.1 L669.2,395.1 L671.2,393.1 L673.2,391.1 L675.2,389.2 L677.2,387.5 L679.2,385.9 L681.2,384.5 L683.2,383.1 L685.2,381.7 L687.2,380.3 L689.2,378.9 L691.2,377.5 L693.2,376.1 L695.2,374.7 L697.2,373.4 L699.2,372.2 L701.2,371.2 L703.2,370.2 L705.2,369.3 L707.2,368.4 L709.2,367.5 L711.2,366.6 L713.2,365.7 L715.2,364.8 L717.2,363.9 L719.2,363.1 L721.2,362.5 L723.2,362.1 L725.2,361.8 L727.2,361.6 L729.2,361.4 L731.2,361.2 L733.2,361.0 L735.2,360.8 L737.2,360.6 L739.2,360.4 L741.2,360.2 L743.2,360.1 L745.2,359.9 L747.2,359.9 L749.2,359.8 L751.2,359.7 L753.2,359.7 L755.2,359.6 L757.2,359.5 L759.2,359.4 L761.2,359.4 L763.2,359.3 L765.2,359.2 L767.2,359.2 L769.2,359.1 L771.2,359.0 L773.2,359.0 L774.8,358.9 L774.8,414.4 L773.2,414.4 L771.2,414.5 L769.2,414.5 L767.2,414.6 L765.2,414.6 L763.2,414.7 L761.2,414.7 L759.2,414.8 L757.2,414.8 L755.2,414.9 L753.2,414.9 L751.2,415.0 L749.2,415.0 L747.2,415.1 L745.2,415.2 L743.2,415.2 L741.2,415.3 L739.2,415.4 L737.2,415.4 L735.2,415.5 L733.2,415.6 L731.2,415.6 L729.2,415.7 L727.2,415.8 L725.2,415.8 L723.2,415.9 L721.2,416.0 L719.2,416.1 L717.2,416.3 L715.2,416.5 L713.2,416.7 L711.2,416.9 L709.2,417.1 L707.2,417.3 L705.2,417.5 L703.2,417.7 L701.2,418.0 L699.2,418.4 L697.2,419.0 L695.2,419.7 L693.2,420.4 L691.2,421.1 L689.2,421.8 L687.2,422.5 L685.2,423.2 L683.2,423.9 L681.2,424.7 L679.2,425.5 L677.2,426.4 L675.2,427.4 L673.2,428.4 L671.2,429.4 L669.2,430.4 L667.2,431.4 L665.2,432.4 L663.2,433.4 L661.2,434.5 L659.2,435.5 L657.2,436.7 L655.2,437.9 L653.2,439.1 L651.2,440.3 L649.2,441.5 L647.2,442.7 L645.2,443.9 L643.2,445.1 L641.2,446.5 L639.2,448.1 L637.2,449.9 L635.2,451.8 L633.2,453.8 L631.2,455.8 L629.2,457.8 L627.2,459.9 L625.2,462.1 L623.2,464.5 L621.2,467.1 L619.2,469.7 L617.2,472.4 L615.2,475.1 L613.2,478.0 L611.2,481.0 L609.2,484.0 L607.2,487.0 L605.2,490.0 L603.2,493.0 L601.2,495.8 L599.2,498.7 L597.2,501.5 L595.2,504.2 L593.2,506.9 L591.2,509.5 L589.2,511.9 L587.2,514.3 L585.2,516.6 L583.2,518.7 L581.2,520.6 L579.2,522.2 L577.2,523.6 L575.2,524.9 L573.2,526.1 L571.2,527.0 L569.2,527.7 L567.2,528.1 L565.2,528.5 L563.2,528.8 L561.2,529.0 L559.2,529.0 L557.2,529.0 L555.2,528.9 L553.2,528.8 L551.2,528.7 L549.2,528.6 L547.2,528.5 L545.2,528.4 L543.2,528.3 L541.2,528.1 L539.2,528.0 L537.2,527.8 L535.2,527.6 L533.2,527.4 L531.2,527.3 L529.2,527.2 L527.2,527.1 L525.2,527.1 L523.2,527.0 L521.2,527.0 L519.2,527.0 L517.2,526.9 L515.2,526.9 L513.2,526.8 L511.2,526.8 L509.2,526.8 L507.2,526.8 L505.2,526.8 L503.2,526.8 L501.2,526.8 L499.2,526.8 L497.2,526.7 L495.2,526.7 L493.2,526.7 L491.2,526.7 L489.2,526.7 L487.2,526.7 L485.2,526.7 L483.2,526.7 L481.2,526.7 L479.2,526.7 L477.2,526.7 L475.2,526.7 L473.2,526.6 L471.2,526.6 L469.2,526.6 L467.2,526.6 L465.2,526.6 L463.2,526.6 Z" fill="#cdcdcd" stroke="none"/>
<g clip-path="url(#clipD)">
<path d="M463.2,525.7 L465.2,525.4 L467.2,525.1 L469.2,524.8 L471.2,524.5 L473.2,524.2 L475.2,523.9 L477.2,523.6 L479.2,523.3 L481.2,522.9 L483.2,522.5 L485.2,522.1 L487.2,521.7 L489.2,521.3 L491.2,520.9 L493.2,520.5 L495.2,520.1 L497.2,519.7 L499.2,519.3 L501.2,519.0 L503.2,518.6 L505.2,518.3 L507.2,518.0 L509.2,517.7 L511.2,517.4 L513.2,517.1 L515.2,516.8 L517.2,516.5 L519.2,516.2 L521.2,516.0 L523.2,515.8 L525.2,515.7 L527.2,515.6 L529.2,515.5 L531.2,515.4 L533.2,515.3 L535.2,515.2 L537.2,515.1 L539.2,515.0 L541.2,514.9 L543.2,514.8 L545.2,514.7 L547.2,514.5 L549.2,514.4 L551.2,514.2 L553.2,514.1 L555.2,514.0 L557.2,513.8 L559.2,513.6 L561.2,513.4 L563.2,512.9 L565.2,512.3 L567.2,511.6 L569.2,510.9 L571.2,510.0 L573.2,509.1 L575.2,508.0 L577.2,506.8 L579.2,505.6 L581.2,504.2 L583.2,502.7 L585.2,500.9 L587.2,498.9 L589.2,496.9 L591.2,494.8 L593.2,492.5 L595.2,489.9 L597.2,487.2 L599.2,484.4 L601.2,481.5 L603.2,478.6 L605.2,475.5 L607.2,472.3 L609.2,469.2 L611.2,466.1 L613.2,463.1 L615.2,460.4 L617.2,457.8 L619.2,455.3 L621.2,452.7 L623.2,449.9 L625.2,447.1 L627.2,444.2 L629.2,441.3 L631.2,438.5 L633.2,435.8 L635.2,433.2 L637.2,430.7 L639.2,428.2 L641.2,425.6 L643.2,423.1 L645.2,420.6 L647.2,418.1 L649.2,415.8 L651.2,413.8 L653.2,412.2 L655.2,410.7 L657.2,409.3 L659.2,408.1 L661.2,407.0 L663.2,406.3 L665.2,405.8 L667.2,405.4 L669.2,405.0 L671.2,404.8 L673.2,404.7 L675.2,404.9 L677.2,405.1 L679.2,405.4 L681.2,405.7 L683.2,406.0 L685.2,406.3 L687.2,406.7 L689.2,407.4 L691.2,408.1 L693.2,408.9 L695.2,409.8 L697.2,410.6 L699.2,411.5 L701.2,412.3 L703.2,413.0 L705.2,413.7 L707.2,414.2 L709.2,414.7 L711.2,415.2 L713.2,415.7 L715.2,416.2 L717.2,416.5 L719.2,416.7 L721.2,416.8 L723.2,416.9 L725.2,417.0 L727.2,417.0 L729.2,417.1 L731.2,417.2 L733.2,417.3 L735.2,417.4 L737.2,417.5 L739.2,417.5 L741.2,417.6 L743.2,417.6 L745.2,417.5 L747.2,417.3 L749.2,417.2 L751.2,417.0 L753.2,416.8 L755.2,416.7 L757.2,416.5 L759.2,416.3 L761.2,416.1 L763.2,416.0 L765.2,415.8 L767.2,415.6 L769.2,415.5 L771.2,415.3 L773.2,415.2 L774.5,415.0" fill="none" stroke="#0f5a48" stroke-width="2.0" stroke-dasharray="6 6.5" stroke-linejoin="round"/>
<path d="M463.2,525.7 L465.2,525.4 L467.2,525.1 L469.2,524.8 L471.2,524.5 L473.2,524.2 L475.2,523.9 L477.2,523.6 L479.2,523.3 L481.2,522.9 L483.2,522.5 L485.2,522.1 L487.2,521.7 L489.2,521.3 L491.2,520.9 L493.2,520.5 L495.2,520.1 L497.2,519.7 L499.2,519.3 L501.2,519.0 L503.2,518.6 L505.2,518.3 L507.2,518.0 L509.2,517.7 L511.2,517.4 L513.2,517.1 L515.2,516.8 L517.2,516.5 L519.2,516.2 L521.2,516.0 L523.2,515.9 L525.2,515.9 L527.2,515.9 L529.2,515.9 L531.2,515.9 L533.2,515.9 L535.2,515.9 L537.2,516.0 L539.2,516.2 L541.2,516.4 L543.2,516.7 L545.2,517.0 L547.2,517.3 L549.2,517.6 L551.2,517.8 L553.2,518.0 L555.2,518.1 L557.2,518.2 L559.2,518.2 L561.2,518.2 L563.2,518.0 L565.2,517.6 L567.2,517.1 L569.2,516.6 L571.2,516.0 L573.2,515.3 L575.2,514.4 L577.2,513.4 L579.2,512.4 L581.2,511.3 L583.2,510.0 L585.2,508.6 L587.2,507.0 L589.2,505.4 L591.2,503.7 L593.2,501.8 L595.2,499.6 L597.2,497.3 L599.2,494.9 L601.2,492.4 L603.2,489.9 L605.2,487.4 L607.2,484.8 L609.2,482.2 L611.2,479.6 L613.2,477.1 L615.2,474.7 L617.2,472.3 L619.2,470.2 L621.2,468.2 L623.2,466.3 L625.2,464.6 L627.2,462.9 L629.2,461.2 L631.2,459.6 L633.2,457.9 L635.2,456.3 L637.2,454.7 L639.2,453.2 L641.2,451.6 L643.2,450.2 L645.2,448.8 L647.2,447.6 L649.2,446.3 L651.2,445.2 L653.2,444.1 L655.2,443.2 L657.2,442.6 L659.2,442.0 L661.2,441.5 L663.2,441.0 L665.2,440.5 L667.2,440.0 L669.2,439.5 L671.2,439.0 L673.2,438.6 L675.2,438.1 L677.2,437.7 L679.2,437.5 L681.2,437.2 L683.2,437.1 L685.2,436.9 L687.2,436.8 L689.2,436.8 L691.2,437.0 L693.2,437.2 L695.2,437.4 L697.2,437.7 L699.2,438.2 L701.2,439.0 L703.2,439.9 L705.2,440.9 L707.2,441.8 L709.2,442.7 L711.2,443.5 L713.2,444.2 L715.2,444.8 L717.2,445.4 L719.2,445.9 L721.2,446.3 L723.2,446.5 L725.2,446.7 L727.2,446.8 L729.2,446.9 L731.2,447.0 L733.2,447.1 L735.2,447.2 L737.2,447.3 L739.2,447.4 L741.2,447.5 L743.2,447.7 L745.2,447.9 L747.2,448.2 L749.2,448.5 L751.2,448.8 L753.2,449.2 L755.2,449.5 L757.2,449.8 L759.2,450.1 L761.2,450.4 L763.2,450.7 L765.2,451.0 L767.2,451.2 L769.2,451.5 L771.2,451.7 L773.2,451.9 L774.5,452.1" fill="none" stroke="#e0409a" stroke-width="1.7" stroke-dasharray="6.5 1.8 3 1.7" stroke-linejoin="round"/>
<path d="M463.2,525.7 L465.2,525.4 L467.2,525.1 L469.2,524.8 L471.2,524.5 L473.2,524.2 L475.2,523.9 L477.2,523.6 L479.2,523.3 L481.2,522.9 L483.2,522.5 L485.2,522.1 L487.2,521.7 L489.2,521.3 L491.2,520.9 L493.2,520.5 L495.2,520.1 L497.2,519.7 L499.2,519.3 L501.2,519.0 L503.2,518.6 L505.2,518.3 L507.2,517.9 L509.2,517.6 L511.2,517.3 L513.2,516.9 L515.2,516.6 L517.2,516.3 L519.2,516.0 L521.2,515.7 L523.2,515.5 L525.2,515.4 L527.2,515.2 L529.2,515.1 L531.2,515.0 L533.2,514.8 L535.2,514.7 L537.2,514.6 L539.2,514.4 L541.2,514.2 L543.2,513.9 L545.2,513.5 L547.2,513.1 L549.2,512.6 L551.2,512.2 L553.2,511.7 L555.2,511.3 L557.2,510.9 L559.2,510.4 L561.2,509.9 L563.2,509.2 L565.2,508.5 L567.2,507.7 L569.2,506.8 L571.2,505.8 L573.2,504.5 L575.2,502.9 L577.2,501.2 L579.2,499.3 L581.2,497.4 L583.2,495.2 L585.2,492.8 L587.2,490.3 L589.2,487.7 L591.2,485.0 L593.2,482.1 L595.2,478.9 L597.2,475.6 L599.2,472.2 L601.2,468.9 L603.2,465.6 L605.2,462.5 L607.2,459.5 L609.2,456.5 L611.2,453.5 L613.2,450.5 L615.2,447.5 L617.2,444.6 L619.2,441.9 L621.2,439.4 L623.2,437.1 L625.2,435.0 L627.2,432.9 L629.2,430.8 L631.2,428.7 L633.2,426.4 L635.2,424.1 L637.2,421.7 L639.2,419.3 L641.2,417.0 L643.2,414.9 L645.2,413.0 L647.2,411.3 L649.2,409.7 L651.2,408.1 L653.2,406.6 L655.2,405.4 L657.2,404.4 L659.2,403.5 L661.2,402.8 L663.2,402.4 L665.2,402.0 L667.2,401.7 L669.2,401.4 L671.2,401.1 L673.2,400.9 L675.2,400.6 L677.2,400.3 L679.2,400.0 L681.2,399.7 L683.2,399.4 L685.2,399.2 L687.2,398.9 L689.2,398.6 L691.2,398.3 L693.2,398.0 L695.2,397.7 L697.2,397.4 L699.2,397.1 L701.2,396.8 L703.2,396.5 L705.2,396.2 L707.2,395.9 L709.2,395.6 L711.2,395.4 L713.2,395.2 L715.2,395.0 L717.2,394.8 L719.2,394.6 L721.2,394.4 L723.2,394.2 L725.2,394.0 L727.2,393.8 L729.2,393.6 L731.2,393.4 L733.2,393.2 L735.2,393.0 L737.2,392.8 L739.2,392.6 L741.2,392.4 L743.2,392.2 L745.2,392.0 L747.2,391.8 L749.2,391.6 L749.8,391.5" fill="none" stroke="#d0307a" stroke-width="1.8" stroke-dasharray="1.6 1.65" stroke-linejoin="round"/>
<path d="M463.2,525.7 L465.2,525.4 L467.2,525.1 L469.2,524.8 L471.2,524.5 L473.2,524.2 L475.2,523.9 L477.2,523.6 L479.2,523.3 L481.2,522.9 L483.2,522.5 L485.2,522.1 L487.2,521.7 L489.2,521.3 L491.2,520.9 L493.2,520.5 L495.2,520.1 L497.2,519.7 L499.2,519.3 L501.2,519.0 L503.2,518.6 L505.2,518.3 L507.2,518.0 L509.2,517.7 L511.2,517.4 L513.2,517.1 L515.2,516.8 L517.2,516.5 L519.2,516.2 L521.2,516.0 L523.2,515.8 L525.2,515.7 L527.2,515.6 L529.2,515.5 L531.2,515.4 L533.2,515.3 L535.2,515.2 L537.2,515.1 L539.2,515.0 L541.2,514.9 L543.2,514.8 L545.2,514.7 L547.2,514.7 L549.2,514.6 L551.2,514.5 L553.2,514.4 L555.2,514.3 L557.2,514.2 L559.2,514.1 L561.2,513.9 L563.2,513.5 L565.2,513.0 L567.2,512.5 L569.2,511.8 L571.2,511.2 L573.2,510.3 L575.2,509.3 L577.2,508.3 L579.2,507.2 L581.2,506.0 L583.2,504.5 L585.2,502.9 L587.2,501.1 L589.2,499.2 L591.2,497.2 L593.2,495.0 L595.2,492.5 L597.2,489.8 L599.2,487.0 L601.2,484.2 L603.2,481.1 L605.2,477.7 L607.2,474.2 L609.2,470.7 L611.2,467.4 L613.2,464.4 L615.2,461.4 L617.2,458.6 L619.2,455.8 L621.2,453.1 L623.2,450.7 L625.2,448.5 L627.2,446.4 L629.2,444.2 L631.2,442.1 L633.2,440.0 L635.2,438.0 L637.2,436.0 L639.2,434.0 L641.2,432.1 L643.2,430.5 L645.2,429.1 L647.2,428.0 L649.2,426.9 L651.2,425.9 L653.2,425.0 L655.2,424.3 L657.2,423.6 L659.2,423.1 L661.2,422.6 L663.2,422.1 L665.2,421.6 L667.2,421.1 L669.2,420.6 L671.2,420.1 L673.2,419.7 L675.2,419.3 L677.2,419.0 L679.2,418.8 L681.2,418.8 L683.2,418.8 L685.2,418.8 L687.2,419.0 L689.2,419.2 L691.2,419.5 L693.2,419.9 L695.2,420.3 L697.2,420.7 L699.2,421.1 L701.2,421.5 L703.2,421.9 L705.2,422.3 L707.2,422.7 L709.2,423.0 L711.2,423.4 L713.2,423.7 L715.2,424.0 L717.2,424.3 L719.2,424.6 L721.2,424.9 L723.2,425.2 L725.2,425.5 L727.2,425.8 L729.2,426.1 L731.2,426.4 L733.2,426.5 L735.2,426.6 L737.2,426.6 L739.2,426.6 L741.2,426.6 L743.2,426.6 L745.2,426.6 L747.2,426.6 L749.2,426.6 L751.2,426.6 L753.2,426.6 L755.2,426.6 L757.2,426.6 L759.2,426.6 L761.2,426.6 L763.2,426.6 L765.2,426.6 L767.2,426.6 L769.2,426.6 L771.2,426.6 L773.2,426.6 L774.5,426.6" fill="none" stroke="#6a96f5" stroke-width="1.7" stroke-dasharray="6.5 1.8 3 1.7" stroke-linejoin="round"/>
<path d="M463.2,525.7 L465.2,525.4 L467.2,525.1 L469.2,524.8 L471.2,524.5 L473.2,524.2 L475.2,523.9 L477.2,523.6 L479.2,523.3 L481.2,522.9 L483.2,522.5 L485.2,522.1 L487.2,521.7 L489.2,521.3 L491.2,520.9 L493.2,520.5 L495.2,520.1 L497.2,519.7 L499.2,519.3 L501.2,519.0 L503.2,518.6 L505.2,518.3 L507.2,518.0 L509.2,517.7 L511.2,517.4 L513.2,517.1 L515.2,516.8 L517.2,516.5 L519.2,516.2 L521.2,516.0 L523.2,515.8 L525.2,515.7 L527.2,515.6 L529.2,515.5 L531.2,515.4 L533.2,515.3 L535.2,515.2 L537.2,515.1 L539.2,515.0 L541.2,514.9 L543.2,514.7 L545.2,514.6 L547.2,514.4 L549.2,514.2 L551.2,514.0 L553.2,513.8 L555.2,513.6 L557.2,513.4 L559.2,513.2 L561.2,512.9 L563.2,512.4 L565.2,511.7 L567.2,511.0 L569.2,510.1 L571.2,509.3 L573.2,508.3 L575.2,507.1 L577.2,505.9 L579.2,504.6 L581.2,503.2 L583.2,501.6 L585.2,499.7 L587.2,497.7 L589.2,495.6 L591.2,493.4 L593.2,490.9 L595.2,488.2 L597.2,485.4 L599.2,482.4 L601.2,479.5 L603.2,476.4 L605.2,473.4 L607.2,470.3 L609.2,467.1 L611.2,464.1 L613.2,461.3 L615.2,458.8 L617.2,456.4 L619.2,454.1 L621.2,451.6 L623.2,449.0 L625.2,446.3 L627.2,443.5 L629.2,440.7 L631.2,438.0 L633.2,435.4 L635.2,432.9 L637.2,430.4 L639.2,428.0 L641.2,425.7 L643.2,423.6 L645.2,421.8 L647.2,420.2 L649.2,418.8 L651.2,417.3 L653.2,416.0 L655.2,414.8 L657.2,413.8 L659.2,413.0 L661.2,412.3 L663.2,411.9 L665.2,411.5 L667.2,411.2 L669.2,410.9 L671.2,410.7 L673.2,410.4 L675.2,410.2 L677.2,410.1 L679.2,410.2 L681.2,410.4 L683.2,410.6 L685.2,410.8 L687.2,411.1 L689.2,411.4 L691.2,411.9 L693.2,412.4 L695.2,412.9 L697.2,413.4 L699.2,413.9 L701.2,414.4 L703.2,414.9 L705.2,415.4 L707.2,415.9 L709.2,416.3 L711.2,416.6 L713.2,416.7 L715.2,416.9 L717.2,417.0 L719.2,417.1 L721.2,417.2 L723.2,417.3 L725.2,417.4 L727.2,417.5 L729.2,417.5 L731.2,417.6 L733.2,417.6 L735.2,417.5 L737.2,417.4 L739.2,417.3 L741.2,417.2 L743.2,417.1 L745.2,417.0 L747.2,416.9 L749.2,416.8 L751.2,416.7 L753.2,416.6 L755.2,416.5 L757.2,416.4 L759.2,416.3 L761.2,416.2 L763.2,416.1 L765.2,416.0 L767.2,415.9 L769.2,415.8 L771.2,415.7 L773.2,415.6 L774.5,415.5" fill="none" stroke="#6690f2" stroke-width="1.8" stroke-dasharray="1.6 1.65" stroke-linejoin="round"/>
<path d="M463.2,525.7 L465.2,525.4 L467.2,525.1 L469.2,524.8 L471.2,524.5 L473.2,524.2 L475.2,523.9 L477.2,523.6 L479.2,523.3 L481.2,522.9 L483.2,522.5 L485.2,522.1 L487.2,521.7 L489.2,521.3 L491.2,520.9 L493.2,520.5 L495.2,520.1 L497.2,519.7 L499.2,519.3 L501.2,519.0 L503.2,518.6 L505.2,518.3 L507.2,518.0 L509.2,517.7 L511.2,517.4 L513.2,517.1 L515.2,516.8 L517.2,516.5 L519.2,516.2 L521.2,516.0 L523.2,515.8 L525.2,515.7 L527.2,515.6 L529.2,515.5 L531.2,515.4 L533.2,515.3 L535.2,515.2 L537.2,515.1 L539.2,515.0 L541.2,514.9 L543.2,514.8 L545.2,514.7 L547.2,514.5 L549.2,514.4 L551.2,514.2 L553.2,514.1 L555.2,514.0 L557.2,513.8 L559.2,513.6 L561.2,513.4 L563.2,512.9 L565.2,512.3 L567.2,511.6 L569.2,510.9 L571.2,510.0 L573.2,509.1 L575.2,508.0 L577.2,506.8 L579.2,505.6 L581.2,504.2 L583.2,502.7 L585.2,500.9 L587.2,498.9 L589.2,496.9 L591.2,494.8 L593.2,492.5 L595.2,489.9 L597.2,487.2 L599.2,484.4 L601.2,481.5 L603.2,478.6 L605.2,475.5 L607.2,472.3 L609.2,469.2 L611.2,466.1 L613.2,463.3 L615.2,460.8 L617.2,458.5 L619.2,456.2 L621.2,453.9 L623.2,451.3 L625.2,448.6 L627.2,445.8 L629.2,443.0 L631.2,440.3 L633.2,437.7 L635.2,435.2 L637.2,432.8 L639.2,430.4 L641.2,428.1 L643.2,426.0 L645.2,424.1 L647.2,422.4 L649.2,420.8 L651.2,419.2 L653.2,417.7 L655.2,416.4 L657.2,415.2 L659.2,414.3 L661.2,413.7 L663.2,413.3 L665.2,413.2 L667.2,413.2 L669.2,413.2 L671.2,413.3 L673.2,413.4 L675.2,413.5 L677.2,413.7 L679.2,413.9 L681.2,414.1 L683.2,414.3 L685.2,414.6 L687.2,414.9 L689.2,415.4 L691.2,416.0 L693.2,416.6 L695.2,417.3 L697.2,417.9 L699.2,418.6 L701.2,419.2 L703.2,419.9 L705.2,420.5 L707.2,421.2 L709.2,421.8 L711.2,422.4 L713.2,423.0 L715.2,423.7 L717.2,424.3 L719.2,424.9 L721.2,425.3 L723.2,425.7 L725.2,425.9 L727.2,426.1 L729.2,426.3 L731.2,426.5 L733.2,426.7 L735.2,426.9 L737.2,427.1 L739.2,427.3 L741.2,427.5 L743.2,427.6 L745.2,427.7 L747.2,427.7 L749.2,427.7 L751.2,427.7 L753.2,427.7 L755.2,427.7 L757.2,427.7 L759.2,427.7 L761.2,427.7 L763.2,427.7 L765.2,427.7 L767.2,427.7 L769.2,427.7 L771.2,427.7 L773.2,427.7 L774.5,427.7" fill="none" stroke="#ff0000" stroke-width="2.4" stroke-linejoin="round"/>
</g>
<line x1="463.2" y1="338.6" x2="463.2" y2="549.4" stroke="#dcdcdc" stroke-width="1"/>
<line x1="463.2" y1="549.4" x2="774.5" y2="549.4" stroke="#a0a0a0" stroke-width="1"/>
<line x1="463.2" y1="549.4" x2="466.2" y2="549.4" stroke="#b0b0b0" stroke-width="1"/>
<text x="459.2" y="553.9" font-size="10.3" fill="#3a3a3a" text-anchor="end">-10</text>
<line x1="463.2" y1="526.0" x2="466.2" y2="526.0" stroke="#b0b0b0" stroke-width="1"/>
<text x="459.2" y="530.5" font-size="10.3" fill="#3a3a3a" text-anchor="end">0</text>
<line x1="463.2" y1="502.6" x2="466.2" y2="502.6" stroke="#b0b0b0" stroke-width="1"/>
<text x="459.2" y="507.1" font-size="10.3" fill="#3a3a3a" text-anchor="end">10</text>
<line x1="463.2" y1="479.1" x2="466.2" y2="479.1" stroke="#b0b0b0" stroke-width="1"/>
<text x="459.2" y="483.6" font-size="10.3" fill="#3a3a3a" text-anchor="end">20</text>
<line x1="463.2" y1="455.7" x2="466.2" y2="455.7" stroke="#b0b0b0" stroke-width="1"/>
<text x="459.2" y="460.2" font-size="10.3" fill="#3a3a3a" text-anchor="end">30</text>
<line x1="463.2" y1="432.3" x2="466.2" y2="432.3" stroke="#b0b0b0" stroke-width="1"/>
<text x="459.2" y="436.8" font-size="10.3" fill="#3a3a3a" text-anchor="end">40</text>
<line x1="463.2" y1="408.9" x2="466.2" y2="408.9" stroke="#b0b0b0" stroke-width="1"/>
<text x="459.2" y="413.4" font-size="10.3" fill="#3a3a3a" text-anchor="end">50</text>
<line x1="463.2" y1="385.4" x2="466.2" y2="385.4" stroke="#b0b0b0" stroke-width="1"/>
<text x="459.2" y="389.9" font-size="10.3" fill="#3a3a3a" text-anchor="end">60</text>
<line x1="463.2" y1="362.0" x2="466.2" y2="362.0" stroke="#b0b0b0" stroke-width="1"/>
<text x="459.2" y="366.5" font-size="10.3" fill="#3a3a3a" text-anchor="end">70</text>
<line x1="463.2" y1="338.6" x2="466.2" y2="338.6" stroke="#b0b0b0" stroke-width="1"/>
<text x="459.2" y="343.1" font-size="10.3" fill="#3a3a3a" text-anchor="end">80</text>
<line x1="463.2" y1="549.4" x2="463.2" y2="546.4" stroke="#b0b0b0" stroke-width="1"/>
<text x="463.6" y="564.3" font-size="10.3" fill="#3a3a3a" text-anchor="middle">0</text>
<line x1="567.0" y1="549.4" x2="567.0" y2="546.4" stroke="#b0b0b0" stroke-width="1"/>
<text x="567.4" y="564.3" font-size="10.3" fill="#3a3a3a" text-anchor="middle">50</text>
<line x1="670.7" y1="549.4" x2="670.7" y2="546.4" stroke="#b0b0b0" stroke-width="1"/>
<text x="671.1" y="564.3" font-size="10.3" fill="#3a3a3a" text-anchor="middle">100</text>
<line x1="774.5" y1="549.4" x2="774.5" y2="546.4" stroke="#b0b0b0" stroke-width="1"/>
<text x="774.9" y="564.3" font-size="10.3" fill="#3a3a3a" text-anchor="middle">150</text>
<text x="619.5" y="579.0" font-size="11.7" fill="#3a3a3a" text-anchor="middle">Time [ms]</text>
<text transform="translate(440.0,444.0) rotate(-90)" font-size="11.9" fill="#3a3a3a" text-anchor="middle">Pelvis - Y Rotation [deg]</text>
<rect x="492.3" y="302.4" width="19.8" height="8.7" fill="#cdcdcd"/>
<text x="514.1" y="310.2" font-size="9.5" fill="#3a3a3a">Exp</text>
<line x1="492.3" y1="319.4" x2="512.2" y2="319.4" stroke="#ff0000" stroke-width="2.4"/>
<text x="514.1" y="322.7" font-size="9.5" fill="#3a3a3a">Base</text>
<line x1="540.0" y1="306.9" x2="560.3" y2="306.9" stroke="#6690f2" stroke-width="1.8" stroke-dasharray="1.6 1.65"/>
<text x="562.0" y="310.2" font-size="9.5" fill="#3a3a3a">B. fric. low</text>
<line x1="540.0" y1="319.4" x2="559.5" y2="319.4" stroke="#6a96f5" stroke-width="1.7" stroke-dasharray="6.5 1.8 3 1.7"/>
<text x="562.0" y="322.7" font-size="9.5" fill="#3a3a3a">B. fric. high</text>
<line x1="614.1" y1="306.9" x2="634.5" y2="306.9" stroke="#d0307a" stroke-width="1.8" stroke-dasharray="1.6 1.65"/>
<text x="636.0" y="310.2" font-size="9.5" fill="#3a3a3a">S. fric. low</text>
<line x1="614.1" y1="319.4" x2="633.4" y2="319.4" stroke="#e0409a" stroke-width="1.7" stroke-dasharray="6.5 1.8 3 1.7"/>
<text x="636.0" y="322.7" font-size="9.5" fill="#3a3a3a">S. fric. high</text>
<line x1="688.0" y1="306.9" x2="707.4" y2="306.9" stroke="#0f5a48" stroke-width="2.0" stroke-dasharray="6 6.5"/>
<text x="710.0" y="310.2" font-size="9.5" fill="#3a3a3a">B. bend.</text>
<path d="M37.2,850.4 L39.2,850.4 L41.2,850.4 L43.2,850.3 L45.2,850.3 L47.2,850.3 L49.2,850.3 L51.2,850.3 L53.2,850.3 L55.2,850.2 L57.2,850.2 L59.2,850.1 L61.2,849.9 L63.2,849.7 L65.2,849.4 L67.2,849.1 L69.2,848.8 L71.2,848.4 L73.2,848.1 L75.2,847.8 L77.2,847.5 L79.2,847.2 L81.2,846.9 L83.2,846.5 L85.2,846.0 L87.2,845.3 L89.2,844.4 L91.2,843.4 L93.2,842.5 L95.2,841.5 L97.2,840.4 L99.2,839.3 L101.2,838.0 L103.2,836.7 L105.2,835.4 L107.2,834.0 L109.2,832.6 L111.2,831.1 L113.2,829.4 L115.2,827.7 L117.2,825.9 L119.2,824.0 L121.2,822.2 L123.2,820.3 L125.2,818.4 L127.2,816.4 L129.2,814.4 L131.2,812.2 L133.2,809.9 L135.2,807.6 L137.2,805.3 L139.2,803.0 L141.2,800.7 L143.2,798.5 L145.2,796.3 L147.2,794.2 L149.2,792.0 L151.2,790.0 L153.2,787.9 L155.2,785.9 L157.2,783.9 L159.2,781.9 L161.2,780.0 L163.2,778.1 L165.2,776.3 L167.2,774.5 L169.2,772.7 L171.2,770.9 L173.2,769.3 L175.2,767.6 L177.2,766.0 L179.2,764.4 L181.2,762.9 L183.2,761.5 L185.2,760.1 L187.2,758.7 L189.2,757.4 L191.2,756.1 L193.2,755.0 L195.2,753.9 L197.2,752.9 L199.2,751.8 L201.2,750.6 L203.2,749.4 L205.2,748.1 L207.2,746.8 L209.2,745.5 L211.2,744.1 L213.2,742.7 L215.2,741.2 L217.2,739.7 L219.2,738.3 L221.2,737.0 L223.2,735.8 L225.2,734.7 L227.2,733.7 L229.2,732.7 L231.2,731.7 L233.2,730.8 L235.2,730.0 L237.2,729.2 L239.2,728.6 L241.2,728.0 L243.2,727.4 L245.2,726.8 L247.2,726.2 L249.2,725.6 L251.2,725.0 L253.2,724.4 L255.2,723.8 L257.2,723.2 L259.2,722.7 L261.2,722.3 L263.2,722.0 L265.2,721.8 L267.2,721.6 L269.2,721.4 L271.2,721.2 L273.2,721.1 L275.2,721.1 L277.2,721.2 L279.2,721.3 L281.2,721.4 L283.2,721.5 L285.2,721.8 L287.2,722.3 L289.2,722.9 L291.2,723.4 L293.2,724.0 L295.2,724.7 L297.2,725.3 L299.2,726.0 L301.2,726.9 L303.2,727.8 L305.2,728.8 L307.2,729.8 L309.2,730.8 L311.2,731.8 L313.2,732.8 L315.2,733.8 L317.2,734.8 L319.2,735.8 L321.2,736.8 L323.2,737.8 L325.2,738.8 L327.2,739.7 L329.2,740.6 L331.2,741.4 L333.2,742.1 L335.2,742.7 L337.2,743.4 L339.2,744.0 L341.2,744.7 L343.2,745.4 L345.2,746.0 L347.2,746.6 L348.7,747.2 L348.7,778.1 L347.2,777.0 L345.2,776.1 L343.2,775.1 L341.2,774.0 L339.2,772.8 L337.2,771.7 L335.2,770.6 L333.2,769.5 L331.2,768.4 L329.2,767.3 L327.2,766.1 L325.2,764.9 L323.2,763.7 L321.2,762.5 L319.2,761.2 L317.2,760.0 L315.2,758.8 L313.2,757.6 L311.2,756.5 L309.2,755.4 L307.2,754.6 L305.2,753.8 L303.2,753.0 L301.2,752.2 L299.2,751.5 L297.2,750.7 L295.2,750.0 L293.2,749.4 L291.2,748.8 L289.2,748.2 L287.2,747.6 L285.2,747.0 L283.2,746.4 L281.2,745.8 L279.2,745.3 L277.2,744.9 L275.2,744.4 L273.2,744.0 L271.2,743.5 L269.2,743.1 L267.2,742.7 L265.2,742.3 L263.2,742.0 L261.2,741.8 L259.2,741.5 L257.2,741.3 L255.2,741.1 L253.2,740.9 L251.2,740.7 L249.2,740.7 L247.2,740.7 L245.2,740.8 L243.2,740.9 L241.2,741.1 L239.2,741.3 L237.2,741.5 L235.2,741.8 L233.2,742.0 L231.2,742.3 L229.2,742.6 L227.2,743.0 L225.2,743.3 L223.2,743.7 L221.2,744.1 L219.2,744.6 L217.2,745.0 L215.2,745.6 L213.2,746.4 L211.2,747.2 L209.2,748.1 L207.2,749.1 L205.2,750.1 L203.2,751.2 L201.2,752.4 L199.2,753.5 L197.2,754.6 L195.2,755.5 L193.2,756.5 L191.2,757.7 L189.2,758.9 L187.2,760.3 L185.2,761.7 L183.2,763.1 L181.2,764.6 L179.2,766.1 L177.2,767.7 L175.2,769.3 L173.2,771.0 L171.2,772.6 L169.2,774.3 L167.2,776.1 L165.2,777.9 L163.2,779.7 L161.2,781.6 L159.2,783.7 L157.2,785.8 L155.2,788.0 L153.2,790.2 L151.2,792.5 L149.2,794.8 L147.2,797.2 L145.2,799.6 L143.2,801.9 L141.2,804.2 L139.2,806.4 L137.2,808.5 L135.2,810.5 L133.2,812.5 L131.2,814.5 L129.2,816.6 L127.2,818.6 L125.2,820.7 L123.2,822.7 L121.2,824.6 L119.2,826.4 L117.2,828.2 L115.2,829.9 L113.2,831.6 L111.2,833.2 L109.2,834.5 L107.2,835.8 L105.2,837.0 L103.2,838.1 L101.2,839.3 L99.2,840.4 L97.2,841.3 L95.2,842.2 L93.2,842.9 L91.2,843.7 L89.2,844.5 L87.2,845.2 L85.2,846.0 L83.2,846.7 L81.2,847.4 L79.2,848.0 L77.2,848.4 L75.2,848.7 L73.2,849.0 L71.2,849.2 L69.2,849.5 L67.2,849.8 L65.2,850.1 L63.2,850.3 L61.2,850.6 L59.2,850.7 L57.2,850.8 L55.2,850.8 L53.2,850.8 L51.2,850.8 L49.2,850.8 L47.2,850.8 L45.2,850.8 L43.2,850.8 L41.2,850.8 L39.2,850.8 L37.2,850.8 Z" fill="#cdcdcd" stroke="none"/>
<g clip-path="url(#clipE)">
<path d="M37.2,850.6 L39.2,850.6 L41.2,850.6 L43.2,850.6 L45.2,850.6 L47.2,850.6 L49.2,850.6 L51.2,850.5 L53.2,850.4 L55.2,850.2 L57.2,850.1 L59.2,849.9 L61.2,849.8 L63.2,849.6 L65.2,849.4 L67.2,849.2 L69.2,849.0 L71.2,848.7 L73.2,848.3 L75.2,847.9 L77.2,847.4 L79.2,846.8 L81.2,846.3 L83.2,845.7 L85.2,845.0 L87.2,844.2 L89.2,843.2 L91.2,842.2 L93.2,841.2 L95.2,840.2 L97.2,839.1 L99.2,837.9 L101.2,836.6 L103.2,835.2 L105.2,833.8 L107.2,832.4 L109.2,830.9 L111.2,829.2 L113.2,827.4 L115.2,825.4 L117.2,823.3 L119.2,821.3 L121.2,819.1 L123.2,817.0 L125.2,814.7 L127.2,812.4 L129.2,810.1 L131.2,807.7 L133.2,805.3 L135.2,802.9 L137.2,800.4 L139.2,798.0 L141.2,795.5 L143.2,793.0 L145.2,790.4 L147.2,787.9 L149.2,785.4 L151.2,783.0 L153.2,780.6 L155.2,778.2 L157.2,775.8 L159.2,773.5 L161.2,771.3 L163.2,769.1 L165.2,766.9 L167.2,764.8 L169.2,762.8 L171.2,760.8 L173.2,758.9 L175.2,757.1 L177.2,755.3 L179.2,753.4 L181.2,751.4 L183.2,749.3 L185.2,747.3 L187.2,745.3 L189.2,743.4 L191.2,741.8 L193.2,740.2 L195.2,738.7 L197.2,737.2 L199.2,735.7 L201.2,734.4 L203.2,733.2 L205.2,732.1 L207.2,731.1 L209.2,730.2 L211.2,729.3 L213.2,728.5 L215.2,727.7 L217.2,727.0 L219.2,726.5 L221.2,726.0 L223.2,725.5 L225.2,725.0 L227.2,724.6 L229.2,724.2 L231.2,724.0 L233.2,723.9 L235.2,723.7 L237.2,723.6 L239.2,723.4 L241.2,723.3 L243.2,723.2 L245.2,723.2 L247.2,723.1 L249.2,723.0 L251.2,723.0 L253.2,723.0 L255.2,723.0 L257.2,723.0 L259.2,723.1 L261.2,723.1 L263.2,723.2 L265.2,723.3 L267.2,723.4 L269.2,723.6 L271.2,723.9 L273.2,724.1 L275.2,724.3 L277.2,724.6 L279.2,724.9 L281.2,725.2 L283.2,725.5 L285.2,725.9 L287.2,726.3 L289.2,726.9 L291.2,727.6 L293.2,728.5 L295.2,729.6 L297.2,730.6 L299.2,731.6 L301.2,732.6 L303.2,733.5 L305.2,734.4 L307.2,735.3 L309.2,736.2 L311.2,737.1 L313.2,738.0 L315.2,738.9 L317.2,739.8 L319.2,740.7 L321.2,741.6 L323.2,742.5 L325.2,743.4 L327.2,744.3 L329.2,745.3 L331.2,746.3 L333.2,747.3 L335.2,748.3 L337.2,749.3 L339.2,750.4 L341.2,751.4 L343.2,752.4 L345.2,753.4 L347.2,754.3 L348.7,755.3" fill="none" stroke="#0f5a48" stroke-width="2.0" stroke-dasharray="6 6.5" stroke-linejoin="round"/>
<path d="M37.2,850.6 L39.2,850.6 L41.2,850.6 L43.2,850.6 L45.2,850.6 L47.2,850.6 L49.2,850.6 L51.2,850.5 L53.2,850.4 L55.2,850.2 L57.2,850.1 L59.2,849.9 L61.2,849.8 L63.2,849.6 L65.2,849.4 L67.2,849.2 L69.2,849.0 L71.2,848.7 L73.2,848.3 L75.2,847.9 L77.2,847.4 L79.2,846.8 L81.2,846.3 L83.2,845.7 L85.2,845.0 L87.2,844.2 L89.2,843.3 L91.2,842.3 L93.2,841.4 L95.2,840.4 L97.2,839.3 L99.2,838.2 L101.2,836.9 L103.2,835.5 L105.2,834.2 L107.2,832.8 L109.2,831.3 L111.2,829.8 L113.2,828.1 L115.2,826.3 L117.2,824.4 L119.2,822.6 L121.2,820.7 L123.2,818.7 L125.2,816.7 L127.2,814.6 L129.2,812.4 L131.2,810.2 L133.2,807.9 L135.2,805.5 L137.2,803.1 L139.2,800.7 L141.2,798.4 L143.2,796.1 L145.2,793.9 L147.2,791.7 L149.2,789.6 L151.2,787.5 L153.2,785.4 L155.2,783.4 L157.2,781.4 L159.2,779.4 L161.2,777.5 L163.2,775.7 L165.2,773.8 L167.2,772.0 L169.2,770.3 L171.2,768.5 L173.2,766.9 L175.2,765.2 L177.2,763.6 L179.2,762.0 L181.2,760.4 L183.2,758.9 L185.2,757.5 L187.2,756.1 L189.2,754.8 L191.2,753.7 L193.2,752.6 L195.2,751.7 L197.2,750.7 L199.2,749.8 L201.2,748.7 L203.2,747.7 L205.2,746.7 L207.2,745.8 L209.2,745.1 L211.2,744.5 L213.2,744.0 L215.2,743.5 L217.2,743.1 L219.2,742.8 L221.2,742.5 L223.2,742.2 L225.2,741.9 L227.2,741.6 L229.2,741.5 L231.2,741.4 L233.2,741.4 L235.2,741.3 L237.2,741.3 L239.2,741.4 L241.2,741.6 L243.2,742.0 L245.2,742.4 L247.2,743.0 L249.2,743.5 L251.2,744.0 L253.2,744.5 L255.2,745.0 L257.2,745.6 L259.2,746.4 L261.2,747.2 L263.2,748.1 L265.2,749.0 L267.2,749.9 L269.2,750.8 L271.2,751.7 L273.2,752.6 L275.2,753.5 L277.2,754.4 L279.2,755.3 L281.2,756.2 L283.2,757.1 L285.2,758.0 L287.2,758.9 L289.2,759.8 L291.2,760.7 L293.2,761.6 L295.2,762.5 L297.2,763.4 L299.2,764.3 L301.2,765.2 L303.2,766.2 L305.2,767.1 L307.2,768.1 L309.2,769.1 L311.2,770.1 L313.2,771.2 L315.2,772.4 L317.2,773.7 L319.2,775.1 L321.2,776.5 L323.2,777.9 L325.2,779.3 L327.2,780.6 L329.2,781.9 L331.2,783.1 L333.2,784.2 L335.2,785.3 L337.2,786.4 L339.2,787.5 L341.2,788.7 L343.2,789.8 L345.2,790.8 L347.2,791.7 L348.7,792.8" fill="none" stroke="#e0409a" stroke-width="1.7" stroke-dasharray="6.5 1.8 3 1.7" stroke-linejoin="round"/>
<path d="M37.2,850.6 L39.2,850.6 L41.2,850.6 L43.2,850.6 L45.2,850.6 L47.2,850.6 L49.2,850.6 L51.2,850.5 L53.2,850.4 L55.2,850.2 L57.2,850.1 L59.2,849.9 L61.2,849.8 L63.2,849.6 L65.2,849.4 L67.2,849.2 L69.2,849.0 L71.2,848.7 L73.2,848.3 L75.2,847.9 L77.2,847.4 L79.2,846.8 L81.2,846.3 L83.2,845.7 L85.2,845.0 L87.2,844.2 L89.2,843.2 L91.2,842.2 L93.2,841.2 L95.2,840.2 L97.2,839.1 L99.2,837.9 L101.2,836.6 L103.2,835.1 L105.2,833.7 L107.2,832.2 L109.2,830.7 L111.2,829.0 L113.2,827.1 L115.2,825.1 L117.2,823.0 L119.2,820.9 L121.2,818.7 L123.2,816.4 L125.2,814.0 L127.2,811.6 L129.2,809.1 L131.2,806.6 L133.2,804.1 L135.2,801.6 L137.2,799.1 L139.2,796.6 L141.2,794.0 L143.2,791.4 L145.2,788.8 L147.2,786.3 L149.2,783.7 L151.2,781.3 L153.2,779.0 L155.2,776.8 L157.2,774.6 L159.2,772.4 L161.2,770.2 L163.2,768.1 L165.2,766.0 L167.2,763.9 L169.2,761.7 L171.2,759.5 L173.2,757.2 L175.2,754.9 L177.2,752.5 L179.2,750.2 L181.2,747.9 L183.2,745.8 L185.2,743.8 L187.2,741.8 L189.2,740.0 L191.2,738.3 L193.2,736.6 L195.2,734.9 L197.2,733.1 L199.2,731.2 L201.2,729.2 L203.2,727.2 L205.2,725.2 L207.2,723.2 L209.2,721.3 L211.2,719.4 L213.2,717.6 L215.2,715.9 L217.2,714.2 L219.2,712.6 L221.2,711.0 L223.2,709.5 L225.2,707.9 L227.2,706.4 L229.2,704.9 L231.2,703.5 L233.2,702.0 L235.2,700.6 L237.2,699.2 L239.2,697.8 L241.2,696.6 L243.2,695.4 L245.2,694.3 L247.2,693.3 L249.2,692.2 L251.2,691.2 L253.2,690.3 L255.2,689.6 L257.2,689.0 L259.2,688.4 L261.2,687.9 L263.2,687.4 L265.2,687.0 L267.2,686.6 L269.2,686.4 L271.2,686.1 L273.2,685.9 L275.2,685.8 L277.2,685.6 L279.2,685.6 L281.2,685.6 L283.2,685.7 L285.2,685.8 L287.2,685.9 L289.2,686.1 L291.2,686.3 L293.2,686.7 L295.2,687.2 L297.2,687.7 L299.2,688.3 L301.2,688.9 L303.2,689.5 L305.2,690.2 L307.2,690.9 L309.2,691.7 L311.2,692.5 L313.2,693.4 L315.2,694.2 L317.2,695.1 L319.2,695.9 L321.2,696.7 L323.2,697.3 L323.7,697.9" fill="none" stroke="#d0307a" stroke-width="1.8" stroke-dasharray="1.6 1.65" stroke-linejoin="round"/>
<path d="M37.2,850.6 L39.2,850.6 L41.2,850.6 L43.2,850.6 L45.2,850.6 L47.2,850.6 L49.2,850.6 L51.2,850.5 L53.2,850.4 L55.2,850.2 L57.2,850.1 L59.2,849.9 L61.2,849.8 L63.2,849.6 L65.2,849.4 L67.2,849.2 L69.2,849.0 L71.2,848.7 L73.2,848.3 L75.2,847.9 L77.2,847.4 L79.2,846.8 L81.2,846.3 L83.2,845.7 L85.2,845.0 L87.2,844.2 L89.2,843.2 L91.2,842.2 L93.2,841.2 L95.2,840.2 L97.2,839.1 L99.2,837.9 L101.2,836.6 L103.2,835.2 L105.2,833.8 L107.2,832.4 L109.2,830.9 L111.2,829.2 L113.2,827.4 L115.2,825.4 L117.2,823.4 L119.2,821.3 L121.2,819.2 L123.2,817.1 L125.2,814.9 L127.2,812.6 L129.2,810.3 L131.2,807.9 L133.2,805.5 L135.2,803.1 L137.2,800.7 L139.2,798.2 L141.2,795.8 L143.2,793.3 L145.2,790.8 L147.2,788.3 L149.2,785.8 L151.2,783.4 L153.2,781.0 L155.2,778.7 L157.2,776.4 L159.2,774.1 L161.2,771.9 L163.2,769.7 L165.2,767.6 L167.2,765.5 L169.2,763.4 L171.2,761.5 L173.2,759.6 L175.2,757.8 L177.2,756.0 L179.2,754.2 L181.2,752.3 L183.2,750.2 L185.2,748.2 L187.2,746.2 L189.2,744.5 L191.2,742.9 L193.2,741.3 L195.2,739.9 L197.2,738.4 L199.2,737.1 L201.2,735.8 L203.2,734.6 L205.2,733.5 L207.2,732.5 L209.2,731.5 L211.2,730.6 L213.2,729.7 L215.2,728.8 L217.2,728.1 L219.2,727.5 L221.2,726.9 L223.2,726.4 L225.2,725.9 L227.2,725.4 L229.2,725.0 L231.2,724.8 L233.2,724.6 L235.2,724.5 L237.2,724.3 L239.2,724.2 L241.2,724.1 L243.2,724.0 L245.2,724.0 L247.2,724.0 L249.2,724.0 L251.2,724.0 L253.2,724.0 L255.2,724.1 L257.2,724.1 L259.2,724.2 L261.2,724.3 L263.2,724.4 L265.2,724.5 L267.2,724.6 L269.2,724.8 L271.2,725.1 L273.2,725.3 L275.2,725.5 L277.2,725.8 L279.2,726.1 L281.2,726.4 L283.2,726.7 L285.2,727.1 L287.2,727.5 L289.2,728.0 L291.2,728.7 L293.2,729.6 L295.2,730.5 L297.2,731.4 L299.2,732.4 L301.2,733.3 L303.2,734.2 L305.2,735.1 L307.2,735.9 L309.2,736.8 L311.2,737.7 L313.2,738.6 L315.2,739.5 L317.2,740.5 L319.2,741.4 L321.2,742.4 L323.2,743.3 L325.2,744.3 L327.2,745.2 L329.2,746.2 L331.2,747.1 L333.2,748.1 L335.2,749.1 L337.2,750.0 L339.2,751.0 L341.2,751.9 L343.2,752.9 L345.2,753.8 L347.2,754.6 L348.7,755.5" fill="none" stroke="#6a96f5" stroke-width="1.7" stroke-dasharray="6.5 1.8 3 1.7" stroke-linejoin="round"/>
<path d="M37.2,850.6 L39.2,850.6 L41.2,850.6 L43.2,850.6 L45.2,850.6 L47.2,850.6 L49.2,850.6 L51.2,850.5 L53.2,850.4 L55.2,850.2 L57.2,850.1 L59.2,849.9 L61.2,849.8 L63.2,849.6 L65.2,849.4 L67.2,849.2 L69.2,849.0 L71.2,848.7 L73.2,848.3 L75.2,847.9 L77.2,847.4 L79.2,846.8 L81.2,846.3 L83.2,845.7 L85.2,845.0 L87.2,844.2 L89.2,843.2 L91.2,842.2 L93.2,841.2 L95.2,840.2 L97.2,839.1 L99.2,837.9 L101.2,836.6 L103.2,835.2 L105.2,833.8 L107.2,832.4 L109.2,830.9 L111.2,829.2 L113.2,827.4 L115.2,825.4 L117.2,823.3 L119.2,821.3 L121.2,819.1 L123.2,817.0 L125.2,814.7 L127.2,812.4 L129.2,810.1 L131.2,807.7 L133.2,805.3 L135.2,802.9 L137.2,800.4 L139.2,797.9 L141.2,795.4 L143.2,792.9 L145.2,790.4 L147.2,787.8 L149.2,785.3 L151.2,782.8 L153.2,780.4 L155.2,778.0 L157.2,775.6 L159.2,773.3 L161.2,771.0 L163.2,768.7 L165.2,766.6 L167.2,764.4 L169.2,762.3 L171.2,760.3 L173.2,758.3 L175.2,756.4 L177.2,754.6 L179.2,752.6 L181.2,750.6 L183.2,748.5 L185.2,746.3 L187.2,744.2 L189.2,742.3 L191.2,740.5 L193.2,738.8 L195.2,737.2 L197.2,735.5 L199.2,734.0 L201.2,732.5 L203.2,731.2 L205.2,730.0 L207.2,729.0 L209.2,728.0 L211.2,727.1 L213.2,726.1 L215.2,725.3 L217.2,724.5 L219.2,723.9 L221.2,723.2 L223.2,722.6 L225.2,722.0 L227.2,721.4 L229.2,721.0 L231.2,720.6 L233.2,720.3 L235.2,720.0 L237.2,719.7 L239.2,719.4 L241.2,719.2 L243.2,719.0 L245.2,718.8 L247.2,718.7 L249.2,718.5 L251.2,718.4 L253.2,718.3 L255.2,718.2 L257.2,718.2 L259.2,718.2 L261.2,718.2 L263.2,718.2 L265.2,718.2 L267.2,718.3 L269.2,718.4 L271.2,718.5 L273.2,718.7 L275.2,718.8 L277.2,719.0 L279.2,719.1 L281.2,719.3 L283.2,719.6 L285.2,719.8 L287.2,720.1 L289.2,720.5 L291.2,721.1 L293.2,721.8 L295.2,722.6 L297.2,723.5 L299.2,724.3 L301.2,725.1 L303.2,725.9 L305.2,726.7 L307.2,727.5 L309.2,728.3 L311.2,729.2 L313.2,730.0 L315.2,730.9 L317.2,731.9 L319.2,732.8 L321.2,733.8 L323.2,734.8 L325.2,735.8 L327.2,736.8 L329.2,737.8 L331.2,738.8 L333.2,739.7 L335.2,740.7 L337.2,741.7 L339.2,742.6 L341.2,743.6 L343.2,744.5 L345.2,745.5 L347.2,746.3 L348.7,747.2" fill="none" stroke="#6690f2" stroke-width="1.8" stroke-dasharray="1.6 1.65" stroke-linejoin="round"/>
<path d="M37.2,850.6 L39.2,850.6 L41.2,850.6 L43.2,850.6 L45.2,850.6 L47.2,850.6 L49.2,850.6 L51.2,850.5 L53.2,850.4 L55.2,850.2 L57.2,850.1 L59.2,849.9 L61.2,849.8 L63.2,849.6 L65.2,849.4 L67.2,849.2 L69.2,849.0 L71.2,848.7 L73.2,848.3 L75.2,847.9 L77.2,847.4 L79.2,846.8 L81.2,846.3 L83.2,845.7 L85.2,845.0 L87.2,844.2 L89.2,843.2 L91.2,842.2 L93.2,841.2 L95.2,840.2 L97.2,839.1 L99.2,837.9 L101.2,836.6 L103.2,835.2 L105.2,833.8 L107.2,832.4 L109.2,830.9 L111.2,829.2 L113.2,827.4 L115.2,825.4 L117.2,823.4 L119.2,821.4 L121.2,819.3 L123.2,817.2 L125.2,815.0 L127.2,812.8 L129.2,810.5 L131.2,808.1 L133.2,805.8 L135.2,803.4 L137.2,801.0 L139.2,798.5 L141.2,796.1 L143.2,793.6 L145.2,791.1 L147.2,788.6 L149.2,786.2 L151.2,783.8 L153.2,781.4 L155.2,779.1 L157.2,776.8 L159.2,774.6 L161.2,772.4 L163.2,770.3 L165.2,768.3 L167.2,766.3 L169.2,764.3 L171.2,762.4 L173.2,760.6 L175.2,758.9 L177.2,757.2 L179.2,755.4 L181.2,753.5 L183.2,751.5 L185.2,749.5 L187.2,747.6 L189.2,745.9 L191.2,744.4 L193.2,743.0 L195.2,741.6 L197.2,740.3 L199.2,739.0 L201.2,737.8 L203.2,736.7 L205.2,735.7 L207.2,734.9 L209.2,734.0 L211.2,733.1 L213.2,732.1 L215.2,731.2 L217.2,730.5 L219.2,729.8 L221.2,729.3 L223.2,728.8 L225.2,728.2 L227.2,727.8 L229.2,727.4 L231.2,727.1 L233.2,726.9 L235.2,726.7 L237.2,726.5 L239.2,726.3 L241.2,726.2 L243.2,726.1 L245.2,726.1 L247.2,726.1 L249.2,726.1 L251.2,726.1 L253.2,726.2 L255.2,726.3 L257.2,726.6 L259.2,726.8 L261.2,727.1 L263.2,727.3 L265.2,727.6 L267.2,728.0 L269.2,728.3 L271.2,728.7 L273.2,729.1 L275.2,729.5 L277.2,729.9 L279.2,730.3 L281.2,730.9 L283.2,731.6 L285.2,732.3 L287.2,733.1 L289.2,733.9 L291.2,734.7 L293.2,735.4 L295.2,736.2 L297.2,737.1 L299.2,737.9 L301.2,738.8 L303.2,739.6 L305.2,740.5 L307.2,741.3 L309.2,742.2 L311.2,743.2 L313.2,744.2 L315.2,745.2 L317.2,746.3 L319.2,747.3 L321.2,748.4 L323.2,749.5 L325.2,750.5 L327.2,751.5 L329.2,752.6 L331.2,753.5 L333.2,754.5 L335.2,755.5 L337.2,756.4 L339.2,757.4 L341.2,758.3 L343.2,759.3 L345.2,760.2 L347.2,761.0 L348.7,761.9" fill="none" stroke="#ff0000" stroke-width="2.4" stroke-linejoin="round"/>
</g>
<line x1="37.0" y1="640.2" x2="37.0" y2="850.6" stroke="#dcdcdc" stroke-width="1"/>
<line x1="37.0" y1="850.6" x2="348.3" y2="850.6" stroke="#a0a0a0" stroke-width="1"/>
<line x1="37.0" y1="850.6" x2="40.0" y2="850.6" stroke="#b0b0b0" stroke-width="1"/>
<text x="33.0" y="855.1" font-size="10.3" fill="#3a3a3a" text-anchor="end">0</text>
<line x1="37.0" y1="820.5" x2="40.0" y2="820.5" stroke="#b0b0b0" stroke-width="1"/>
<text x="33.0" y="825.0" font-size="10.3" fill="#3a3a3a" text-anchor="end">50</text>
<line x1="37.0" y1="790.5" x2="40.0" y2="790.5" stroke="#b0b0b0" stroke-width="1"/>
<text x="33.0" y="795.0" font-size="10.3" fill="#3a3a3a" text-anchor="end">100</text>
<line x1="37.0" y1="760.4" x2="40.0" y2="760.4" stroke="#b0b0b0" stroke-width="1"/>
<text x="33.0" y="764.9" font-size="10.3" fill="#3a3a3a" text-anchor="end">150</text>
<line x1="37.0" y1="730.4" x2="40.0" y2="730.4" stroke="#b0b0b0" stroke-width="1"/>
<text x="33.0" y="734.9" font-size="10.3" fill="#3a3a3a" text-anchor="end">200</text>
<line x1="37.0" y1="700.3" x2="40.0" y2="700.3" stroke="#b0b0b0" stroke-width="1"/>
<text x="33.0" y="704.8" font-size="10.3" fill="#3a3a3a" text-anchor="end">250</text>
<line x1="37.0" y1="670.3" x2="40.0" y2="670.3" stroke="#b0b0b0" stroke-width="1"/>
<text x="33.0" y="674.8" font-size="10.3" fill="#3a3a3a" text-anchor="end">300</text>
<line x1="37.0" y1="640.2" x2="40.0" y2="640.2" stroke="#b0b0b0" stroke-width="1"/>
<text x="33.0" y="644.7" font-size="10.3" fill="#3a3a3a" text-anchor="end">350</text>
<line x1="37.0" y1="850.6" x2="37.0" y2="847.6" stroke="#b0b0b0" stroke-width="1"/>
<text x="37.4" y="865.5" font-size="10.3" fill="#3a3a3a" text-anchor="middle">0</text>
<line x1="140.8" y1="850.6" x2="140.8" y2="847.6" stroke="#b0b0b0" stroke-width="1"/>
<text x="141.2" y="865.5" font-size="10.3" fill="#3a3a3a" text-anchor="middle">50</text>
<line x1="244.5" y1="850.6" x2="244.5" y2="847.6" stroke="#b0b0b0" stroke-width="1"/>
<text x="244.9" y="865.5" font-size="10.3" fill="#3a3a3a" text-anchor="middle">100</text>
<line x1="348.3" y1="850.6" x2="348.3" y2="847.6" stroke="#b0b0b0" stroke-width="1"/>
<text x="348.7" y="865.5" font-size="10.3" fill="#3a3a3a" text-anchor="middle">150</text>
<text x="193.2" y="880.2" font-size="11.7" fill="#3a3a3a" text-anchor="middle">Time [ms]</text>
<text transform="translate(13.8,745.4) rotate(-90)" font-size="11.9" fill="#3a3a3a" text-anchor="middle">H-point - X Displacement [mm]</text>
<rect x="66.1" y="603.7" width="19.8" height="8.7" fill="#cdcdcd"/>
<text x="87.9" y="611.5" font-size="9.5" fill="#3a3a3a">Exp</text>
<line x1="66.1" y1="620.7" x2="86.0" y2="620.7" stroke="#ff0000" stroke-width="2.4"/>
<text x="87.9" y="624.0" font-size="9.5" fill="#3a3a3a">Base</text>
<line x1="113.8" y1="608.2" x2="134.1" y2="608.2" stroke="#6690f2" stroke-width="1.8" stroke-dasharray="1.6 1.65"/>
<text x="135.8" y="611.5" font-size="9.5" fill="#3a3a3a">B. fric. low</text>
<line x1="113.8" y1="620.7" x2="133.3" y2="620.7" stroke="#6a96f5" stroke-width="1.7" stroke-dasharray="6.5 1.8 3 1.7"/>
<text x="135.8" y="624.0" font-size="9.5" fill="#3a3a3a">B. fric. high</text>
<line x1="187.9" y1="608.2" x2="208.3" y2="608.2" stroke="#d0307a" stroke-width="1.8" stroke-dasharray="1.6 1.65"/>
<text x="209.8" y="611.5" font-size="9.5" fill="#3a3a3a">S. fric. low</text>
<line x1="187.9" y1="620.7" x2="207.2" y2="620.7" stroke="#e0409a" stroke-width="1.7" stroke-dasharray="6.5 1.8 3 1.7"/>
<text x="209.8" y="624.0" font-size="9.5" fill="#3a3a3a">S. fric. high</text>
<line x1="261.8" y1="608.2" x2="281.2" y2="608.2" stroke="#0f5a48" stroke-width="2.0" stroke-dasharray="6 6.5"/>
<text x="283.8" y="611.5" font-size="9.5" fill="#3a3a3a">B. bend.</text>
<path d="M463.2,724.0 L465.2,723.9 L467.2,723.8 L469.2,723.7 L471.2,723.7 L473.2,723.6 L475.2,723.5 L477.2,723.4 L479.2,723.3 L481.2,723.3 L483.2,723.2 L485.2,723.2 L487.2,723.1 L489.2,723.1 L491.2,723.0 L493.2,723.0 L495.2,722.9 L497.2,722.9 L499.2,722.8 L501.2,722.8 L503.2,722.7 L505.2,722.7 L507.2,722.7 L509.2,722.8 L511.2,722.9 L513.2,723.0 L515.2,723.2 L517.2,723.3 L519.2,723.5 L521.2,723.8 L523.2,724.3 L525.2,724.8 L527.2,725.4 L529.2,726.1 L531.2,726.9 L533.2,727.7 L535.2,728.6 L537.2,729.5 L539.2,730.4 L541.2,731.2 L543.2,731.8 L545.2,732.4 L547.2,732.9 L549.2,733.4 L551.2,733.9 L553.2,734.3 L555.2,734.8 L557.2,735.3 L559.2,735.8 L561.2,736.3 L563.2,736.8 L565.2,737.2 L567.2,737.6 L569.2,738.1 L571.2,738.5 L573.2,739.0 L575.2,739.4 L577.2,739.9 L579.2,740.3 L581.2,740.7 L583.2,741.0 L585.2,741.3 L587.2,741.5 L589.2,741.7 L591.2,741.8 L593.2,741.8 L595.2,741.6 L597.2,741.4 L599.2,741.0 L601.2,740.5 L603.2,739.8 L605.2,739.0 L607.2,738.2 L609.2,737.4 L611.2,736.8 L613.2,736.2 L615.2,735.7 L617.2,735.3 L619.2,734.9 L621.2,734.5 L623.2,734.3 L625.2,734.1 L627.2,734.1 L629.2,734.2 L631.2,734.2 L633.2,734.3 L635.2,734.3 L637.2,734.4 L639.2,734.5 L641.2,734.5 L643.2,734.6 L645.2,734.6 L647.2,734.6 L649.2,734.6 L651.2,734.6 L653.2,734.5 L655.2,734.5 L657.2,734.4 L659.2,734.3 L661.2,734.3 L663.2,734.2 L665.2,734.2 L667.2,734.1 L669.2,734.0 L671.2,733.8 L673.2,733.6 L675.2,733.4 L677.2,733.1 L679.2,732.9 L681.2,732.6 L683.2,732.4 L685.2,732.1 L687.2,731.9 L689.2,731.6 L691.2,731.4 L693.2,731.3 L695.2,731.4 L697.2,731.6 L699.2,731.9 L701.2,732.2 L703.2,732.4 L705.2,732.6 L707.2,732.5 L709.2,732.3 L711.2,732.0 L713.2,731.7 L715.2,731.4 L717.2,731.1 L719.2,731.0 L721.2,730.8 L723.2,730.7 L725.2,730.7 L727.2,730.6 L729.2,730.5 L731.2,730.4 L733.2,730.3 L735.2,730.2 L737.2,730.2 L739.2,730.1 L741.2,730.1 L743.2,730.1 L745.2,730.2 L747.2,730.3 L749.2,730.4 L751.2,730.4 L753.2,730.5 L755.2,730.6 L757.2,730.7 L759.2,730.8 L761.2,730.9 L763.2,731.0 L765.2,731.1 L767.2,731.2 L769.2,731.3 L771.2,731.5 L773.2,731.6 L774.8,731.7 L774.8,746.0 L773.2,746.4 L771.2,746.7 L769.2,747.1 L767.2,747.5 L765.2,747.9 L763.2,748.3 L761.2,748.7 L759.2,749.1 L757.2,749.5 L755.2,749.9 L753.2,750.1 L751.2,750.0 L749.2,749.8 L747.2,749.4 L745.2,749.0 L743.2,748.6 L741.2,748.2 L739.2,747.8 L737.2,747.4 L735.2,747.0 L733.2,746.6 L731.2,746.2 L729.2,745.9 L727.2,745.5 L725.2,745.2 L723.2,744.9 L721.2,744.6 L719.2,744.3 L717.2,744.0 L715.2,743.7 L713.2,743.4 L711.2,743.1 L709.2,742.8 L707.2,742.5 L705.2,742.4 L703.2,742.5 L701.2,742.7 L699.2,742.9 L697.2,743.1 L695.2,743.3 L693.2,743.4 L691.2,743.6 L689.2,743.7 L687.2,743.9 L685.2,744.0 L683.2,744.2 L681.2,744.3 L679.2,744.5 L677.2,744.6 L675.2,744.7 L673.2,744.9 L671.2,745.0 L669.2,745.0 L667.2,744.9 L665.2,744.8 L663.2,744.7 L661.2,744.5 L659.2,744.4 L657.2,744.1 L655.2,743.8 L653.2,743.5 L651.2,743.2 L649.2,742.9 L647.2,742.7 L645.2,742.6 L643.2,742.5 L641.2,742.5 L639.2,742.5 L637.2,742.5 L635.2,742.5 L633.2,742.5 L631.2,742.5 L629.2,742.5 L627.2,742.5 L625.2,742.5 L623.2,742.6 L621.2,742.7 L619.2,742.9 L617.2,743.0 L615.2,743.2 L613.2,743.4 L611.2,743.5 L609.2,743.7 L607.2,743.9 L605.2,744.1 L603.2,744.2 L601.2,744.3 L599.2,744.2 L597.2,744.1 L595.2,743.8 L593.2,743.5 L591.2,743.2 L589.2,743.0 L587.2,742.7 L585.2,742.4 L583.2,742.1 L581.2,741.7 L579.2,741.3 L577.2,740.9 L575.2,740.4 L573.2,740.0 L571.2,739.5 L569.2,739.1 L567.2,738.6 L565.2,738.2 L563.2,737.8 L561.2,737.3 L559.2,736.8 L557.2,736.3 L555.2,735.8 L553.2,735.3 L551.2,734.9 L549.2,734.4 L547.2,733.9 L545.2,733.4 L543.2,732.9 L541.2,732.3 L539.2,731.7 L537.2,731.1 L535.2,730.5 L533.2,729.8 L531.2,729.3 L529.2,728.8 L527.2,728.5 L525.2,728.3 L523.2,728.1 L521.2,727.9 L519.2,727.8 L517.2,727.6 L515.2,727.4 L513.2,727.3 L511.2,727.1 L509.2,727.0 L507.2,726.8 L505.2,726.6 L503.2,726.5 L501.2,726.3 L499.2,726.2 L497.2,726.1 L495.2,726.0 L493.2,725.9 L491.2,725.8 L489.2,725.7 L487.2,725.6 L485.2,725.6 L483.2,725.5 L481.2,725.4 L479.2,725.3 L477.2,725.2 L475.2,725.1 L473.2,725.0 L471.2,724.9 L469.2,724.9 L467.2,724.8 L465.2,724.7 L463.2,724.6 Z" fill="#cdcdcd" stroke="none"/>
<g clip-path="url(#clipF)">
<path d="M463.2,724.1 L465.2,724.2 L467.2,724.2 L469.2,724.3 L471.2,724.4 L473.2,724.4 L475.2,724.5 L477.2,724.6 L479.2,724.7 L481.2,724.8 L483.2,724.9 L485.2,725.0 L487.2,725.1 L489.2,725.2 L491.2,725.3 L493.2,725.5 L495.2,725.6 L497.2,725.7 L499.2,725.8 L501.2,725.9 L503.2,726.1 L505.2,726.2 L507.2,726.3 L509.2,726.5 L511.2,726.6 L513.2,726.8 L515.2,726.9 L517.2,727.0 L519.2,727.2 L521.2,727.3 L523.2,727.5 L525.2,727.8 L527.2,728.0 L529.2,728.4 L531.2,728.9 L533.2,729.5 L535.2,730.1 L537.2,730.8 L539.2,731.4 L541.2,732.0 L543.2,732.6 L545.2,733.1 L547.2,733.6 L549.2,734.1 L551.2,734.6 L553.2,735.1 L555.2,735.6 L557.2,736.1 L559.2,736.6 L561.2,737.1 L563.2,737.5 L565.2,738.0 L567.2,738.4 L569.2,738.9 L571.2,739.3 L573.2,739.8 L575.2,740.2 L577.2,740.7 L579.2,741.1 L581.2,741.5 L583.2,742.0 L585.2,742.4 L587.2,742.8 L589.2,743.2 L591.2,743.6 L593.2,744.1 L595.2,744.5 L597.2,744.9 L599.2,745.3 L601.2,745.8 L603.2,746.2 L605.2,746.6 L607.2,747.0 L609.2,747.5 L611.2,747.9 L613.2,748.3 L615.2,748.7 L617.2,749.2 L619.2,749.6 L621.2,750.1 L623.2,750.6 L625.2,751.2 L627.2,752.0 L629.2,752.8 L631.2,753.6 L633.2,754.4 L635.2,755.1 L637.2,755.9 L639.2,756.7 L641.2,757.5 L643.2,758.4 L645.2,759.3 L647.2,760.4 L649.2,761.7 L651.2,763.2 L653.2,764.8 L655.2,766.4 L657.2,767.8 L659.2,769.1 L661.2,770.1 L663.2,771.0 L665.2,771.8 L667.2,772.6 L669.2,773.2 L671.2,773.7 L673.2,774.0 L675.2,774.2 L677.2,774.3 L679.2,774.4 L681.2,774.3 L683.2,774.0 L685.2,773.4 L687.2,772.8 L689.2,772.1 L691.2,771.3 L693.2,770.4 L695.2,769.2 L697.2,767.8 L699.2,766.4 L701.2,764.9 L703.2,763.4 L705.2,762.2 L707.2,761.2 L709.2,760.5 L711.2,759.9 L713.2,759.4 L715.2,758.9 L717.2,758.5 L719.2,758.2 L721.2,758.1 L723.2,758.0 L725.2,757.9 L727.2,757.8 L729.2,757.8 L731.2,757.7 L733.2,757.6 L735.2,757.4 L737.2,757.2 L739.2,756.9 L741.2,756.5 L743.2,756.1 L745.2,755.7 L747.2,755.3 L749.2,754.9 L751.2,754.5 L753.2,754.0 L755.2,753.6 L757.2,753.2 L759.2,752.7 L761.2,752.3 L763.2,751.9 L765.2,751.6 L767.2,751.3 L769.2,751.1 L771.2,750.9 L773.2,750.7 L774.5,750.5" fill="none" stroke="#0f5a48" stroke-width="2.0" stroke-dasharray="6 6.5" stroke-linejoin="round"/>
<path d="M463.2,724.1 L465.2,724.2 L467.2,724.2 L469.2,724.3 L471.2,724.4 L473.2,724.4 L475.2,724.5 L477.2,724.6 L479.2,724.7 L481.2,724.8 L483.2,724.9 L485.2,725.0 L487.2,725.1 L489.2,725.2 L491.2,725.3 L493.2,725.5 L495.2,725.6 L497.2,725.7 L499.2,725.8 L501.2,725.9 L503.2,726.1 L505.2,726.2 L507.2,726.3 L509.2,726.5 L511.2,726.6 L513.2,726.8 L515.2,726.9 L517.2,727.0 L519.2,727.2 L521.2,727.4 L523.2,727.6 L525.2,727.9 L527.2,728.2 L529.2,728.6 L531.2,729.3 L533.2,730.1 L535.2,730.9 L537.2,731.8 L539.2,732.6 L541.2,733.5 L543.2,734.3 L545.2,735.1 L547.2,735.9 L549.2,736.7 L551.2,737.5 L553.2,738.3 L555.2,739.1 L557.2,739.9 L559.2,740.7 L561.2,741.4 L563.2,741.9 L565.2,742.4 L567.2,742.8 L569.2,743.2 L571.2,743.6 L573.2,744.1 L575.2,744.5 L577.2,744.9 L579.2,745.3 L581.2,745.6 L583.2,746.0 L585.2,746.3 L587.2,746.6 L589.2,746.9 L591.2,747.2 L593.2,747.5 L595.2,747.8 L597.2,748.1 L599.2,748.4 L601.2,748.7 L603.2,748.9 L605.2,749.0 L607.2,749.1 L609.2,749.2 L611.2,749.3 L613.2,749.3 L615.2,749.3 L617.2,749.3 L619.2,749.3 L621.2,749.3 L623.2,749.4 L625.2,749.5 L627.2,749.6 L629.2,749.8 L631.2,749.9 L633.2,750.1 L635.2,750.2 L637.2,750.4 L639.2,750.6 L641.2,750.7 L643.2,750.9 L645.2,751.1 L647.2,751.3 L649.2,751.5 L651.2,751.8 L653.2,752.1 L655.2,752.3 L657.2,752.6 L659.2,752.9 L661.2,753.1 L663.2,753.4 L665.2,753.7 L667.2,753.9 L669.2,754.1 L671.2,754.3 L673.2,754.3 L675.2,754.2 L677.2,754.2 L679.2,754.1 L681.2,753.9 L683.2,753.5 L685.2,753.0 L687.2,752.5 L689.2,751.9 L691.2,751.3 L693.2,750.6 L695.2,749.9 L697.2,749.2 L699.2,748.4 L701.2,747.6 L703.2,746.8 L705.2,746.1 L707.2,745.6 L709.2,745.1 L711.2,744.7 L713.2,744.3 L715.2,743.9 L717.2,743.7 L719.2,743.6 L721.2,743.6 L723.2,743.8 L725.2,743.9 L727.2,744.0 L729.2,744.3 L731.2,744.7 L733.2,745.1 L735.2,745.6 L737.2,746.0 L739.2,746.5 L741.2,747.0 L743.2,747.5 L745.2,748.1 L747.2,748.6 L749.2,749.1 L751.2,749.5 L753.2,749.6 L755.2,749.5 L757.2,749.2 L759.2,748.9 L761.2,748.6 L763.2,748.2 L765.2,747.6 L767.2,746.9 L769.2,746.2 L771.2,745.4 L773.2,744.8 L774.5,744.1" fill="none" stroke="#e0409a" stroke-width="1.7" stroke-dasharray="6.5 1.8 3 1.7" stroke-linejoin="round"/>
<path d="M463.2,724.1 L465.2,724.2 L467.2,724.2 L469.2,724.3 L471.2,724.4 L473.2,724.4 L475.2,724.5 L477.2,724.6 L479.2,724.7 L481.2,724.8 L483.2,724.9 L485.2,725.0 L487.2,725.1 L489.2,725.2 L491.2,725.3 L493.2,725.5 L495.2,725.6 L497.2,725.7 L499.2,725.8 L501.2,725.9 L503.2,726.1 L505.2,726.2 L507.2,726.3 L509.2,726.5 L511.2,726.6 L513.2,726.8 L515.2,726.9 L517.2,727.0 L519.2,727.2 L521.2,727.3 L523.2,727.5 L525.2,727.6 L527.2,727.8 L529.2,728.1 L531.2,728.4 L533.2,728.8 L535.2,729.2 L537.2,729.7 L539.2,730.1 L541.2,730.5 L543.2,730.9 L545.2,731.3 L547.2,731.7 L549.2,732.1 L551.2,732.5 L553.2,732.9 L555.2,733.3 L557.2,733.7 L559.2,734.1 L561.2,734.6 L563.2,735.0 L565.2,735.4 L567.2,735.8 L569.2,736.3 L571.2,736.7 L573.2,737.2 L575.2,737.6 L577.2,738.1 L579.2,738.5 L581.2,738.9 L583.2,739.4 L585.2,739.9 L587.2,740.3 L589.2,740.8 L591.2,741.3 L593.2,741.8 L595.2,742.3 L597.2,742.8 L599.2,743.3 L601.2,744.0 L603.2,744.7 L605.2,745.5 L607.2,746.3 L609.2,747.1 L611.2,748.1 L613.2,749.1 L615.2,750.2 L617.2,751.4 L619.2,752.6 L621.2,753.9 L623.2,755.2 L625.2,756.6 L627.2,758.2 L629.2,759.7 L631.2,761.3 L633.2,762.9 L635.2,764.3 L637.2,765.7 L639.2,766.9 L641.2,768.1 L643.2,769.3 L645.2,770.5 L647.2,771.6 L649.2,772.7 L651.2,773.7 L653.2,774.7 L655.2,775.7 L657.2,776.6 L659.2,777.5 L661.2,778.4 L663.2,779.2 L665.2,780.0 L667.2,780.8 L669.2,781.5 L671.2,782.1 L673.2,782.6 L675.2,783.1 L677.2,783.5 L679.2,783.9 L681.2,784.2 L683.2,784.5 L685.2,784.6 L687.2,784.7 L689.2,784.8 L691.2,784.9 L693.2,784.8 L695.2,784.7 L697.2,784.5 L699.2,784.2 L701.2,783.9 L703.2,783.6 L705.2,783.2 L707.2,782.8 L709.2,782.2 L711.2,781.6 L713.2,781.0 L715.2,780.4 L717.2,779.8 L719.2,779.2 L721.2,778.6 L723.2,778.1 L725.2,777.5 L727.2,776.9 L729.2,776.4 L731.2,776.0 L733.2,775.7 L735.2,775.4 L737.2,775.1 L739.2,774.9 L741.2,774.7 L743.2,774.6 L745.2,774.6 L747.2,774.6 L749.0,774.6" fill="none" stroke="#d0307a" stroke-width="1.8" stroke-dasharray="1.6 1.65" stroke-linejoin="round"/>
<path d="M463.2,724.1 L465.2,724.2 L467.2,724.2 L469.2,724.3 L471.2,724.4 L473.2,724.4 L475.2,724.5 L477.2,724.6 L479.2,724.7 L481.2,724.8 L483.2,724.9 L485.2,725.0 L487.2,725.1 L489.2,725.2 L491.2,725.3 L493.2,725.5 L495.2,725.6 L497.2,725.7 L499.2,725.8 L501.2,725.9 L503.2,726.1 L505.2,726.2 L507.2,726.3 L509.2,726.5 L511.2,726.6 L513.2,726.8 L515.2,726.9 L517.2,727.0 L519.2,727.2 L521.2,727.3 L523.2,727.5 L525.2,727.8 L527.2,728.0 L529.2,728.4 L531.2,728.9 L533.2,729.5 L535.2,730.1 L537.2,730.8 L539.2,731.4 L541.2,732.0 L543.2,732.6 L545.2,733.1 L547.2,733.6 L549.2,734.1 L551.2,734.6 L553.2,735.1 L555.2,735.6 L557.2,736.1 L559.2,736.6 L561.2,737.1 L563.2,737.5 L565.2,738.0 L567.2,738.4 L569.2,738.8 L571.2,739.2 L573.2,739.6 L575.2,740.0 L577.2,740.4 L579.2,740.8 L581.2,741.2 L583.2,741.7 L585.2,742.1 L587.2,742.5 L589.2,742.9 L591.2,743.2 L593.2,743.6 L595.2,744.0 L597.2,744.4 L599.2,744.8 L601.2,745.1 L603.2,745.4 L605.2,745.7 L607.2,745.9 L609.2,746.2 L611.2,746.5 L613.2,746.7 L615.2,747.0 L617.2,747.3 L619.2,747.5 L621.2,747.8 L623.2,748.2 L625.2,748.8 L627.2,749.4 L629.2,750.1 L631.2,750.8 L633.2,751.5 L635.2,752.2 L637.2,752.9 L639.2,753.6 L641.2,754.3 L643.2,755.0 L645.2,755.7 L647.2,756.5 L649.2,757.2 L651.2,758.0 L653.2,758.8 L655.2,759.6 L657.2,760.4 L659.2,761.2 L661.2,762.0 L663.2,762.8 L665.2,763.6 L667.2,764.4 L669.2,765.0 L671.2,765.5 L673.2,765.7 L675.2,765.8 L677.2,765.9 L679.2,766.0 L681.2,766.0 L683.2,766.1 L685.2,766.1 L687.2,766.2 L689.2,766.3 L691.2,766.3 L693.2,766.2 L695.2,766.1 L697.2,765.8 L699.2,765.4 L701.2,765.1 L703.2,764.7 L705.2,764.4 L707.2,764.0 L709.2,763.7 L711.2,763.3 L713.2,762.9 L715.2,762.6 L717.2,762.4 L719.2,762.2 L721.2,762.1 L723.2,762.0 L725.2,762.0 L727.2,761.9 L729.2,761.8 L731.2,761.8 L733.2,761.7 L735.2,761.7 L737.2,761.6 L739.2,761.5 L741.2,761.3 L743.2,761.1 L745.2,760.7 L747.2,760.4 L749.2,760.1 L751.2,759.7 L753.2,759.4 L755.2,759.0 L757.2,758.7 L759.2,758.4 L761.2,758.0 L763.2,757.7 L765.2,757.3 L767.2,756.8 L769.2,756.4 L771.2,756.0 L773.2,755.6 L774.5,755.2" fill="none" stroke="#6a96f5" stroke-width="1.7" stroke-dasharray="6.5 1.8 3 1.7" stroke-linejoin="round"/>
<path d="M463.2,724.1 L465.2,724.2 L467.2,724.2 L469.2,724.3 L471.2,724.4 L473.2,724.4 L475.2,724.5 L477.2,724.6 L479.2,724.7 L481.2,724.8 L483.2,724.9 L485.2,725.0 L487.2,725.1 L489.2,725.2 L491.2,725.3 L493.2,725.5 L495.2,725.6 L497.2,725.7 L499.2,725.8 L501.2,725.9 L503.2,726.1 L505.2,726.2 L507.2,726.3 L509.2,726.5 L511.2,726.6 L513.2,726.8 L515.2,726.9 L517.2,727.0 L519.2,727.2 L521.2,727.3 L523.2,727.5 L525.2,727.8 L527.2,728.0 L529.2,728.4 L531.2,728.9 L533.2,729.5 L535.2,730.1 L537.2,730.8 L539.2,731.4 L541.2,732.0 L543.2,732.6 L545.2,733.1 L547.2,733.6 L549.2,734.1 L551.2,734.6 L553.2,735.1 L555.2,735.6 L557.2,736.1 L559.2,736.6 L561.2,737.1 L563.2,737.5 L565.2,738.0 L567.2,738.4 L569.2,738.8 L571.2,739.2 L573.2,739.6 L575.2,740.0 L577.2,740.4 L579.2,740.8 L581.2,741.2 L583.2,741.7 L585.2,742.1 L587.2,742.5 L589.2,742.9 L591.2,743.2 L593.2,743.6 L595.2,744.0 L597.2,744.4 L599.2,744.8 L601.2,745.2 L603.2,745.6 L605.2,746.0 L607.2,746.3 L609.2,746.7 L611.2,747.0 L613.2,747.4 L615.2,747.8 L617.2,748.1 L619.2,748.5 L621.2,748.9 L623.2,749.4 L625.2,750.0 L627.2,750.6 L629.2,751.3 L631.2,752.0 L633.2,752.7 L635.2,753.4 L637.2,754.1 L639.2,754.8 L641.2,755.5 L643.2,756.2 L645.2,757.0 L647.2,757.8 L649.2,758.7 L651.2,759.6 L653.2,760.6 L655.2,761.6 L657.2,762.6 L659.2,763.6 L661.2,764.6 L663.2,765.6 L665.2,766.6 L667.2,767.5 L669.2,768.3 L671.2,768.8 L673.2,769.0 L675.2,769.0 L677.2,768.9 L679.2,768.8 L681.2,768.7 L683.2,768.6 L685.2,768.5 L687.2,768.4 L689.2,768.3 L691.2,768.2 L693.2,768.0 L695.2,767.8 L697.2,767.5 L699.2,767.1 L701.2,766.8 L703.2,766.4 L705.2,766.0 L707.2,765.7 L709.2,765.3 L711.2,764.9 L713.2,764.6 L715.2,764.2 L717.2,764.0 L719.2,763.8 L721.2,763.7 L723.2,763.6 L725.2,763.5 L727.2,763.4 L729.2,763.3 L731.2,763.3 L733.2,763.2 L735.2,763.1 L737.2,763.0 L739.2,762.9 L741.2,762.8 L743.2,762.6 L745.2,762.3 L747.2,762.1 L749.2,761.8 L751.2,761.5 L753.2,761.3 L755.2,761.0 L757.2,760.7 L759.2,760.5 L761.2,760.2 L763.2,759.9 L765.2,759.5 L767.2,759.1 L769.2,758.7 L771.2,758.3 L773.2,757.9 L774.5,757.5" fill="none" stroke="#6690f2" stroke-width="1.8" stroke-dasharray="1.6 1.65" stroke-linejoin="round"/>
<path d="M463.2,724.1 L465.2,724.2 L467.2,724.2 L469.2,724.3 L471.2,724.4 L473.2,724.4 L475.2,724.5 L477.2,724.6 L479.2,724.7 L481.2,724.8 L483.2,724.9 L485.2,725.0 L487.2,725.1 L489.2,725.2 L491.2,725.3 L493.2,725.5 L495.2,725.6 L497.2,725.7 L499.2,725.8 L501.2,725.9 L503.2,726.1 L505.2,726.2 L507.2,726.3 L509.2,726.5 L511.2,726.6 L513.2,726.8 L515.2,726.9 L517.2,727.0 L519.2,727.2 L521.2,727.3 L523.2,727.5 L525.2,727.8 L527.2,728.0 L529.2,728.4 L531.2,728.9 L533.2,729.5 L535.2,730.1 L537.2,730.8 L539.2,731.4 L541.2,732.0 L543.2,732.6 L545.2,733.1 L547.2,733.6 L549.2,734.1 L551.2,734.6 L553.2,735.1 L555.2,735.6 L557.2,736.1 L559.2,736.6 L561.2,737.1 L563.2,737.5 L565.2,738.0 L567.2,738.4 L569.2,738.9 L571.2,739.3 L573.2,739.8 L575.2,740.2 L577.2,740.7 L579.2,741.1 L581.2,741.5 L583.2,742.0 L585.2,742.4 L587.2,742.8 L589.2,743.3 L591.2,743.7 L593.2,744.1 L595.2,744.6 L597.2,745.0 L599.2,745.4 L601.2,745.9 L603.2,746.3 L605.2,746.7 L607.2,747.1 L609.2,747.6 L611.2,748.1 L613.2,748.8 L615.2,749.5 L617.2,750.3 L619.2,751.1 L621.2,751.9 L623.2,752.7 L625.2,753.5 L627.2,754.3 L629.2,755.1 L631.2,755.9 L633.2,756.7 L635.2,757.5 L637.2,758.3 L639.2,759.1 L641.2,759.9 L643.2,760.7 L645.2,761.5 L647.2,762.2 L649.2,762.9 L651.2,763.5 L653.2,764.1 L655.2,764.7 L657.2,765.2 L659.2,765.7 L661.2,766.2 L663.2,766.6 L665.2,767.0 L667.2,767.4 L669.2,767.7 L671.2,768.0 L673.2,768.1 L675.2,768.1 L677.2,768.1 L679.2,768.1 L681.2,767.9 L683.2,767.6 L685.2,767.1 L687.2,766.5 L689.2,765.9 L691.2,765.3 L693.2,764.7 L695.2,764.1 L697.2,763.5 L699.2,762.9 L701.2,762.3 L703.2,761.7 L705.2,761.2 L707.2,760.8 L709.2,760.4 L711.2,760.1 L713.2,759.8 L715.2,759.5 L717.2,759.3 L719.2,759.2 L721.2,759.2 L723.2,759.3 L725.2,759.3 L727.2,759.4 L729.2,759.5 L731.2,759.5 L733.2,759.6 L735.2,759.6 L737.2,759.7 L739.2,759.7 L741.2,759.5 L743.2,759.3 L745.2,758.9 L747.2,758.5 L749.2,758.1 L751.2,757.7 L753.2,757.2 L755.2,756.6 L757.2,755.9 L759.2,755.2 L761.2,754.6 L763.2,753.9 L765.2,753.3 L767.2,752.7 L769.2,752.1 L771.2,751.5 L773.2,751.0 L774.5,750.5" fill="none" stroke="#ff0000" stroke-width="2.4" stroke-linejoin="round"/>
</g>
<line x1="463.2" y1="640.2" x2="463.2" y2="850.6" stroke="#dcdcdc" stroke-width="1"/>
<line x1="463.2" y1="850.6" x2="774.5" y2="850.6" stroke="#a0a0a0" stroke-width="1"/>
<line x1="463.2" y1="850.6" x2="466.2" y2="850.6" stroke="#b0b0b0" stroke-width="1"/>
<text x="459.2" y="855.1" font-size="10.3" fill="#3a3a3a" text-anchor="end">-60</text>
<line x1="463.2" y1="808.5" x2="466.2" y2="808.5" stroke="#b0b0b0" stroke-width="1"/>
<text x="459.2" y="813.0" font-size="10.3" fill="#3a3a3a" text-anchor="end">-40</text>
<line x1="463.2" y1="766.4" x2="466.2" y2="766.4" stroke="#b0b0b0" stroke-width="1"/>
<text x="459.2" y="770.9" font-size="10.3" fill="#3a3a3a" text-anchor="end">-20</text>
<line x1="463.2" y1="724.4" x2="466.2" y2="724.4" stroke="#b0b0b0" stroke-width="1"/>
<text x="459.2" y="728.9" font-size="10.3" fill="#3a3a3a" text-anchor="end">0</text>
<line x1="463.2" y1="682.3" x2="466.2" y2="682.3" stroke="#b0b0b0" stroke-width="1"/>
<text x="459.2" y="686.8" font-size="10.3" fill="#3a3a3a" text-anchor="end">20</text>
<line x1="463.2" y1="640.2" x2="466.2" y2="640.2" stroke="#b0b0b0" stroke-width="1"/>
<text x="459.2" y="644.7" font-size="10.3" fill="#3a3a3a" text-anchor="end">40</text>
<line x1="463.2" y1="850.6" x2="463.2" y2="847.6" stroke="#b0b0b0" stroke-width="1"/>
<text x="463.6" y="865.5" font-size="10.3" fill="#3a3a3a" text-anchor="middle">0</text>
<line x1="567.0" y1="850.6" x2="567.0" y2="847.6" stroke="#b0b0b0" stroke-width="1"/>
<text x="567.4" y="865.5" font-size="10.3" fill="#3a3a3a" text-anchor="middle">50</text>
<line x1="670.7" y1="850.6" x2="670.7" y2="847.6" stroke="#b0b0b0" stroke-width="1"/>
<text x="671.1" y="865.5" font-size="10.3" fill="#3a3a3a" text-anchor="middle">100</text>
<line x1="774.5" y1="850.6" x2="774.5" y2="847.6" stroke="#b0b0b0" stroke-width="1"/>
<text x="774.9" y="865.5" font-size="10.3" fill="#3a3a3a" text-anchor="middle">150</text>
<text x="619.5" y="880.2" font-size="11.7" fill="#3a3a3a" text-anchor="middle">Time [ms]</text>
<text transform="translate(440.0,745.4) rotate(-90)" font-size="11.9" fill="#3a3a3a" text-anchor="middle">H-point - Z Displacement [mm]</text>
<rect x="492.3" y="603.7" width="19.8" height="8.7" fill="#cdcdcd"/>
<text x="514.1" y="611.5" font-size="9.5" fill="#3a3a3a">Exp</text>
<line x1="492.3" y1="620.7" x2="512.2" y2="620.7" stroke="#ff0000" stroke-width="2.4"/>
<text x="514.1" y="624.0" font-size="9.5" fill="#3a3a3a">Base</text>
<line x1="540.0" y1="608.2" x2="560.3" y2="608.2" stroke="#6690f2" stroke-width="1.8" stroke-dasharray="1.6 1.65"/>
<text x="562.0" y="611.5" font-size="9.5" fill="#3a3a3a">B. fric. low</text>
<line x1="540.0" y1="620.7" x2="559.5" y2="620.7" stroke="#6a96f5" stroke-width="1.7" stroke-dasharray="6.5 1.8 3 1.7"/>
<text x="562.0" y="624.0" font-size="9.5" fill="#3a3a3a">B. fric. high</text>
<line x1="614.1" y1="608.2" x2="634.5" y2="608.2" stroke="#d0307a" stroke-width="1.8" stroke-dasharray="1.6 1.65"/>
<text x="636.0" y="611.5" font-size="9.5" fill="#3a3a3a">S. fric. low</text>
<line x1="614.1" y1="620.7" x2="633.4" y2="620.7" stroke="#e0409a" stroke-width="1.7" stroke-dasharray="6.5 1.8 3 1.7"/>
<text x="636.0" y="624.0" font-size="9.5" fill="#3a3a3a">S. fric. high</text>
<line x1="688.0" y1="608.2" x2="707.4" y2="608.2" stroke="#0f5a48" stroke-width="2.0" stroke-dasharray="6 6.5"/>
<text x="710.0" y="611.5" font-size="9.5" fill="#3a3a3a">B. bend.</text>
</svg>
</body></html>
